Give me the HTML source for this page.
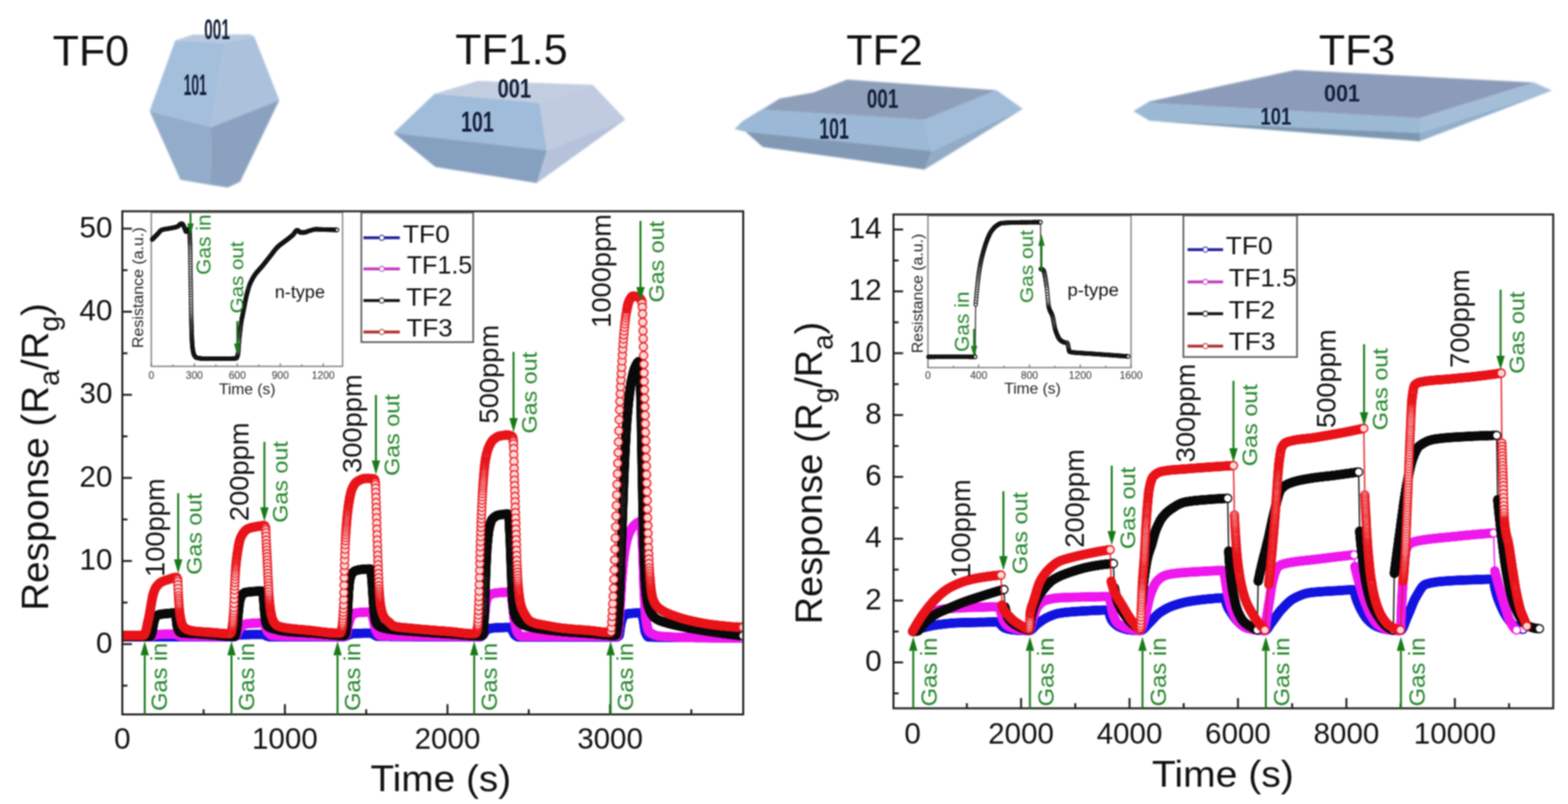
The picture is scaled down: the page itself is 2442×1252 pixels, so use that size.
<!DOCTYPE html>
<html><head><meta charset="utf-8"><title>TiO2 facets gas sensing response</title>
<style>
html,body{margin:0;padding:0;background:#fff;}
body{width:2442px;height:1252px;overflow:hidden;}
svg{display:block;filter:blur(0.9px);}
text{font-family:"Liberation Sans", Arial, Helvetica, sans-serif;}
</style></head><body>
<svg width="2442" height="1252" viewBox="0 0 2442 1252">
<rect width="2442" height="1252" fill="#fff"/>
<defs><filter id="soft" x="-5%" y="-5%" width="110%" height="110%"><feGaussianBlur stdDeviation="0.9"/></filter></defs>
<g filter="url(#soft)">
<polygon points="273.0,63.0 300.0,54.0 390.0,53.5 396.0,57.0 350.0,67.0" fill="#b7c9de"/>
<polygon points="273.0,63.0 350.0,67.0 329.0,198.0 233.0,173.0" fill="#a4bfdc"/>
<polygon points="350.0,67.0 396.0,57.0 435.0,156.0 329.0,198.0" fill="#abc1dc"/>
<polygon points="233.0,173.0 329.0,198.0 328.0,288.0 281.0,280.0" fill="#93acc9"/>
<polygon points="329.0,198.0 435.0,156.0 374.0,283.0 355.0,292.0 328.0,288.0" fill="#8aa2bf"/>
<polygon points="677.0,146.0 744.0,126.0 923.0,132.0 840.0,160.0" fill="#c3cde0"/>
<polygon points="613.0,207.0 677.0,146.0 840.0,160.0 852.0,234.0" fill="#9fbcda"/>
<polygon points="840.0,160.0 923.0,132.0 974.0,186.0 852.0,234.0" fill="#c0cbe0"/>
<polygon points="613.0,207.0 852.0,234.0 836.0,285.0 678.0,260.0" fill="#86a0bf"/>
<polygon points="852.0,234.0 974.0,186.0 836.0,285.0" fill="#b5c2da"/>
<polygon points="1144.0,201.0 1156.0,189.0 1214.0,153.5 1190.0,171.0 1440.0,186.5 1452.0,235.0 1161.0,205.0" fill="#9bb8d6"/>
<polygon points="1190.0,171.0 1214.0,153.5 1267.0,144.0 1319.0,124.0 1552.0,140.5 1440.0,186.5" fill="#8e9fb9"/>
<polygon points="1440.0,186.5 1552.0,140.5 1593.0,169.5 1452.0,235.0" fill="#a0bcd9"/>
<polygon points="1161.0,205.0 1452.0,235.0 1440.0,264.0 1188.0,229.0" fill="#8199b5"/>
<polygon points="1452.0,235.0 1593.0,169.5 1440.0,264.0" fill="#93abc6"/>
<polygon points="1765.0,173.0 1790.0,158.0 1790.0,160.0 2211.0,184.0 2211.0,207.0 1790.0,188.0" fill="#9bb9d4"/>
<polygon points="1790.0,160.0 1790.0,158.0 2017.0,109.0 2389.0,128.5 2211.0,184.0" fill="#8c9bb9"/>
<polygon points="2211.0,184.0 2389.0,128.5 2417.0,141.0 2211.0,207.0" fill="#a5bed8"/>
<polygon points="1790.0,188.0 2211.0,207.0 2211.0,220.0" fill="#7b98b0"/>
<polygon points="2211.0,207.0 2417.0,141.0 2211.0,220.0" fill="#93afcc"/>
</g>
<text x="318.0" y="61.0" font-size="44" fill="#15203a" textLength="40" lengthAdjust="spacingAndGlyphs" font-weight="bold">001</text>
<text x="286.0" y="148.0" font-size="46" fill="#15203a" textLength="36" lengthAdjust="spacingAndGlyphs" font-weight="bold">101</text>
<text x="775.0" y="152.0" font-size="42" fill="#15203a" textLength="52" lengthAdjust="spacingAndGlyphs" font-weight="bold">001</text>
<text x="718.0" y="205.0" font-size="44" fill="#15203a" textLength="51" lengthAdjust="spacingAndGlyphs" font-weight="bold">101</text>
<text x="1350.0" y="168.0" font-size="42" fill="#15203a" textLength="49" lengthAdjust="spacingAndGlyphs" font-weight="bold">001</text>
<text x="1276.0" y="216.0" font-size="46" fill="#15203a" textLength="46" lengthAdjust="spacingAndGlyphs" font-weight="bold">101</text>
<text x="2062.0" y="158.0" font-size="37" fill="#15203a" textLength="56" lengthAdjust="spacingAndGlyphs" font-weight="bold">001</text>
<text x="1963.0" y="194.0" font-size="37" fill="#15203a" textLength="48" lengthAdjust="spacingAndGlyphs" font-weight="bold">101</text>
<text x="82.0" y="102.0" font-size="67" fill="#111">TF0</text>
<text x="709.0" y="100.0" font-size="67" fill="#111">TF1.5</text>
<text x="1318.0" y="101.0" font-size="67" fill="#111">TF2</text>
<text x="2054.0" y="101.0" font-size="67" fill="#111">TF3</text>
<line x1="190.5" y1="1067.7" x2="198.5" y2="1067.7" stroke="#1c1c1c" stroke-width="3"/>
<line x1="190.5" y1="1003.0" x2="205.5" y2="1003.0" stroke="#1c1c1c" stroke-width="3"/>
<line x1="190.5" y1="938.3" x2="198.5" y2="938.3" stroke="#1c1c1c" stroke-width="3"/>
<line x1="190.5" y1="873.6" x2="205.5" y2="873.6" stroke="#1c1c1c" stroke-width="3"/>
<line x1="190.5" y1="808.9" x2="198.5" y2="808.9" stroke="#1c1c1c" stroke-width="3"/>
<line x1="190.5" y1="744.2" x2="205.5" y2="744.2" stroke="#1c1c1c" stroke-width="3"/>
<line x1="190.5" y1="679.5" x2="198.5" y2="679.5" stroke="#1c1c1c" stroke-width="3"/>
<line x1="190.5" y1="614.8" x2="205.5" y2="614.8" stroke="#1c1c1c" stroke-width="3"/>
<line x1="190.5" y1="550.1" x2="198.5" y2="550.1" stroke="#1c1c1c" stroke-width="3"/>
<line x1="190.5" y1="485.4" x2="205.5" y2="485.4" stroke="#1c1c1c" stroke-width="3"/>
<line x1="190.5" y1="420.7" x2="198.5" y2="420.7" stroke="#1c1c1c" stroke-width="3"/>
<line x1="190.5" y1="356.0" x2="205.5" y2="356.0" stroke="#1c1c1c" stroke-width="3"/>
<line x1="317.1" y1="1112.5" x2="317.1" y2="1104.5" stroke="#1c1c1c" stroke-width="3"/>
<line x1="443.7" y1="1112.5" x2="443.7" y2="1096.5" stroke="#1c1c1c" stroke-width="3"/>
<line x1="570.3" y1="1112.5" x2="570.3" y2="1104.5" stroke="#1c1c1c" stroke-width="3"/>
<line x1="696.9" y1="1112.5" x2="696.9" y2="1096.5" stroke="#1c1c1c" stroke-width="3"/>
<line x1="823.5" y1="1112.5" x2="823.5" y2="1104.5" stroke="#1c1c1c" stroke-width="3"/>
<line x1="950.1" y1="1112.5" x2="950.1" y2="1096.5" stroke="#1c1c1c" stroke-width="3"/>
<line x1="1076.7" y1="1112.5" x2="1076.7" y2="1104.5" stroke="#1c1c1c" stroke-width="3"/>
<text x="175.0" y="1016.5" font-size="46" fill="#111" text-anchor="end">0</text>
<text x="175.0" y="887.1" font-size="46" fill="#111" text-anchor="end">10</text>
<text x="175.0" y="757.7" font-size="46" fill="#111" text-anchor="end">20</text>
<text x="175.0" y="628.3" font-size="46" fill="#111" text-anchor="end">30</text>
<text x="175.0" y="498.9" font-size="46" fill="#111" text-anchor="end">40</text>
<text x="175.0" y="369.5" font-size="46" fill="#111" text-anchor="end">50</text>
<text x="190.5" y="1166.0" font-size="46" fill="#111" text-anchor="middle">0</text>
<text x="443.7" y="1166.0" font-size="46" fill="#111" text-anchor="middle">1000</text>
<text x="696.9" y="1166.0" font-size="46" fill="#111" text-anchor="middle">2000</text>
<text x="950.1" y="1166.0" font-size="46" fill="#111" text-anchor="middle">3000</text>
<text x="577.0" y="1232.0" font-size="58" fill="#111" textLength="219" lengthAdjust="spacingAndGlyphs">Time (s)</text>
<text transform="translate(75,951) rotate(-90)" font-size="60" fill="#111">Response (R<tspan font-size="44" dy="17">a</tspan><tspan dy="-17">/R</tspan><tspan font-size="44" dy="17">g</tspan><tspan dy="-17">)</tspan></text>
<defs><marker id="mB" markerUnits="userSpaceOnUse" markerWidth="20" markerHeight="20" refX="10.0" refY="10.0" viewBox="0 0 20 20" overflow="visible"><circle cx="10.0" cy="10.0" r="6.3" fill="#fff" stroke="#1414e0" stroke-width="1.9"/></marker><marker id="mM" markerUnits="userSpaceOnUse" markerWidth="20" markerHeight="20" refX="10.0" refY="10.0" viewBox="0 0 20 20" overflow="visible"><circle cx="10.0" cy="10.0" r="6.3" fill="#fff" stroke="#ee18ee" stroke-width="1.9"/></marker><marker id="mK" markerUnits="userSpaceOnUse" markerWidth="20" markerHeight="20" refX="10.0" refY="10.0" viewBox="0 0 20 20" overflow="visible"><circle cx="10.0" cy="10.0" r="6.3" fill="#fff" stroke="#0a0a0a" stroke-width="1.9"/></marker><marker id="mR" markerUnits="userSpaceOnUse" markerWidth="20" markerHeight="20" refX="10.0" refY="10.0" viewBox="0 0 20 20" overflow="visible"><circle cx="10.0" cy="10.0" r="6.3" fill="#fcd9d9" stroke="#e8141a" stroke-width="1.9"/></marker><clipPath id="clipL"><rect x="192" y="331" width="964" height="780"/></clipPath><clipPath id="clipR"><rect x="1393" y="336" width="1025" height="766"/></clipPath><marker id="mi" markerUnits="userSpaceOnUse" markerWidth="12" markerHeight="12" refX="6.0" refY="6.0" viewBox="0 0 12 12" overflow="visible"><circle cx="6.0" cy="6.0" r="2.7" fill="#fff" stroke="#111" stroke-width="1.5"/></marker></defs>
<g clip-path="url(#clipL)">
<polyline points="190.5,991.5 191.5,991.5 192.5,991.5 193.6,991.5 194.6,991.5 195.6,991.5 196.6,991.5 197.6,991.5 198.7,991.5 199.7,991.5 200.7,991.5 201.7,991.5 202.7,991.5 203.8,991.5 204.8,991.5 205.8,991.5 206.8,991.5 207.8,991.5 208.9,991.5 209.9,991.5 210.9,991.5 211.9,991.5 212.9,991.5 214.0,991.5 215.0,991.5 216.0,991.5 217.0,991.5 218.0,991.5 219.1,991.5 220.1,991.5 221.1,991.5 222.1,991.5 223.1,991.5 224.2,991.5 225.2,991.5 226.2,991.5 227.2,991.5 228.2,991.5 229.3,991.5 230.3,991.5 231.3,991.5 232.3,991.5 233.3,991.5 234.4,991.5 235.4,991.5 236.4,991.5 237.4,991.5 238.4,991.5 239.5,991.5 240.5,991.5 241.5,991.5 242.5,991.5 243.5,991.5 244.6,991.5 245.6,991.5 246.6,991.5 247.6,991.5 248.6,991.5 249.7,991.5 250.7,991.5 251.7,991.5 252.7,991.5 253.7,991.5 254.8,991.5 255.8,991.5 256.8,991.5 257.8,991.5 258.8,991.5 259.9,991.5 260.9,991.5 261.9,991.5 262.9,991.5 263.9,991.5 265.0,991.5 266.0,991.5 267.0,991.5 268.0,991.5 269.0,991.5 270.1,991.5 271.1,991.5 272.1,991.5 273.1,991.5 274.1,991.5 275.2,991.5 276.2,991.5 277.2,991.5 278.2,991.5 279.2,991.5 280.3,991.5 281.3,991.5 282.3,991.5 283.3,991.5 284.3,991.5 285.4,991.5 286.4,991.5 287.4,991.5 288.4,991.5 289.4,991.5 290.5,991.5 291.5,991.5 292.5,991.5 293.5,991.5 294.5,991.5 295.6,991.5 296.6,991.5 297.6,991.5 298.6,991.5 299.6,991.5 300.7,991.5 301.7,991.5 302.7,991.5 303.7,991.5 304.7,991.5 305.8,991.5 306.8,991.5 307.8,991.5 308.8,991.5 309.8,991.5 310.9,991.5 311.9,991.5 312.9,991.5 313.9,991.5 314.9,991.5 316.0,991.5 317.0,991.5 318.0,991.5 319.0,991.5 320.0,991.5 321.1,991.5 322.1,991.5 323.1,991.5 324.1,991.5 325.1,991.5 326.2,991.5 327.2,991.5 328.2,991.5 329.2,991.5 330.2,991.5 331.3,991.5 332.3,991.5 333.3,991.5 334.3,991.5 335.3,991.5 336.4,991.5 337.4,991.5 338.4,991.5 339.4,991.5 340.4,991.5 341.5,991.5 342.5,991.5 343.5,991.5 344.5,991.5 345.5,991.5 346.6,991.5 347.6,991.5 348.6,991.5 349.6,991.5 350.6,991.5 351.7,991.5 352.7,991.5 353.7,991.5 354.7,991.5 355.7,991.5 356.8,991.5 357.8,991.5 358.8,991.5 359.8,991.5 360.8,991.5 361.9,991.5 362.9,991.5 363.9,991.5 364.9,991.5 365.9,991.2 366.8,990.7 367.6,990.1 368.6,989.8 369.6,989.5 370.6,989.2 371.5,989.0 372.5,988.8 373.5,988.6 374.5,988.5 375.6,988.5 376.6,988.4 377.6,988.4 378.6,988.4 379.6,988.4 380.7,988.3 381.7,988.3 382.7,988.3 383.7,988.3 384.7,988.2 385.8,988.2 386.8,988.2 387.8,988.2 388.8,988.2 389.8,988.1 390.9,988.1 391.9,988.1 392.9,988.1 393.9,988.1 394.9,988.1 396.0,988.1 397.0,988.1 398.0,988.0 399.0,988.0 400.0,988.0 401.1,988.0 402.1,988.0 403.1,988.0 404.1,988.0 405.1,988.0 406.2,988.0 407.2,988.0 408.2,988.0 409.2,988.0 410.2,988.0 411.2,988.4 412.1,988.9 412.9,989.4 413.8,989.9 414.8,990.3 415.7,990.6 416.7,990.9 417.7,991.2 418.7,991.4 419.7,991.5 420.7,991.5 421.7,991.5 422.8,991.5 423.8,991.5 424.8,991.5 425.8,991.5 426.8,991.5 427.9,991.5 428.9,991.5 429.9,991.5 430.9,991.5 431.9,991.5 433.0,991.5 434.0,991.5 435.0,991.5 436.0,991.5 437.0,991.5 438.1,991.5 439.1,991.5 440.1,991.5 441.1,991.5 442.1,991.5 443.2,991.5 444.2,991.5 445.2,991.5 446.2,991.5 447.2,991.5 448.3,991.5 449.3,991.5 450.3,991.5 451.3,991.5 452.3,991.5 453.4,991.5 454.4,991.5 455.4,991.5 456.4,991.5 457.4,991.5 458.5,991.5 459.5,991.5 460.5,991.5 461.5,991.5 462.5,991.5 463.6,991.5 464.6,991.5 465.6,991.5 466.6,991.5 467.6,991.5 468.7,991.5 469.7,991.5 470.7,991.5 471.7,991.5 472.7,991.5 473.8,991.5 474.8,991.5 475.8,991.5 476.8,991.5 477.8,991.5 478.9,991.5 479.9,991.5 480.9,991.5 481.9,991.5 482.9,991.5 484.0,991.5 485.0,991.5 486.0,991.5 487.0,991.5 488.0,991.5 489.1,991.5 490.1,991.5 491.1,991.5 492.1,991.5 493.1,991.5 494.2,991.5 495.2,991.5 496.2,991.5 497.2,991.5 498.2,991.5 499.3,991.5 500.3,991.5 501.3,991.5 502.3,991.5 503.3,991.5 504.4,991.5 505.4,991.5 506.4,991.5 507.4,991.5 508.4,991.5 509.5,991.5 510.5,991.5 511.5,991.5 512.5,991.5 513.5,991.5 514.6,991.5 515.6,991.5 516.6,991.5 517.6,991.5 518.6,991.5 519.7,991.5 520.7,991.5 521.7,991.5 522.7,991.5 523.7,991.5 524.8,991.5 525.8,991.5 526.8,991.5 527.8,991.5 528.8,991.5 529.9,991.5 530.9,991.5 531.9,991.5 532.9,991.5 533.9,991.5 535.0,991.5 536.0,991.4 537.0,991.2 537.9,990.9 538.9,990.5 539.8,990.2 540.8,989.8 541.7,989.4 542.6,988.9 543.6,988.5 544.5,988.1 545.5,987.9 546.5,987.6 547.5,987.4 548.5,987.1 549.5,986.9 550.5,986.8 551.5,986.6 552.5,986.5 553.5,986.5 554.5,986.4 555.6,986.4 556.6,986.4 557.6,986.3 558.6,986.3 559.6,986.3 560.7,986.2 561.7,986.2 562.7,986.2 563.7,986.2 564.7,986.1 565.8,986.1 566.8,986.1 567.8,986.1 568.8,986.1 569.8,986.0 570.9,986.0 571.9,986.0 572.9,986.0 573.9,986.0 574.9,986.0 576.0,986.0 577.0,986.0 578.0,986.0 579.0,986.2 579.9,986.7 580.7,987.2 581.6,987.8 582.5,988.3 583.4,988.8 584.2,989.4 585.1,989.9 586.0,990.4 586.9,990.8 587.9,991.0 588.9,991.0 589.9,991.0 591.0,991.0 592.0,991.0 593.0,991.0 594.0,991.1 595.0,991.1 596.1,991.1 597.1,991.1 598.1,991.1 599.1,991.1 600.1,991.1 601.2,991.1 602.2,991.1 603.2,991.1 604.2,991.1 605.2,991.1 606.3,991.1 607.3,991.2 608.3,991.2 609.3,991.2 610.3,991.2 611.4,991.2 612.4,991.2 613.4,991.2 614.4,991.2 615.4,991.2 616.5,991.2 617.5,991.2 618.5,991.2 619.5,991.2 620.5,991.2 621.6,991.2 622.6,991.3 623.6,991.3 624.6,991.3 625.6,991.3 626.7,991.3 627.7,991.3 628.7,991.3 629.7,991.3 630.7,991.3 631.8,991.3 632.8,991.3 633.8,991.3 634.8,991.3 635.8,991.3 636.9,991.3 637.9,991.3 638.9,991.3 639.9,991.3 640.9,991.3 642.0,991.3 643.0,991.3 644.0,991.4 645.0,991.4 646.0,991.4 647.1,991.4 648.1,991.4 649.1,991.4 650.1,991.4 651.1,991.4 652.2,991.4 653.2,991.4 654.2,991.4 655.2,991.4 656.2,991.4 657.3,991.4 658.3,991.4 659.3,991.4 660.3,991.4 661.3,991.4 662.4,991.4 663.4,991.4 664.4,991.4 665.4,991.4 666.4,991.4 667.5,991.4 668.5,991.4 669.5,991.4 670.5,991.4 671.5,991.4 672.6,991.4 673.6,991.4 674.6,991.4 675.6,991.4 676.6,991.4 677.7,991.5 678.7,991.5 679.7,991.5 680.7,991.5 681.7,991.5 682.8,991.5 683.8,991.5 684.8,991.5 685.8,991.5 686.8,991.5 687.9,991.5 688.9,991.5 689.9,991.5 690.9,991.5 691.9,991.5 693.0,991.5 694.0,991.5 695.0,991.5 696.0,991.5 697.0,991.5 698.1,991.5 699.1,991.5 700.1,991.5 701.1,991.5 702.1,991.5 703.2,991.5 704.2,991.5 705.2,991.5 706.2,991.5 707.2,991.5 708.3,991.5 709.3,991.5 710.3,991.5 711.3,991.5 712.3,991.5 713.4,991.5 714.4,991.5 715.4,991.5 716.4,991.5 717.4,991.5 718.5,991.5 719.5,991.5 720.5,991.5 721.5,991.5 722.5,991.5 723.6,991.5 724.6,991.5 725.6,991.5 726.6,991.5 727.6,991.5 728.7,991.5 729.7,991.5 730.7,991.5 731.7,991.5 732.7,991.5 733.8,991.5 734.8,991.5 735.8,991.5 736.8,991.5 737.8,991.5 738.9,991.5 739.9,991.5 740.9,991.5 741.9,991.5 742.9,991.5 744.0,991.5 745.0,991.5 746.0,991.5 747.0,991.5 748.0,991.5 749.0,991.3 749.9,990.8 750.7,990.1 751.5,989.4 752.2,988.8 752.9,987.9 753.4,987.1 753.9,986.2 754.4,985.2 754.9,984.4 755.5,983.5 756.2,982.8 757.0,982.1 757.7,981.4 758.5,980.8 759.4,980.2 760.2,979.7 761.2,979.3 762.1,979.0 763.1,978.8 764.1,978.6 765.1,978.4 766.1,978.3 767.1,978.1 768.1,978.0 769.2,977.9 770.2,977.8 771.2,977.7 772.2,977.6 773.2,977.6 774.3,977.5 775.3,977.5 776.3,977.4 777.3,977.4 778.3,977.4 779.4,977.3 780.4,977.3 781.4,977.3 782.4,977.2 783.4,977.2 784.5,977.2 785.5,977.1 786.5,977.1 787.5,977.1 788.5,977.1 789.6,977.0 790.6,977.0 791.6,977.0 792.6,977.0 793.6,977.0 794.7,977.0 795.6,977.4 796.2,978.3 796.6,979.2 797.1,980.1 797.5,981.0 798.0,981.9 798.5,982.9 799.0,983.8 799.4,984.7 799.9,985.7 800.3,986.6 800.8,987.5 801.4,988.4 802.1,989.1 802.9,989.7 803.8,990.3 804.6,990.9 805.5,991.4 806.4,991.7 807.4,992.0 808.4,992.0 809.5,992.0 810.5,992.0 811.5,992.0 812.5,992.0 813.5,992.0 814.6,992.0 815.6,992.0 816.6,992.0 817.6,992.0 818.6,992.0 819.7,992.0 820.7,992.0 821.7,992.0 822.7,992.0 823.7,992.0 824.8,992.0 825.8,992.0 826.8,992.0 827.8,992.0 828.8,992.0 829.9,992.0 830.9,992.0 831.9,992.0 832.9,992.0 833.9,992.0 835.0,992.0 836.0,992.0 837.0,992.0 838.0,992.0 839.0,992.0 840.1,992.0 841.1,992.0 842.1,992.0 843.1,992.0 844.1,992.0 845.2,992.0 846.2,992.0 847.2,992.0 848.2,992.0 849.2,992.0 850.3,992.0 851.3,992.0 852.3,992.0 853.3,992.0 854.3,992.0 855.4,992.0 856.4,992.0 857.4,992.0 858.4,992.0 859.4,992.0 860.5,992.0 861.5,992.0 862.5,992.0 863.5,992.0 864.5,992.0 865.6,992.0 866.6,992.0 867.6,992.0 868.6,992.0 869.6,992.0 870.7,992.0 871.7,992.0 872.7,992.0 873.7,992.0 874.7,992.0 875.8,992.0 876.8,992.0 877.8,992.0 878.8,992.0 879.8,992.0 880.9,992.0 881.9,992.0 882.9,992.0 883.9,992.0 884.9,992.0 886.0,992.0 887.0,992.0 888.0,992.0 889.0,992.0 890.0,992.0 891.1,992.0 892.1,992.0 893.1,992.0 894.1,992.0 895.1,992.0 896.2,992.0 897.2,992.0 898.2,992.0 899.2,992.0 900.2,992.0 901.3,992.0 902.3,992.0 903.3,992.0 904.3,992.0 905.3,992.0 906.4,992.0 907.4,992.0 908.4,992.0 909.4,992.0 910.4,992.0 911.5,992.0 912.5,992.0 913.5,992.0 914.5,992.0 915.5,992.0 916.6,992.0 917.6,992.0 918.6,992.0 919.6,992.0 920.6,992.0 921.7,992.0 922.7,992.0 923.7,992.0 924.7,992.0 925.7,992.0 926.8,992.0 927.8,992.0 928.8,992.0 929.8,992.0 930.8,992.0 931.9,992.0 932.9,992.0 933.9,992.0 934.9,992.0 935.9,992.0 937.0,992.0 938.0,992.0 939.0,992.0 940.0,992.0 941.0,992.0 942.1,992.0 943.1,992.0 944.1,992.0 945.1,992.0 946.1,992.0 947.2,992.0 948.2,992.0 949.2,992.0 950.2,992.0 951.2,992.0 952.3,992.0 953.3,992.0 954.3,992.0 955.3,992.0 956.3,992.0 957.4,992.0 958.4,992.0 959.4,992.0 960.4,992.0 961.4,991.7 962.3,991.3 963.2,990.7 964.0,990.0 964.4,989.1 964.6,988.0 964.8,987.1 965.0,985.9 965.1,984.9 965.3,983.8 965.4,982.7 965.6,981.5 965.7,980.4 965.9,979.2 966.0,978.0 966.2,976.9 966.3,975.8 966.5,974.8 966.7,973.7 966.9,972.6 967.1,971.6 967.4,970.5 967.6,969.4 967.9,968.3 968.2,967.3 968.5,966.3 968.8,965.3 969.1,964.3 969.4,963.3 969.7,962.3 970.2,961.3 970.7,960.4 971.4,959.6 972.1,958.9 972.9,958.3 973.7,957.6 974.5,957.1 975.4,956.6 976.4,956.2 977.3,955.8 978.3,955.6 979.3,955.5 980.4,955.4 981.4,955.3 982.4,955.2 983.4,955.1 984.4,955.0 985.5,954.9 986.5,954.9 987.5,954.8 988.5,954.8 989.5,954.7 990.6,954.7 991.6,954.6 992.6,954.6 993.6,954.6 994.6,954.5 995.7,954.5 996.7,954.5 997.7,954.5 998.7,954.5 999.5,955.1 999.9,956.1 1000.2,957.1 1000.4,958.1 1000.6,959.2 1000.9,960.2 1001.1,961.3 1001.3,962.4 1001.5,963.5 1001.7,964.5 1001.9,965.6 1002.1,966.6 1002.3,967.7 1002.5,968.8 1002.7,970.0 1002.8,971.0 1003.0,972.1 1003.1,973.2 1003.3,974.2 1003.4,975.3 1003.6,976.4 1003.7,977.5 1003.9,978.5 1004.1,979.6 1004.2,980.7 1004.4,981.7 1004.6,982.7 1004.9,983.7 1005.3,984.7 1005.7,985.7 1006.0,986.6 1006.5,987.6 1006.9,988.6 1007.4,989.5 1007.9,990.4 1008.6,991.2 1009.3,991.8 1010.3,992.0 1011.4,992.0 1012.4,992.0 1013.4,992.1 1014.4,992.1 1015.4,992.1 1016.5,992.1 1017.5,992.1 1018.5,992.2 1019.5,992.2 1020.5,992.2 1021.6,992.2 1022.6,992.2 1023.6,992.2 1024.6,992.3 1025.6,992.3 1026.7,992.3 1027.7,992.3 1028.7,992.3 1029.7,992.3 1030.7,992.4 1031.8,992.4 1032.8,992.4 1033.8,992.4 1034.8,992.4 1035.8,992.4 1036.9,992.4 1037.9,992.5 1038.9,992.5 1039.9,992.5 1040.9,992.5 1042.0,992.5 1043.0,992.5 1044.0,992.5 1045.0,992.5 1046.0,992.6 1047.1,992.6 1048.1,992.6 1049.1,992.6 1050.1,992.6 1051.1,992.6 1052.2,992.6 1053.2,992.6 1054.2,992.6 1055.2,992.7 1056.2,992.7 1057.3,992.7 1058.3,992.7 1059.3,992.7 1060.3,992.7 1061.3,992.7 1062.4,992.7 1063.4,992.7 1064.4,992.7 1065.4,992.7 1066.4,992.7 1067.5,992.8 1068.5,992.8 1069.5,992.8 1070.5,992.8 1071.5,992.8 1072.6,992.8 1073.6,992.8 1074.6,992.8 1075.6,992.8 1076.6,992.8 1077.7,992.8 1078.7,992.8 1079.7,992.8 1080.7,992.8 1081.7,992.9 1082.8,992.9 1083.8,992.9 1084.8,992.9 1085.8,992.9 1086.8,992.9 1087.9,992.9 1088.9,992.9 1089.9,992.9 1090.9,992.9 1091.9,992.9 1093.0,992.9 1094.0,992.9 1095.0,992.9 1096.0,992.9 1097.0,992.9 1098.1,992.9 1099.1,992.9 1100.1,992.9 1101.1,992.9 1102.1,992.9 1103.2,992.9 1104.2,992.9 1105.2,992.9 1106.2,992.9 1107.2,993.0 1108.3,993.0 1109.3,993.0 1110.3,993.0 1111.3,993.0 1112.3,993.0 1113.4,993.0 1114.4,993.0 1115.4,993.0 1116.4,993.0 1117.4,993.0 1118.5,993.0 1119.5,993.0 1120.5,993.0 1121.5,993.0 1122.5,993.0 1123.6,993.0 1124.6,993.0 1125.6,993.0 1126.6,993.0 1127.6,993.0 1128.7,993.0 1129.7,993.0 1130.7,993.0 1131.7,993.0 1132.7,993.0 1133.8,993.0 1134.8,993.0 1135.8,993.0 1136.8,993.0 1137.8,993.0 1138.9,993.0 1139.9,993.0 1140.9,993.0 1141.9,993.0 1142.9,993.0 1144.0,993.0 1145.0,993.0 1146.0,993.0 1147.0,993.0 1148.0,993.0 1149.1,993.0 1150.1,993.0 1151.1,993.0 1152.1,993.0 1153.1,993.0 1154.2,993.0 1155.2,993.0 1156.2,993.0 1157.0,993.0" fill="none" stroke="#1414e0" stroke-width="2" stroke-linejoin="round" marker-start="url(#mB)" marker-mid="url(#mB)" marker-end="url(#mB)"/>
<polyline points="190.5,991.0 191.5,991.0 192.5,991.0 193.6,991.0 194.6,991.0 195.6,991.0 196.6,991.0 197.6,991.0 198.7,991.0 199.7,991.0 200.7,991.0 201.7,991.0 202.7,991.0 203.8,991.0 204.8,991.0 205.8,991.0 206.8,991.0 207.8,991.0 208.9,991.0 209.9,991.0 210.9,991.0 211.9,991.0 212.9,991.0 214.0,991.0 215.0,991.0 216.0,991.0 217.0,991.0 218.0,991.0 219.1,991.0 220.1,991.0 221.1,991.0 222.1,991.0 223.1,991.0 224.2,991.0 225.2,991.0 226.2,991.0 227.2,991.0 228.2,991.0 229.3,991.0 230.3,991.0 231.3,991.0 232.3,991.0 233.3,991.0 234.4,991.0 235.4,991.0 236.4,991.0 237.3,990.5 238.2,990.0 239.0,989.4 239.9,989.0 240.9,988.8 241.9,988.6 242.9,988.5 243.9,988.3 245.0,988.2 246.0,988.1 247.0,988.1 248.0,988.0 249.0,988.0 250.1,987.9 251.1,987.9 252.1,987.8 253.1,987.8 254.1,987.8 255.2,987.8 256.2,987.7 257.2,987.7 258.2,987.7 259.2,987.6 260.2,987.6 261.3,987.6 262.3,987.6 263.3,987.6 264.3,987.6 265.3,987.5 266.4,987.5 267.4,987.5 268.4,987.5 269.4,987.5 270.4,987.5 271.5,987.5 272.5,987.5 273.4,987.9 274.4,988.3 275.3,988.7 276.2,989.1 277.2,989.4 278.2,989.7 279.1,989.9 280.1,990.2 281.1,990.5 282.1,990.7 283.1,990.9 284.1,991.0 285.1,991.0 286.1,991.0 287.2,991.0 288.2,991.0 289.2,991.0 290.2,991.0 291.2,991.0 292.3,991.0 293.3,991.0 294.3,991.0 295.3,991.0 296.3,991.0 297.4,991.0 298.4,991.0 299.4,991.0 300.4,991.0 301.4,991.0 302.5,991.0 303.5,991.0 304.5,991.0 305.5,991.0 306.5,991.0 307.6,991.0 308.6,991.0 309.6,991.0 310.6,991.0 311.6,991.0 312.7,991.0 313.7,991.0 314.7,991.0 315.7,991.0 316.7,991.0 317.8,991.0 318.8,991.0 319.8,991.0 320.8,991.0 321.8,991.0 322.9,991.0 323.9,991.0 324.9,991.0 325.9,991.0 326.9,991.0 328.0,991.0 329.0,991.0 330.0,991.0 331.0,991.0 332.0,991.0 333.1,991.0 334.1,991.0 335.1,991.0 336.1,991.0 337.1,991.0 338.2,991.0 339.2,991.0 340.2,991.0 341.2,991.0 342.2,991.0 343.3,991.0 344.3,991.0 345.3,991.0 346.3,991.0 347.3,991.0 348.4,991.0 349.4,991.0 350.4,991.0 351.4,991.0 352.4,991.0 353.5,991.0 354.5,991.0 355.5,991.0 356.5,991.0 357.5,991.0 358.6,991.0 359.6,991.0 360.6,991.0 361.6,991.0 362.6,991.0 363.7,991.0 364.7,991.0 365.7,990.9 366.5,990.3 367.3,989.7 368.0,989.0 368.6,988.1 369.1,987.3 369.6,986.3 370.0,985.3 370.4,984.4 370.8,983.4 371.2,982.5 371.7,981.6 372.2,980.7 372.7,979.8 373.3,979.0 373.9,978.1 374.4,977.2 375.0,976.4 375.7,975.5 376.3,974.8 377.1,974.1 377.9,973.5 378.8,973.1 379.8,972.8 380.8,972.4 381.7,972.1 382.7,971.9 383.7,971.6 384.7,971.4 385.7,971.3 386.7,971.1 387.7,971.0 388.7,970.9 389.8,970.9 390.8,970.8 391.8,970.7 392.8,970.6 393.8,970.6 394.9,970.5 395.9,970.4 396.9,970.4 397.9,970.3 398.9,970.3 400.0,970.2 401.0,970.2 402.0,970.1 403.0,970.1 404.0,970.1 405.1,970.1 406.1,970.0 407.1,970.0 408.1,970.0 409.1,970.0 410.2,970.0 410.9,970.7 411.4,971.6 411.9,972.6 412.3,973.5 412.7,974.4 413.2,975.3 413.6,976.2 414.0,977.2 414.4,978.2 414.7,979.1 415.1,980.1 415.5,981.0 415.9,982.0 416.3,982.9 416.8,983.8 417.5,984.6 418.2,985.4 418.9,986.1 419.6,986.9 420.3,987.6 421.1,988.3 421.9,988.9 422.8,989.4 423.7,989.8 424.7,990.0 425.7,990.0 426.7,990.0 427.8,990.1 428.8,990.1 429.8,990.1 430.8,990.1 431.8,990.2 432.9,990.2 433.9,990.2 434.9,990.2 435.9,990.2 436.9,990.3 438.0,990.3 439.0,990.3 440.0,990.3 441.0,990.3 442.0,990.4 443.1,990.4 444.1,990.4 445.1,990.4 446.1,990.4 447.1,990.5 448.2,990.5 449.2,990.5 450.2,990.5 451.2,990.5 452.2,990.5 453.3,990.6 454.3,990.6 455.3,990.6 456.3,990.6 457.3,990.6 458.4,990.6 459.4,990.6 460.4,990.7 461.4,990.7 462.4,990.7 463.5,990.7 464.5,990.7 465.5,990.7 466.5,990.7 467.5,990.7 468.6,990.7 469.6,990.8 470.6,990.8 471.6,990.8 472.6,990.8 473.7,990.8 474.7,990.8 475.7,990.8 476.7,990.8 477.7,990.8 478.8,990.8 479.8,990.8 480.8,990.8 481.8,990.9 482.8,990.9 483.9,990.9 484.9,990.9 485.9,990.9 486.9,990.9 487.9,990.9 489.0,990.9 490.0,990.9 491.0,990.9 492.0,990.9 493.0,990.9 494.1,990.9 495.1,990.9 496.1,990.9 497.1,990.9 498.1,990.9 499.2,990.9 500.2,991.0 501.2,991.0 502.2,991.0 503.2,991.0 504.3,991.0 505.3,991.0 506.3,991.0 507.3,991.0 508.3,991.0 509.4,991.0 510.4,991.0 511.4,991.0 512.4,991.0 513.4,991.0 514.5,991.0 515.5,991.0 516.5,991.0 517.5,991.0 518.5,991.0 519.6,991.0 520.6,991.0 521.6,991.0 522.6,991.0 523.6,991.0 524.7,991.0 525.7,991.0 526.7,991.0 527.7,991.0 528.7,991.0 529.8,991.0 530.8,991.0 531.8,991.0 532.8,991.0 533.8,991.0 534.9,991.0 535.9,990.9 536.8,990.5 537.7,990.0 538.5,989.4 539.2,988.7 539.6,987.6 539.8,986.7 540.0,985.7 540.2,984.6 540.4,983.6 540.6,982.5 540.8,981.4 541.0,980.4 541.1,979.3 541.3,978.3 541.5,977.2 541.7,976.1 542.0,975.1 542.2,974.0 542.5,973.0 542.8,971.9 543.1,970.9 543.3,969.9 543.6,968.9 543.9,967.9 544.2,966.9 544.5,965.9 544.8,964.9 545.2,963.9 545.5,962.9 546.0,962.0 546.5,961.1 547.0,960.2 547.6,959.3 548.2,958.5 548.8,957.7 549.4,956.8 550.1,956.1 550.9,955.5 551.9,955.0 552.9,954.8 553.9,954.6 554.8,954.4 555.8,954.3 556.9,954.1 557.9,954.0 558.9,953.9 559.9,953.8 560.9,953.8 562.0,953.7 563.0,953.6 564.0,953.6 565.0,953.5 566.0,953.4 567.1,953.4 568.1,953.3 569.1,953.3 570.1,953.2 571.1,953.2 572.2,953.1 573.2,953.1 574.2,953.1 575.2,953.0 576.2,953.0 577.3,953.0 578.3,953.2 578.8,954.1 579.1,955.1 579.4,956.0 579.6,957.1 579.9,958.2 580.1,959.2 580.3,960.3 580.6,961.4 580.8,962.3 581.1,963.4 581.4,964.5 581.6,965.5 581.8,966.6 582.1,967.6 582.3,968.6 582.5,969.7 582.7,970.7 582.9,971.7 583.1,972.8 583.3,973.8 583.6,974.9 583.8,975.9 584.0,976.9 584.3,978.0 584.6,979.0 585.0,979.9 585.4,980.9 585.8,981.8 586.3,982.7 586.7,983.7 587.2,984.6 587.6,985.5 588.1,986.4 588.7,987.2 589.3,988.1 589.9,988.9 590.7,989.5 591.7,990.0 592.7,990.0 593.7,990.0 594.7,990.0 595.7,990.1 596.8,990.1 597.8,990.1 598.8,990.1 599.8,990.1 600.8,990.2 601.9,990.2 602.9,990.2 603.9,990.2 604.9,990.2 605.9,990.2 607.0,990.2 608.0,990.3 609.0,990.3 610.0,990.3 611.0,990.3 612.1,990.3 613.1,990.3 614.1,990.4 615.1,990.4 616.1,990.4 617.2,990.4 618.2,990.4 619.2,990.4 620.2,990.4 621.2,990.4 622.3,990.5 623.3,990.5 624.3,990.5 625.3,990.5 626.3,990.5 627.4,990.5 628.4,990.5 629.4,990.5 630.4,990.6 631.4,990.6 632.5,990.6 633.5,990.6 634.5,990.6 635.5,990.6 636.5,990.6 637.6,990.6 638.6,990.6 639.6,990.6 640.6,990.7 641.6,990.7 642.7,990.7 643.7,990.7 644.7,990.7 645.7,990.7 646.7,990.7 647.8,990.7 648.8,990.7 649.8,990.7 650.8,990.7 651.8,990.7 652.9,990.8 653.9,990.8 654.9,990.8 655.9,990.8 656.9,990.8 658.0,990.8 659.0,990.8 660.0,990.8 661.0,990.8 662.0,990.8 663.1,990.8 664.1,990.8 665.1,990.8 666.1,990.8 667.1,990.8 668.2,990.8 669.2,990.9 670.2,990.9 671.2,990.9 672.2,990.9 673.3,990.9 674.3,990.9 675.3,990.9 676.3,990.9 677.3,990.9 678.4,990.9 679.4,990.9 680.4,990.9 681.4,990.9 682.4,990.9 683.5,990.9 684.5,990.9 685.5,990.9 686.5,990.9 687.5,990.9 688.6,990.9 689.6,990.9 690.6,990.9 691.6,990.9 692.6,990.9 693.7,990.9 694.7,990.9 695.7,991.0 696.7,991.0 697.7,991.0 698.8,991.0 699.8,991.0 700.8,991.0 701.8,991.0 702.8,991.0 703.9,991.0 704.9,991.0 705.9,991.0 706.9,991.0 707.9,991.0 709.0,991.0 710.0,991.0 711.0,991.0 712.0,991.0 713.0,991.0 714.1,991.0 715.1,991.0 716.1,991.0 717.1,991.0 718.1,991.0 719.2,991.0 720.2,991.0 721.2,991.0 722.2,991.0 723.2,991.0 724.3,991.0 725.3,991.0 726.3,991.0 727.3,991.0 728.3,991.0 729.4,991.0 730.4,991.0 731.4,991.0 732.4,991.0 733.4,991.0 734.5,991.0 735.5,991.0 736.5,991.0 737.5,991.0 738.5,991.0 739.6,991.0 740.6,991.0 741.6,991.0 742.6,991.0 743.6,991.0 744.7,991.0 745.7,991.0 746.7,991.0 747.7,991.0 748.7,990.9 749.6,990.4 750.3,989.6 751.0,988.8 751.5,987.9 752.0,987.0 752.2,986.0 752.4,984.9 752.5,983.9 752.6,982.7 752.8,981.4 752.8,980.3 752.9,979.2 753.0,978.1 753.1,976.9 753.2,975.7 753.3,974.5 753.4,973.3 753.5,972.1 753.6,971.0 753.7,969.8 753.7,968.7 753.8,967.7 754.0,966.4 754.1,965.2 754.2,964.0 754.3,962.7 754.4,961.4 754.6,960.1 754.6,959.1 754.7,958.1 754.8,957.1 754.9,956.1 755.0,955.1 755.1,954.0 755.2,953.0 755.3,951.7 755.4,950.4 755.5,949.2 755.7,947.9 755.8,946.7 755.9,945.6 756.0,944.5 756.1,943.4 756.3,942.4 756.4,941.3 756.6,940.2 756.7,939.2 757.0,938.2 757.2,937.2 757.5,936.1 757.8,935.1 758.2,934.1 758.5,933.1 758.8,932.1 759.2,931.2 759.7,930.2 760.1,929.3 760.7,928.4 761.3,927.6 762.1,926.9 763.0,926.4 763.9,925.9 764.8,925.5 765.7,925.1 766.6,924.7 767.6,924.4 768.6,924.1 769.6,923.9 770.6,923.7 771.6,923.6 772.6,923.4 773.6,923.3 774.6,923.2 775.6,923.1 776.7,923.0 777.7,922.9 778.7,922.8 779.7,922.7 780.7,922.6 781.8,922.5 782.8,922.5 783.8,922.4 784.8,922.3 785.8,922.3 786.9,922.2 787.9,922.2 788.9,922.1 789.9,922.1 790.9,922.1 792.0,922.0 793.0,922.0 794.0,922.0 795.0,922.0 795.6,922.9 795.8,923.9 796.0,924.9 796.3,926.0 796.4,927.1 796.6,928.3 796.8,929.3 796.9,930.3 797.1,931.4 797.2,932.5 797.4,933.5 797.5,934.6 797.7,935.7 797.8,936.8 798.0,937.8 798.1,938.8 798.3,940.0 798.4,941.2 798.5,942.3 798.7,943.4 798.8,944.5 798.9,945.7 799.0,946.9 799.1,948.1 799.3,949.4 799.4,950.6 799.5,951.9 799.6,953.1 799.7,954.3 799.9,955.6 800.0,956.7 800.1,957.9 800.2,959.0 800.3,960.1 800.5,961.1 800.6,962.4 800.8,963.5 800.9,964.5 801.1,965.5 801.3,966.5 801.4,967.5 801.6,968.5 801.8,969.6 802.0,970.7 802.3,971.8 802.5,972.9 802.7,973.9 802.9,974.9 803.1,976.0 803.4,977.0 803.6,978.0 803.9,979.1 804.1,980.1 804.4,981.1 804.8,982.2 805.1,983.2 805.5,984.1 806.0,985.0 806.5,985.9 807.1,986.8 807.7,987.6 808.3,988.4 808.9,989.2 809.7,989.9 810.5,990.5 811.4,990.9 812.4,991.0 813.4,991.0 814.5,991.0 815.5,991.0 816.5,991.0 817.5,991.0 818.5,991.0 819.6,991.0 820.6,991.0 821.6,991.0 822.6,991.0 823.6,991.0 824.7,991.0 825.7,991.0 826.7,991.0 827.7,991.0 828.7,991.0 829.8,991.0 830.8,991.0 831.8,991.0 832.8,991.0 833.8,991.0 834.9,991.0 835.9,991.0 836.9,991.0 837.9,991.0 838.9,991.0 840.0,991.0 841.0,991.0 842.0,991.0 843.0,991.0 844.0,991.0 845.1,991.0 846.1,991.0 847.1,991.0 848.1,991.0 849.1,991.0 850.2,991.0 851.2,991.0 852.2,991.0 853.2,991.0 854.2,991.0 855.3,991.0 856.3,991.0 857.3,991.0 858.3,991.0 859.3,991.0 860.4,991.0 861.4,991.0 862.4,991.0 863.4,991.0 864.4,991.0 865.5,991.0 866.5,991.0 867.5,991.0 868.5,991.0 869.5,991.0 870.6,991.0 871.6,991.0 872.6,991.0 873.6,991.0 874.6,991.0 875.7,991.0 876.7,991.0 877.7,991.0 878.7,991.0 879.7,991.0 880.8,991.0 881.8,991.0 882.8,991.0 883.8,991.0 884.8,991.0 885.9,991.0 886.9,991.0 887.9,991.0 888.9,991.0 889.9,991.0 891.0,991.0 892.0,991.0 893.0,991.0 894.0,991.0 895.0,991.0 896.1,991.0 897.1,991.0 898.1,991.0 899.1,991.0 900.1,991.0 901.2,991.0 902.2,991.0 903.2,991.0 904.2,991.0 905.2,991.0 906.3,991.0 907.3,991.0 908.3,991.0 909.3,991.0 910.3,991.0 911.4,991.0 912.4,991.0 913.4,991.0 914.4,991.0 915.4,991.0 916.5,991.0 917.5,991.0 918.5,991.0 919.5,991.0 920.5,991.0 921.6,991.0 922.6,991.0 923.6,991.0 924.6,991.0 925.6,991.0 926.7,991.0 927.7,991.0 928.7,991.0 929.7,991.0 930.7,991.0 931.8,991.0 932.8,991.0 933.8,991.0 934.8,991.0 935.8,991.0 936.9,991.0 937.9,991.0 938.9,991.0 939.9,991.0 940.9,991.0 942.0,991.0 943.0,991.0 944.0,991.0 945.0,991.0 946.0,991.0 947.1,991.0 948.1,991.0 949.1,991.0 950.1,991.0 951.1,991.0 952.2,991.0 953.2,991.0 954.2,991.0 955.2,991.0 956.2,991.0 957.3,991.0 958.3,991.0 959.3,991.0 960.3,990.9 961.0,990.1 961.5,989.2 961.9,988.3 962.2,987.2 962.4,986.0 962.6,985.0 962.7,983.7 962.8,982.6 963.0,981.4 963.1,980.2 963.2,979.2 963.3,978.1 963.4,977.0 963.4,975.9 963.5,974.8 963.6,973.6 963.7,972.4 963.8,971.2 963.9,970.0 964.0,968.7 964.1,967.5 964.2,966.2 964.3,965.0 964.3,963.7 964.4,962.5 964.5,961.2 964.6,960.0 964.7,958.8 964.8,957.6 964.9,956.4 965.0,955.3 965.1,954.1 965.2,952.9 965.2,951.7 965.3,950.5 965.4,949.2 965.5,947.9 965.6,946.6 965.7,945.2 965.8,943.9 965.9,942.5 966.0,941.1 966.1,939.7 966.1,938.2 966.2,936.8 966.3,935.3 966.4,933.8 966.5,932.4 966.6,930.9 966.7,929.4 966.8,927.9 966.9,926.4 967.0,924.9 967.0,923.4 967.1,921.9 967.2,920.4 967.3,918.9 967.4,917.5 967.5,916.0 967.6,914.6 967.7,913.2 967.8,911.7 967.9,910.4 967.9,909.0 968.0,907.6 968.1,906.3 968.2,905.0 968.3,903.7 968.4,902.5 968.5,901.2 968.6,900.1 968.7,898.9 968.8,897.8 968.8,896.7 968.9,895.7 969.0,894.7 969.1,893.3 969.3,892.0 969.4,890.7 969.5,889.4 969.6,888.2 969.7,886.9 969.9,885.6 970.0,884.4 970.1,883.1 970.2,881.9 970.3,880.7 970.5,879.5 970.6,878.3 970.7,877.1 970.8,875.9 970.9,874.8 971.1,873.7 971.2,872.5 971.3,871.4 971.4,870.4 971.5,869.3 971.7,868.2 971.8,867.2 971.9,866.2 972.0,865.2 972.2,864.0 972.3,862.8 972.5,861.7 972.6,860.5 972.8,859.4 972.9,858.4 973.1,857.4 973.3,856.2 973.4,855.1 973.6,854.0 973.8,853.0 974.0,851.9 974.2,850.9 974.4,849.9 974.6,848.9 974.8,847.9 975.1,846.8 975.3,845.7 975.6,844.7 975.8,843.7 976.0,842.7 976.3,841.6 976.6,840.6 976.9,839.6 977.1,838.6 977.4,837.6 977.7,836.5 978.0,835.6 978.4,834.6 978.7,833.6 979.0,832.6 979.4,831.6 979.8,830.6 980.2,829.6 980.6,828.7 981.1,827.8 981.6,826.9 982.0,826.0 982.6,825.1 983.1,824.3 983.6,823.4 984.2,822.5 984.7,821.6 985.3,820.8 986.0,820.0 986.6,819.2 987.3,818.4 988.0,817.7 988.8,817.0 989.6,816.3 990.4,815.7 991.2,815.1 992.1,814.5 992.9,813.9 993.8,813.4 994.7,812.9 995.6,812.5 996.6,812.2 997.6,812.0 998.3,812.8 998.5,813.9 998.6,814.9 998.7,816.1 998.8,817.4 998.9,818.5 999.0,819.7 999.1,821.0 999.2,822.3 999.3,823.7 999.4,825.1 999.5,826.6 999.5,827.6 999.6,828.6 999.7,829.7 999.7,830.7 999.8,831.8 999.8,832.9 999.9,834.0 1000.0,835.1 1000.0,836.2 1000.1,837.3 1000.1,838.4 1000.2,839.5 1000.3,840.6 1000.3,841.7 1000.4,842.8 1000.4,843.9 1000.5,845.0 1000.6,846.1 1000.6,847.3 1000.7,848.6 1000.7,849.9 1000.8,851.3 1000.9,852.7 1000.9,854.2 1001.0,855.8 1001.0,857.4 1001.1,859.1 1001.2,860.8 1001.2,862.5 1001.3,864.3 1001.3,866.1 1001.4,867.9 1001.5,869.8 1001.5,871.7 1001.6,873.6 1001.6,875.5 1001.7,877.4 1001.8,879.3 1001.8,881.3 1001.9,883.2 1001.9,885.2 1002.0,887.1 1002.1,889.0 1002.1,890.9 1002.2,892.8 1002.2,894.7 1002.3,896.5 1002.4,898.3 1002.4,900.1 1002.5,901.8 1002.5,903.6 1002.6,905.2 1002.7,906.8 1002.7,908.4 1002.8,909.9 1002.8,911.4 1002.9,912.8 1003.0,914.1 1003.0,915.4 1003.1,916.7 1003.1,918.0 1003.2,919.2 1003.3,920.5 1003.3,921.8 1003.4,923.0 1003.4,924.3 1003.5,925.6 1003.6,926.8 1003.6,928.1 1003.7,929.3 1003.7,930.6 1003.8,931.8 1003.9,933.0 1003.9,934.3 1004.0,935.5 1004.0,936.7 1004.1,937.9 1004.2,939.0 1004.2,940.2 1004.3,941.4 1004.3,942.5 1004.4,943.6 1004.5,944.7 1004.5,945.8 1004.6,946.9 1004.6,947.9 1004.7,949.0 1004.8,950.0 1004.8,951.5 1004.9,952.9 1005.0,954.3 1005.1,955.6 1005.2,956.9 1005.3,958.1 1005.4,959.2 1005.5,960.3 1005.6,961.3 1005.7,962.5 1005.8,963.6 1006.0,964.7 1006.1,965.9 1006.3,967.0 1006.5,968.1 1006.7,969.2 1006.9,970.2 1007.0,971.2 1007.2,972.4 1007.5,973.5 1007.7,974.5 1007.9,975.5 1008.1,976.5 1008.4,977.5 1008.6,978.6 1008.9,979.6 1009.2,980.6 1009.6,981.6 1010.0,982.6 1010.5,983.5 1011.2,984.2 1012.0,984.8 1012.9,985.4 1013.7,986.0 1014.6,986.5 1015.5,987.0 1016.4,987.5 1017.3,987.9 1018.2,988.4 1019.1,988.7 1020.1,989.1 1021.0,989.4 1022.0,989.7 1023.0,990.0 1024.0,990.2 1025.0,990.4 1026.0,990.5 1027.0,990.7 1028.0,990.8 1029.0,990.9 1030.0,991.0 1031.0,991.1 1032.1,991.1 1033.1,991.2 1034.1,991.3 1035.1,991.3 1036.1,991.4 1037.2,991.5 1038.2,991.5 1039.2,991.6 1040.2,991.6 1041.2,991.7 1042.3,991.7 1043.3,991.8 1044.3,991.8 1045.3,991.9 1046.3,991.9 1047.4,992.0 1048.4,992.0 1049.4,992.1 1050.4,992.1 1051.4,992.2 1052.5,992.2 1053.5,992.2 1054.5,992.3 1055.5,992.3 1056.5,992.3 1057.6,992.4 1058.6,992.4 1059.6,992.4 1060.6,992.5 1061.6,992.5 1062.7,992.5 1063.7,992.5 1064.7,992.6 1065.7,992.6 1066.7,992.6 1067.8,992.6 1068.8,992.7 1069.8,992.7 1070.8,992.7 1071.8,992.7 1072.9,992.7 1073.9,992.8 1074.9,992.8 1075.9,992.8 1076.9,992.8 1078.0,992.8 1079.0,992.8 1080.0,992.9 1081.0,992.9 1082.0,992.9 1083.1,992.9 1084.1,992.9 1085.1,992.9 1086.1,993.0 1087.1,993.0 1088.2,993.0 1089.2,993.0 1090.2,993.0 1091.2,993.0 1092.2,993.0 1093.3,993.0 1094.3,993.1 1095.3,993.1 1096.3,993.1 1097.3,993.1 1098.4,993.1 1099.4,993.1 1100.4,993.1 1101.4,993.1 1102.4,993.1 1103.5,993.2 1104.5,993.2 1105.5,993.2 1106.5,993.2 1107.5,993.2 1108.6,993.2 1109.6,993.2 1110.6,993.2 1111.6,993.2 1112.6,993.3 1113.7,993.3 1114.7,993.3 1115.7,993.3 1116.7,993.3 1117.7,993.3 1118.8,993.3 1119.8,993.3 1120.8,993.3 1121.8,993.3 1122.8,993.3 1123.9,993.4 1124.9,993.4 1125.9,993.4 1126.9,993.4 1127.9,993.4 1129.0,993.4 1130.0,993.4 1131.0,993.4 1132.0,993.4 1133.0,993.4 1134.1,993.4 1135.1,993.4 1136.1,993.4 1137.1,993.4 1138.1,993.5 1139.2,993.5 1140.2,993.5 1141.2,993.5 1142.2,993.5 1143.2,993.5 1144.3,993.5 1145.3,993.5 1146.3,993.5 1147.3,993.5 1148.3,993.5 1149.4,993.5 1150.4,993.5 1151.4,993.5 1152.4,993.5 1153.4,993.5 1154.5,993.5 1155.5,993.5 1156.5,993.5 1157.0,993.5" fill="none" stroke="#ee18ee" stroke-width="2" stroke-linejoin="round" marker-start="url(#mM)" marker-mid="url(#mM)" marker-end="url(#mM)"/>
<polyline points="190.5,991.0 191.5,991.0 192.5,991.0 193.6,991.0 194.6,991.0 195.6,991.0 196.6,991.0 197.6,991.0 198.7,991.0 199.7,991.0 200.7,991.0 201.7,991.0 202.7,991.0 203.8,991.0 204.8,991.0 205.8,991.0 206.8,991.0 207.8,991.0 208.9,991.0 209.9,991.0 210.9,991.0 211.9,991.0 212.9,991.0 214.0,991.0 215.0,991.0 216.0,991.0 217.0,991.0 218.0,991.0 219.1,991.0 220.1,991.0 221.1,991.0 222.1,991.0 223.1,991.0 224.2,991.0 225.2,991.0 226.2,991.0 227.2,991.0 228.2,991.0 229.3,991.0 230.3,991.0 231.3,991.0 232.3,991.0 233.3,991.0 234.3,990.8 234.9,989.9 235.3,989.0 235.7,988.0 236.0,987.1 236.3,986.0 236.5,985.0 236.7,984.0 236.9,982.9 237.1,981.9 237.3,980.8 237.5,979.8 237.7,978.8 237.9,977.7 238.1,976.6 238.3,975.5 238.5,974.5 238.7,973.5 238.8,972.5 239.0,971.5 239.2,970.4 239.4,969.3 239.7,968.2 239.9,967.2 240.2,966.2 240.6,965.2 240.9,964.2 241.3,963.3 241.7,962.3 242.1,961.3 242.6,960.5 243.3,959.7 244.1,959.0 244.9,958.4 245.7,957.9 246.6,957.4 247.6,957.1 248.6,956.9 249.6,956.7 250.6,956.5 251.6,956.4 252.6,956.2 253.6,956.1 254.6,956.0 255.6,955.9 256.7,955.8 257.7,955.7 258.7,955.6 259.7,955.5 260.7,955.4 261.7,955.3 262.8,955.2 263.8,955.1 264.8,955.0 265.8,954.9 266.8,954.8 267.9,954.7 268.9,954.6 269.9,954.6 270.9,954.5 271.9,954.5 272.6,955.3 273.0,956.2 273.3,957.3 273.6,958.3 273.8,959.4 274.1,960.4 274.3,961.4 274.4,962.4 274.6,963.6 274.7,964.6 274.8,965.7 274.9,966.8 275.0,967.9 275.2,969.0 275.3,970.0 275.4,971.1 275.5,972.3 275.7,973.4 275.9,974.4 276.1,975.5 276.4,976.5 276.7,977.5 277.0,978.5 277.3,979.5 277.6,980.5 278.0,981.5 278.5,982.4 279.1,983.2 279.9,983.9 280.7,984.5 281.6,985.0 282.5,985.4 283.5,985.6 284.5,985.7 285.6,985.8 286.6,985.9 287.6,985.9 288.6,986.0 289.6,986.1 290.7,986.1 291.7,986.2 292.7,986.2 293.7,986.2 294.7,986.3 295.8,986.3 296.8,986.3 297.8,986.4 298.8,986.4 299.8,986.5 300.9,986.6 301.9,986.6 302.9,986.7 303.9,986.7 304.9,986.8 306.0,986.9 307.0,986.9 308.0,987.0 309.0,987.1 310.0,987.1 311.1,987.2 312.1,987.3 313.1,987.3 314.1,987.4 315.1,987.5 316.2,987.6 317.2,987.6 318.2,987.7 319.2,987.8 320.2,987.8 321.3,987.9 322.3,988.0 323.3,988.0 324.3,988.1 325.3,988.2 326.4,988.2 327.4,988.3 328.4,988.4 329.4,988.5 330.4,988.5 331.5,988.6 332.5,988.7 333.5,988.8 334.5,988.9 335.5,988.9 336.6,989.0 337.6,989.1 338.6,989.2 339.6,989.3 340.6,989.4 341.7,989.5 342.7,989.6 343.7,989.7 344.7,989.8 345.7,989.9 346.8,990.0 347.8,990.1 348.8,990.2 349.8,990.3 350.8,990.3 351.9,990.4 352.9,990.5 353.9,990.6 354.9,990.6 355.9,990.7 357.0,990.8 358.0,990.8 359.0,990.9 360.0,990.9 361.0,990.9 362.1,991.0 363.1,991.0 364.1,991.0 365.1,991.0 365.9,990.3 366.4,989.4 366.8,988.4 367.2,987.5 367.4,986.4 367.6,985.4 367.8,984.3 368.0,983.2 368.2,982.2 368.3,981.1 368.5,980.1 368.6,978.9 368.8,977.8 368.9,976.7 369.1,975.5 369.2,974.3 369.3,973.3 369.4,972.1 369.6,971.0 369.7,969.8 369.8,968.5 369.9,967.2 370.0,966.0 370.2,964.7 370.3,963.4 370.4,962.1 370.5,960.8 370.6,959.5 370.8,958.3 370.9,957.1 371.0,955.9 371.1,954.7 371.2,953.6 371.4,952.3 371.5,951.1 371.6,949.9 371.7,948.6 371.8,947.4 372.0,946.2 372.1,945.0 372.2,943.9 372.3,942.8 372.4,941.7 372.6,940.6 372.7,939.5 372.9,938.4 373.1,937.3 373.3,936.3 373.6,935.2 373.8,934.2 374.1,933.1 374.4,932.2 374.7,931.2 375.0,930.2 375.4,929.2 375.8,928.3 376.4,927.4 376.9,926.6 377.6,925.7 378.2,925.0 379.0,924.2 379.8,923.6 380.7,923.1 381.6,922.8 382.6,922.6 383.6,922.3 384.6,922.2 385.6,922.0 386.6,921.9 387.6,921.7 388.6,921.6 389.7,921.5 390.7,921.4 391.7,921.4 392.7,921.3 393.7,921.2 394.8,921.1 395.8,921.0 396.8,920.9 397.8,920.9 398.8,920.8 399.9,920.8 400.9,920.7 401.9,920.6 402.9,920.6 403.9,920.6 405.0,920.5 406.0,920.5 407.0,920.5 408.0,920.5 408.6,921.4 408.9,922.4 409.1,923.4 409.3,924.4 409.6,925.5 409.7,926.5 409.9,927.5 410.1,928.6 410.2,929.9 410.4,931.0 410.5,932.3 410.6,933.4 410.7,934.5 410.8,935.7 410.8,936.9 410.9,938.2 411.0,939.5 411.1,940.7 411.2,942.0 411.3,943.3 411.4,944.6 411.5,945.8 411.6,947.0 411.7,948.2 411.7,949.3 411.8,950.3 412.0,951.6 412.1,952.8 412.2,953.9 412.3,955.1 412.4,956.3 412.6,957.5 412.7,958.6 412.8,959.7 412.9,960.8 413.0,961.9 413.2,962.9 413.3,964.1 413.5,965.2 413.6,966.3 413.8,967.4 414.1,968.4 414.4,969.4 414.7,970.4 415.1,971.3 415.5,972.3 415.9,973.2 416.4,974.1 417.0,975.0 417.7,975.7 418.5,976.3 419.4,976.8 420.3,977.3 421.2,977.6 422.2,978.0 423.1,978.2 424.1,978.5 425.1,978.8 426.1,979.0 427.1,979.3 428.1,979.6 429.1,979.8 430.1,980.1 431.1,980.4 432.1,980.6 433.0,980.8 434.0,981.1 435.0,981.3 436.0,981.5 437.0,981.7 438.0,981.9 439.0,982.1 440.0,982.3 441.0,982.5 442.0,982.6 442.9,982.7 444.0,982.9 445.0,983.0 446.0,983.1 447.0,983.2 448.0,983.3 449.1,983.4 450.1,983.5 451.1,983.6 452.1,983.7 453.1,983.8 454.2,983.9 455.2,983.9 456.2,984.0 457.2,984.1 458.2,984.1 459.3,984.2 460.3,984.3 461.3,984.4 462.3,984.4 463.3,984.5 464.4,984.5 465.4,984.6 466.4,984.7 467.4,984.7 468.4,984.8 469.5,984.8 470.5,984.9 471.5,984.9 472.5,985.0 473.5,985.0 474.6,985.1 475.6,985.1 476.6,985.2 477.6,985.3 478.6,985.3 479.7,985.4 480.7,985.4 481.7,985.5 482.7,985.5 483.7,985.6 484.8,985.7 485.8,985.7 486.8,985.8 487.8,985.9 488.8,985.9 489.9,986.0 490.9,986.1 491.9,986.1 492.9,986.2 493.9,986.3 495.0,986.4 496.0,986.5 497.0,986.6 498.0,986.7 499.0,986.8 500.1,986.9 501.1,987.0 502.1,987.1 503.1,987.2 504.1,987.3 505.2,987.4 506.2,987.5 507.2,987.6 508.2,987.7 509.2,987.8 510.3,987.9 511.3,988.0 512.3,988.1 513.3,988.2 514.3,988.3 515.4,988.4 516.4,988.5 517.4,988.6 518.4,988.7 519.4,988.7 520.5,988.8 521.5,988.9 522.5,989.0 523.5,989.0 524.5,989.1 525.6,989.2 526.6,989.2 527.6,989.3 528.6,989.3 529.6,989.4 530.7,989.4 531.7,989.4 532.7,989.5 533.7,989.5 534.7,989.5 535.8,989.5 536.8,989.3 537.5,988.6 538.1,987.7 538.4,986.7 538.6,985.6 538.8,984.6 538.9,983.4 539.1,982.2 539.2,981.1 539.3,980.0 539.4,978.9 539.5,977.7 539.7,976.5 539.8,975.2 539.9,973.9 540.0,972.7 540.1,971.6 540.2,970.5 540.3,969.2 540.4,967.9 540.5,966.5 540.6,965.0 540.6,963.9 540.7,962.9 540.7,961.8 540.8,960.7 540.9,959.6 540.9,958.5 541.0,957.4 541.0,956.3 541.1,955.2 541.2,954.0 541.2,952.9 541.3,951.8 541.3,950.7 541.4,949.6 541.5,948.5 541.5,947.5 541.6,946.4 541.6,945.2 541.7,944.1 541.8,942.9 541.8,941.7 541.9,940.5 541.9,939.2 542.0,938.0 542.1,936.7 542.1,935.5 542.2,934.2 542.2,933.0 542.3,931.8 542.4,930.6 542.4,929.4 542.5,928.2 542.5,927.1 542.6,926.0 542.7,925.0 542.7,923.9 542.8,922.5 542.9,921.2 543.0,920.0 543.1,918.9 543.2,917.8 543.3,916.7 543.4,915.7 543.4,914.7 543.5,913.7 543.7,912.4 543.8,911.1 543.9,909.9 544.0,908.8 544.1,907.7 544.3,906.7 544.4,905.5 544.6,904.4 544.7,903.3 544.9,902.2 545.2,901.2 545.5,900.2 545.7,899.2 546.0,898.2 546.4,897.1 546.7,896.1 547.1,895.1 547.5,894.2 548.0,893.3 548.6,892.5 549.3,891.7 550.0,891.1 550.8,890.4 551.7,889.8 552.5,889.3 553.4,888.9 554.4,888.5 555.3,888.2 556.3,887.9 557.3,887.7 558.3,887.5 559.3,887.3 560.3,887.1 561.3,887.0 562.3,886.9 563.3,886.7 564.3,886.6 565.3,886.5 566.4,886.5 567.4,886.4 568.4,886.3 569.4,886.3 570.4,886.2 571.5,886.2 572.5,886.1 573.5,886.1 574.5,886.0 575.5,886.0 576.6,886.0 577.3,886.7 577.6,887.8 577.8,888.9 577.9,890.0 578.1,891.2 578.2,892.2 578.3,893.3 578.4,894.5 578.5,895.6 578.7,896.8 578.8,898.0 578.9,899.1 579.0,900.3 579.1,901.6 579.2,902.6 579.3,903.8 579.4,905.0 579.5,906.2 579.6,907.6 579.7,908.9 579.8,910.4 579.9,911.8 580.0,913.3 580.0,914.3 580.1,915.3 580.1,916.3 580.2,917.3 580.3,918.4 580.3,919.4 580.4,920.4 580.4,921.4 580.5,922.9 580.6,924.3 580.7,925.7 580.8,927.1 580.9,928.5 581.0,929.7 581.1,931.0 581.2,932.2 581.2,933.5 581.3,934.8 581.4,936.0 581.5,937.3 581.6,938.6 581.7,939.9 581.8,941.2 581.9,942.4 582.0,943.7 582.1,944.9 582.1,946.1 582.2,947.2 582.3,948.3 582.4,949.4 582.5,950.4 582.6,951.7 582.7,952.9 582.9,954.0 583.0,955.1 583.2,956.2 583.3,957.3 583.5,958.3 583.6,959.3 583.8,960.5 584.0,961.6 584.2,962.7 584.3,963.7 584.5,964.8 584.8,965.9 585.0,966.9 585.3,968.0 585.6,969.0 586.0,969.9 586.5,970.8 587.0,971.7 587.6,972.5 588.3,973.3 589.0,974.0 589.8,974.7 590.6,975.3 591.5,975.8 592.5,976.2 593.4,976.6 594.4,977.0 595.3,977.3 596.3,977.6 597.2,977.9 598.2,978.2 599.2,978.4 600.2,978.6 601.2,978.8 602.2,979.0 603.2,979.2 604.2,979.4 605.2,979.5 606.1,979.7 607.1,979.8 608.1,980.0 609.1,980.1 610.2,980.2 611.2,980.4 612.2,980.5 613.2,980.6 614.2,980.7 615.3,980.9 616.3,981.0 617.3,981.1 618.3,981.2 619.3,981.3 620.4,981.4 621.4,981.5 622.4,981.6 623.4,981.7 624.4,981.8 625.5,981.8 626.5,981.9 627.5,982.0 628.5,982.1 629.5,982.2 630.6,982.3 631.6,982.3 632.6,982.4 633.6,982.5 634.6,982.6 635.7,982.7 636.7,982.7 637.7,982.8 638.7,982.9 639.7,983.0 640.8,983.1 641.8,983.1 642.8,983.2 643.8,983.3 644.8,983.4 645.9,983.5 646.9,983.5 647.9,983.6 648.9,983.7 649.9,983.8 651.0,983.8 652.0,983.9 653.0,984.0 654.0,984.1 655.0,984.1 656.1,984.2 657.1,984.3 658.1,984.4 659.1,984.4 660.1,984.5 661.2,984.6 662.2,984.6 663.2,984.7 664.2,984.8 665.2,984.8 666.3,984.9 667.3,985.0 668.3,985.0 669.3,985.1 670.3,985.2 671.4,985.2 672.4,985.3 673.4,985.4 674.4,985.4 675.4,985.5 676.5,985.5 677.5,985.6 678.5,985.7 679.5,985.7 680.5,985.8 681.6,985.9 682.6,985.9 683.6,986.0 684.6,986.0 685.6,986.1 686.7,986.2 687.7,986.2 688.7,986.3 689.7,986.4 690.7,986.4 691.8,986.5 692.8,986.6 693.8,986.6 694.8,986.7 695.8,986.7 696.9,986.8 697.9,986.9 698.9,986.9 699.9,987.0 700.9,987.1 702.0,987.1 703.0,987.2 704.0,987.3 705.0,987.3 706.0,987.4 707.1,987.5 708.1,987.6 709.1,987.6 710.1,987.7 711.1,987.8 712.2,987.9 713.2,988.0 714.2,988.0 715.2,988.1 716.2,988.2 717.3,988.3 718.3,988.4 719.3,988.5 720.3,988.5 721.3,988.6 722.4,988.7 723.4,988.8 724.4,988.9 725.4,988.9 726.4,989.0 727.5,989.1 728.5,989.1 729.5,989.2 730.5,989.3 731.5,989.3 732.6,989.4 733.6,989.5 734.6,989.5 735.6,989.6 736.6,989.6 737.7,989.7 738.7,989.7 739.7,989.8 740.7,989.8 741.7,989.9 742.8,989.9 743.8,989.9 744.8,989.9 745.8,990.0 746.8,990.0 747.9,990.0 748.9,990.0 749.9,990.0 750.8,989.6 751.5,988.8 752.0,987.9 752.3,986.8 752.4,985.7 752.5,984.6 752.7,983.3 752.8,982.3 752.8,981.1 752.9,979.9 753.0,978.6 753.1,977.3 753.2,975.8 753.3,974.4 753.4,973.4 753.4,972.4 753.5,971.3 753.5,970.3 753.6,969.2 753.7,968.1 753.7,967.1 753.8,966.0 753.8,964.9 753.9,963.8 754.0,962.7 754.0,961.6 754.1,960.5 754.1,959.2 754.2,957.9 754.3,956.5 754.3,955.0 754.4,953.4 754.4,951.8 754.5,950.1 754.6,948.4 754.6,946.7 754.7,944.9 754.7,943.0 754.8,941.2 754.9,939.3 754.9,937.5 755.0,935.6 755.0,933.7 755.1,931.8 755.2,930.0 755.2,928.1 755.3,926.3 755.3,924.5 755.4,922.8 755.5,921.1 755.5,919.5 755.6,917.8 755.6,916.1 755.7,914.4 755.8,912.7 755.8,911.0 755.9,909.3 755.9,907.6 756.0,905.9 756.1,904.2 756.1,902.5 756.2,900.8 756.2,899.1 756.3,897.4 756.4,895.8 756.4,894.1 756.5,892.5 756.5,890.9 756.6,889.4 756.7,887.9 756.7,886.4 756.8,884.9 756.8,883.5 756.9,882.2 757.0,880.9 757.0,879.6 757.1,878.3 757.1,877.1 757.2,875.8 757.3,874.6 757.3,873.4 757.4,872.2 757.4,871.0 757.5,869.8 757.6,868.7 757.6,867.5 757.7,866.4 757.7,865.2 757.8,864.1 757.9,863.0 757.9,862.0 758.0,860.9 758.0,859.8 758.1,858.8 758.2,857.8 758.2,856.3 758.3,854.9 758.4,853.5 758.5,852.2 758.6,850.9 758.7,849.7 758.8,848.5 758.9,847.4 759.0,846.3 759.1,845.3 759.2,844.0 759.3,842.7 759.4,841.5 759.5,840.2 759.7,839.0 759.8,837.9 759.9,836.7 760.0,835.6 760.1,834.5 760.3,833.5 760.4,832.4 760.5,831.2 760.7,830.0 760.8,828.9 761.0,827.8 761.1,826.8 761.3,825.6 761.5,824.6 761.7,823.6 761.9,822.5 762.1,821.5 762.4,820.5 762.6,819.5 762.9,818.4 763.1,817.4 763.4,816.5 763.7,815.4 764.0,814.4 764.3,813.4 764.7,812.4 765.1,811.5 765.5,810.5 765.9,809.6 766.5,808.7 767.1,807.9 767.8,807.2 768.6,806.5 769.3,805.8 770.2,805.1 771.0,804.5 771.9,804.0 772.8,803.5 773.7,803.0 774.6,802.6 775.6,802.3 776.6,802.1 777.6,801.9 778.6,801.7 779.5,801.6 780.5,801.4 781.5,801.3 782.5,801.1 783.6,801.0 784.6,800.9 785.6,800.8 786.6,800.7 787.6,800.6 788.7,800.6 789.7,800.5 790.7,800.5 791.7,800.5 792.3,801.4 792.4,802.6 792.5,803.8 792.6,804.9 792.7,806.1 792.8,807.5 792.9,808.9 793.0,809.9 793.0,811.0 793.1,812.0 793.1,813.1 793.2,814.3 793.3,815.4 793.3,816.6 793.4,817.8 793.4,819.0 793.5,820.2 793.6,821.4 793.6,822.6 793.7,823.8 793.7,825.0 793.8,826.2 793.9,827.3 793.9,828.5 794.0,829.6 794.0,830.8 794.1,831.9 794.2,833.1 794.2,834.4 794.3,835.7 794.3,837.0 794.4,838.4 794.5,839.8 794.5,841.2 794.6,842.7 794.6,844.2 794.7,845.7 794.8,847.2 794.8,848.8 794.9,850.3 794.9,851.9 795.0,853.5 795.1,855.1 795.1,856.7 795.2,858.4 795.2,860.0 795.3,861.6 795.4,863.3 795.4,864.9 795.5,866.5 795.5,868.1 795.6,869.7 795.7,871.3 795.7,872.9 795.8,874.5 795.8,876.0 795.9,877.5 796.0,879.0 796.0,880.5 796.1,882.0 796.1,883.5 796.2,885.1 796.3,886.6 796.3,888.2 796.4,889.9 796.4,891.5 796.5,893.1 796.6,894.8 796.6,896.4 796.7,898.1 796.7,899.7 796.8,901.4 796.9,903.0 796.9,904.6 797.0,906.2 797.0,907.8 797.1,909.4 797.2,910.9 797.2,912.4 797.3,913.9 797.3,915.3 797.4,916.7 797.5,918.1 797.5,919.4 797.6,920.7 797.6,921.9 797.7,923.1 797.8,924.2 797.8,925.3 797.9,926.7 798.0,928.0 798.1,929.2 798.2,930.4 798.3,931.6 798.4,932.7 798.4,933.8 798.5,934.9 798.6,936.0 798.7,937.0 798.8,938.1 798.9,939.1 799.0,940.4 799.1,941.6 799.3,942.9 799.4,944.0 799.5,945.2 799.6,946.2 799.7,947.3 799.9,948.5 800.0,949.6 800.2,950.7 800.4,951.9 800.5,952.9 800.8,954.0 801.0,955.0 801.3,956.0 801.6,957.0 801.9,958.0 802.2,959.0 802.6,960.0 803.0,960.9 803.4,961.9 803.8,962.8 804.4,963.7 804.9,964.5 805.5,965.4 806.1,966.2 806.8,966.9 807.5,967.7 808.2,968.4 808.9,969.1 809.7,969.8 810.5,970.4 811.3,971.0 812.2,971.6 813.1,972.1 814.0,972.5 814.9,973.0 815.8,973.3 816.8,973.7 817.8,974.0 818.7,974.4 819.7,974.7 820.6,975.0 821.6,975.3 822.6,975.5 823.6,975.8 824.6,976.1 825.6,976.3 826.6,976.5 827.5,976.8 828.5,977.0 829.5,977.2 830.5,977.4 831.5,977.6 832.5,977.7 833.5,977.9 834.5,978.1 835.5,978.3 836.5,978.4 837.4,978.6 838.4,978.7 839.4,978.9 840.4,979.1 841.4,979.2 842.4,979.4 843.4,979.5 844.4,979.7 845.4,979.8 846.4,980.0 847.3,980.1 848.4,980.3 849.4,980.4 850.4,980.5 851.4,980.7 852.4,980.8 853.5,980.9 854.5,981.1 855.5,981.2 856.5,981.3 857.5,981.4 858.6,981.5 859.6,981.7 860.6,981.8 861.6,981.9 862.6,982.0 863.7,982.1 864.7,982.2 865.7,982.3 866.7,982.4 867.7,982.5 868.8,982.6 869.8,982.7 870.8,982.8 871.8,982.9 872.8,983.0 873.9,983.1 874.9,983.2 875.9,983.3 876.9,983.4 877.9,983.5 879.0,983.6 880.0,983.7 881.0,983.8 882.0,983.8 883.0,983.9 884.1,984.0 885.1,984.1 886.1,984.2 887.1,984.2 888.1,984.3 889.2,984.4 890.2,984.5 891.2,984.5 892.2,984.6 893.2,984.7 894.3,984.8 895.3,984.8 896.3,984.9 897.3,985.0 898.3,985.0 899.4,985.1 900.4,985.2 901.4,985.2 902.4,985.3 903.4,985.4 904.5,985.4 905.5,985.5 906.5,985.6 907.5,985.6 908.5,985.7 909.6,985.8 910.6,985.8 911.6,985.9 912.6,986.0 913.6,986.0 914.7,986.1 915.7,986.2 916.7,986.3 917.7,986.3 918.7,986.4 919.8,986.5 920.8,986.6 921.8,986.6 922.8,986.7 923.8,986.8 924.9,986.9 925.9,987.0 926.9,987.1 927.9,987.2 928.9,987.3 930.0,987.4 931.0,987.5 932.0,987.6 933.0,987.7 934.0,987.8 935.1,988.0 936.1,988.1 937.1,988.2 938.1,988.3 939.1,988.4 940.2,988.5 941.2,988.6 942.2,988.7 943.2,988.8 944.2,988.8 945.3,988.9 946.3,989.0 947.3,989.1 948.3,989.2 949.3,989.2 950.4,989.3 951.4,989.3 952.4,989.4 953.4,989.4 954.4,989.4 955.5,989.5 956.5,989.5 957.5,989.5 958.5,989.4 959.3,988.8 960.0,988.0 960.4,987.0 960.6,985.9 960.8,984.9 961.0,983.7 961.1,982.6 961.3,981.5 961.4,980.2 961.5,979.2 961.6,978.1 961.8,977.1 961.9,976.0 962.0,974.9 962.1,973.7 962.2,972.5 962.3,971.4 962.4,970.3 962.5,969.2 962.6,968.0 962.7,966.7 962.8,965.4 962.9,964.1 963.0,962.7 963.1,961.3 963.1,959.8 963.2,958.3 963.3,957.3 963.4,956.3 963.4,955.3 963.5,954.2 963.5,953.2 963.6,952.1 963.7,951.1 963.7,950.0 963.8,949.0 963.8,947.9 963.9,946.8 964.0,945.7 964.0,944.6 964.1,943.5 964.1,942.4 964.2,941.3 964.3,940.1 964.3,938.9 964.4,937.7 964.4,936.5 964.5,935.2 964.6,934.0 964.6,932.7 964.7,931.4 964.7,930.1 964.8,928.7 964.9,927.4 964.9,926.0 965.0,924.6 965.0,923.3 965.1,921.9 965.2,920.5 965.2,919.0 965.3,917.6 965.3,916.2 965.4,914.7 965.5,913.3 965.5,911.8 965.6,910.4 965.6,908.9 965.7,907.4 965.8,905.9 965.8,904.5 965.9,903.0 965.9,901.5 966.0,900.0 966.1,898.5 966.1,897.0 966.2,895.5 966.2,893.9 966.3,892.3 966.4,890.8 966.4,889.2 966.5,887.6 966.5,885.9 966.6,884.3 966.7,882.7 966.7,881.0 966.8,879.3 966.8,877.7 966.9,876.0 967.0,874.3 967.0,872.6 967.1,870.9 967.1,869.2 967.2,867.5 967.3,865.8 967.3,864.1 967.4,862.4 967.4,860.7 967.5,859.0 967.6,857.3 967.6,855.6 967.7,853.9 967.7,852.2 967.8,850.5 967.9,848.9 967.9,847.2 968.0,845.6 968.0,843.9 968.1,842.3 968.2,840.6 968.2,839.0 968.3,837.3 968.3,835.7 968.4,834.0 968.5,832.4 968.5,830.7 968.6,829.1 968.6,827.4 968.7,825.8 968.8,824.1 968.8,822.5 968.9,820.8 968.9,819.2 969.0,817.5 969.1,815.9 969.1,814.2 969.2,812.6 969.2,810.9 969.3,809.3 969.4,807.6 969.4,806.0 969.5,804.3 969.5,802.7 969.6,801.0 969.7,799.4 969.7,797.7 969.8,796.1 969.8,794.4 969.9,792.8 970.0,791.1 970.0,789.4 970.1,787.8 970.1,786.1 970.2,784.4 970.3,782.7 970.3,781.0 970.4,779.3 970.4,777.6 970.5,775.9 970.6,774.1 970.6,772.4 970.7,770.7 970.7,768.9 970.8,767.2 970.9,765.5 970.9,763.8 971.0,762.0 971.0,760.3 971.1,758.6 971.2,756.9 971.2,755.3 971.3,753.6 971.3,751.9 971.4,750.3 971.5,748.7 971.5,747.1 971.6,745.5 971.6,743.9 971.7,742.4 971.8,740.8 971.8,739.3 971.9,737.9 971.9,736.4 972.0,735.0 972.1,733.6 972.1,732.2 972.2,730.8 972.2,729.4 972.3,728.1 972.4,726.7 972.4,725.3 972.5,724.0 972.5,722.6 972.6,721.3 972.7,719.9 972.7,718.6 972.8,717.3 972.8,716.0 972.9,714.7 973.0,713.4 973.0,712.1 973.1,710.8 973.1,709.5 973.2,708.2 973.3,707.0 973.3,705.7 973.4,704.5 973.4,703.3 973.5,702.1 973.6,700.8 973.6,699.6 973.7,698.5 973.7,697.3 973.8,696.1 973.9,694.9 973.9,693.8 974.0,692.6 974.0,691.5 974.1,690.4 974.2,689.3 974.2,688.2 974.3,687.1 974.3,686.0 974.4,685.0 974.5,683.9 974.5,682.9 974.6,681.8 974.6,680.8 974.7,679.8 974.8,678.3 974.9,676.9 975.0,675.5 975.1,674.1 975.1,672.7 975.2,671.3 975.3,669.9 975.4,668.6 975.5,667.2 975.6,665.9 975.7,664.6 975.8,663.3 975.9,662.0 976.0,660.7 976.0,659.4 976.1,658.2 976.2,656.9 976.3,655.7 976.4,654.5 976.5,653.3 976.6,652.1 976.7,650.9 976.8,649.7 976.9,648.5 976.9,647.4 977.0,646.3 977.1,645.1 977.2,644.0 977.3,642.9 977.4,641.9 977.5,640.8 977.6,639.7 977.7,638.7 977.8,637.7 977.8,636.7 977.9,635.7 978.1,634.3 978.2,633.1 978.3,631.8 978.4,630.6 978.5,629.4 978.7,628.2 978.8,627.0 978.9,625.9 979.0,624.8 979.1,623.7 979.3,622.7 979.4,621.6 979.5,620.6 979.6,619.5 979.7,618.5 979.9,617.5 980.0,616.5 980.1,615.2 980.3,614.0 980.4,612.8 980.6,611.6 980.7,610.5 980.9,609.3 981.0,608.2 981.2,607.1 981.3,606.0 981.5,604.9 981.6,603.9 981.8,602.9 981.9,601.9 982.1,600.9 982.3,599.7 982.4,598.6 982.6,597.5 982.8,596.4 983.0,595.3 983.2,594.3 983.3,593.3 983.5,592.2 983.8,591.2 984.0,590.1 984.2,589.1 984.4,588.0 984.7,586.9 984.9,585.9 985.1,584.8 985.4,583.8 985.6,582.8 985.9,581.8 986.1,580.8 986.4,579.7 986.7,578.8 987.0,577.7 987.3,576.7 987.6,575.7 987.9,574.7 988.3,573.7 988.7,572.7 989.1,571.8 989.5,570.8 990.0,569.8 990.4,568.9 990.9,568.0 991.4,567.0 991.9,566.1 992.4,565.2 993.0,564.4 993.7,563.6 994.6,563.1 995.3,563.8 995.5,564.9 995.6,565.9 995.7,567.1 995.8,568.1 995.9,569.2 996.0,570.4 996.1,571.7 996.2,573.1 996.3,574.5 996.3,575.6 996.4,576.6 996.4,577.7 996.5,578.8 996.6,579.9 996.6,581.1 996.7,582.2 996.7,583.4 996.8,584.7 996.9,585.9 996.9,587.2 997.0,588.5 997.0,589.8 997.1,591.1 997.2,592.4 997.2,593.8 997.3,595.2 997.3,596.5 997.4,597.9 997.5,599.3 997.5,600.7 997.6,602.3 997.6,604.1 997.7,606.0 997.7,607.0 997.8,608.1 997.8,609.2 997.8,610.4 997.9,611.5 997.9,612.8 997.9,614.0 997.9,615.3 998.0,616.6 998.0,617.9 998.0,619.3 998.1,620.7 998.1,622.2 998.1,623.6 998.2,625.1 998.2,626.6 998.2,628.1 998.2,629.7 998.3,631.3 998.3,632.8 998.3,634.5 998.4,636.1 998.4,637.7 998.4,639.4 998.5,641.1 998.5,642.8 998.5,644.5 998.5,646.2 998.6,647.9 998.6,649.6 998.6,651.4 998.7,653.1 998.7,654.9 998.7,656.6 998.8,658.4 998.8,660.2 998.8,661.9 998.8,663.7 998.9,665.5 998.9,667.2 998.9,669.0 999.0,670.7 999.0,672.5 999.0,674.2 999.1,676.0 999.1,677.7 999.1,679.4 999.1,681.2 999.2,682.9 999.2,684.5 999.2,686.2 999.3,687.9 999.3,689.5 999.3,691.1 999.4,692.8 999.4,694.3 999.4,695.9 999.4,697.5 999.5,699.0 999.5,700.5 999.5,702.0 999.6,703.5 999.6,705.0 999.6,706.6 999.7,708.1 999.7,709.6 999.7,711.2 999.7,712.7 999.8,714.2 999.8,715.8 999.8,717.3 999.9,718.9 999.9,720.5 999.9,722.0 1000.0,723.6 1000.0,725.1 1000.0,726.7 1000.0,728.3 1000.1,729.9 1000.1,731.4 1000.1,733.0 1000.2,734.6 1000.2,736.1 1000.2,737.7 1000.3,739.3 1000.3,740.8 1000.3,742.4 1000.3,744.0 1000.4,745.5 1000.4,747.1 1000.4,748.7 1000.5,750.2 1000.5,751.8 1000.5,753.3 1000.6,754.9 1000.6,756.4 1000.6,758.0 1000.6,759.5 1000.7,761.0 1000.7,762.6 1000.7,764.1 1000.8,765.6 1000.8,767.1 1000.8,768.6 1000.9,770.1 1000.9,771.6 1000.9,773.1 1000.9,774.6 1001.0,776.0 1001.0,777.5 1001.0,778.9 1001.1,780.4 1001.1,781.8 1001.1,783.3 1001.2,784.7 1001.2,786.1 1001.2,787.5 1001.2,788.9 1001.3,790.2 1001.3,791.6 1001.3,793.0 1001.4,794.3 1001.4,795.6 1001.4,797.0 1001.5,798.3 1001.5,799.6 1001.5,800.9 1001.5,802.1 1001.6,803.4 1001.6,804.7 1001.6,806.0 1001.7,807.3 1001.7,808.6 1001.7,809.9 1001.8,811.2 1001.8,812.5 1001.8,813.8 1001.8,815.1 1001.9,816.4 1001.9,817.7 1001.9,819.0 1002.0,820.3 1002.0,821.6 1002.0,822.8 1002.1,824.1 1002.1,825.4 1002.1,826.7 1002.1,827.9 1002.2,829.2 1002.2,830.5 1002.2,831.7 1002.3,833.0 1002.3,834.2 1002.3,835.4 1002.4,836.7 1002.4,837.9 1002.4,839.1 1002.4,840.3 1002.5,841.5 1002.5,842.7 1002.5,843.9 1002.6,845.0 1002.6,846.2 1002.6,847.4 1002.7,848.5 1002.7,849.6 1002.7,850.8 1002.7,851.9 1002.8,853.0 1002.8,854.1 1002.8,855.1 1002.9,856.2 1002.9,857.2 1002.9,858.3 1003.0,859.3 1003.0,860.3 1003.0,862.3 1003.1,864.2 1003.2,866.0 1003.2,867.8 1003.3,869.6 1003.3,871.2 1003.4,872.8 1003.5,874.3 1003.5,875.7 1003.6,877.1 1003.6,878.5 1003.7,879.9 1003.8,881.3 1003.8,882.6 1003.9,883.9 1003.9,885.3 1004.0,886.6 1004.1,887.9 1004.1,889.2 1004.2,890.4 1004.2,891.7 1004.3,892.9 1004.4,894.1 1004.4,895.3 1004.5,896.5 1004.5,897.7 1004.6,898.8 1004.7,899.9 1004.7,901.1 1004.8,902.1 1004.8,903.2 1004.9,904.3 1005.0,905.3 1005.0,906.3 1005.1,907.4 1005.2,908.8 1005.3,910.3 1005.4,911.6 1005.4,913.0 1005.5,914.3 1005.6,915.5 1005.7,916.7 1005.8,917.9 1005.9,919.0 1006.0,920.0 1006.1,921.0 1006.2,922.3 1006.3,923.4 1006.4,924.5 1006.6,925.7 1006.7,926.9 1006.9,928.0 1007.0,929.2 1007.2,930.2 1007.3,931.3 1007.5,932.3 1007.7,933.5 1007.8,934.6 1008.0,935.7 1008.2,936.8 1008.4,937.8 1008.6,938.9 1008.8,940.0 1009.0,941.0 1009.3,942.1 1009.5,943.1 1009.8,944.1 1010.0,945.1 1010.3,946.1 1010.7,947.1 1011.0,948.1 1011.4,949.0 1011.8,950.0 1012.3,951.0 1012.7,951.9 1013.2,952.9 1013.6,953.8 1014.1,954.7 1014.6,955.6 1015.2,956.5 1015.7,957.4 1016.3,958.2 1016.9,959.0 1017.5,959.8 1018.2,960.6 1018.9,961.3 1019.7,962.0 1020.5,962.6 1021.3,963.2 1022.2,963.8 1023.1,964.3 1024.0,964.8 1024.9,965.3 1025.8,965.7 1026.7,966.1 1027.6,966.5 1028.6,966.9 1029.6,967.2 1030.5,967.5 1031.5,967.9 1032.4,968.2 1033.4,968.5 1034.4,968.8 1035.3,969.1 1036.3,969.4 1037.2,969.7 1038.2,970.0 1039.2,970.3 1040.2,970.6 1041.1,970.8 1042.1,971.1 1043.1,971.4 1044.1,971.6 1045.1,971.9 1046.1,972.1 1047.1,972.4 1048.1,972.6 1049.1,972.8 1050.1,973.1 1051.0,973.3 1052.0,973.5 1053.0,973.7 1054.0,974.0 1055.0,974.2 1056.0,974.4 1057.0,974.6 1058.0,974.8 1059.0,975.0 1060.0,975.2 1060.9,975.5 1061.9,975.7 1062.9,975.9 1063.9,976.1 1064.9,976.3 1065.9,976.5 1066.9,976.7 1067.9,976.9 1068.9,977.1 1069.9,977.3 1070.8,977.4 1071.8,977.6 1072.8,977.8 1073.8,978.0 1074.8,978.2 1075.8,978.4 1076.8,978.6 1077.8,978.7 1078.8,978.9 1079.8,979.1 1080.7,979.3 1081.7,979.4 1082.7,979.6 1083.7,979.8 1084.7,980.0 1085.7,980.1 1086.7,980.3 1087.7,980.5 1088.7,980.6 1089.7,980.8 1090.6,981.0 1091.6,981.1 1092.6,981.3 1093.6,981.4 1094.6,981.6 1095.6,981.8 1096.6,981.9 1097.6,982.1 1098.6,982.2 1099.6,982.4 1100.5,982.5 1101.5,982.7 1102.5,982.8 1103.5,983.0 1104.5,983.1 1105.5,983.3 1106.5,983.5 1107.5,983.6 1108.5,983.8 1109.5,983.9 1110.4,984.0 1111.4,984.2 1112.4,984.3 1113.4,984.5 1114.4,984.6 1115.4,984.8 1116.4,984.9 1117.4,985.1 1118.4,985.2 1119.4,985.3 1120.4,985.5 1121.4,985.6 1122.4,985.8 1123.4,985.9 1124.5,986.1 1125.5,986.2 1126.5,986.3 1127.5,986.5 1128.5,986.6 1129.6,986.8 1130.6,986.9 1131.6,987.0 1132.6,987.2 1133.6,987.3 1134.7,987.4 1135.7,987.6 1136.7,987.7 1137.7,987.8 1138.7,987.9 1139.8,988.1 1140.8,988.2 1141.8,988.3 1142.8,988.4 1143.8,988.6 1144.9,988.7 1145.9,988.8 1146.9,988.9 1147.9,989.0 1148.9,989.1 1150.0,989.3 1151.0,989.4 1152.0,989.5 1153.0,989.6 1154.0,989.7 1155.1,989.8 1156.1,989.9 1157.0,990.0" fill="none" stroke="#0a0a0a" stroke-width="2" stroke-linejoin="round" marker-start="url(#mK)" marker-mid="url(#mK)" marker-end="url(#mK)"/>
<polyline points="190.5,989.5 191.5,989.5 192.5,989.5 193.5,989.5 194.6,989.5 195.6,989.5 196.6,989.5 197.6,989.5 198.6,989.5 199.6,989.5 200.6,989.5 201.6,989.5 202.7,989.5 203.7,989.5 204.7,989.5 205.7,989.5 206.7,989.5 207.7,989.5 208.7,989.5 209.7,989.5 210.8,989.5 211.8,989.5 212.8,989.5 213.8,989.5 214.8,989.5 215.8,989.5 216.8,989.5 217.8,989.5 218.9,989.5 219.9,989.5 220.9,989.5 221.9,989.5 222.9,989.5 223.9,989.4 224.6,988.6 225.1,987.7 225.5,986.8 225.9,985.8 226.3,984.8 226.7,983.9 227.0,982.9 227.4,981.9 227.6,980.9 227.9,979.9 228.1,978.8 228.4,977.7 228.6,976.8 228.8,975.7 229.0,974.7 229.2,973.7 229.4,972.7 229.6,971.7 229.9,970.7 230.1,969.6 230.3,968.5 230.6,967.4 230.8,966.4 231.1,965.3 231.3,964.2 231.5,963.1 231.8,962.0 232.0,961.0 232.2,960.0 232.4,959.0 232.6,958.0 232.8,956.9 233.0,955.8 233.2,954.7 233.4,953.7 233.6,952.6 233.8,951.5 234.0,950.4 234.1,949.3 234.3,948.1 234.5,947.0 234.7,945.8 234.9,944.7 235.0,943.6 235.2,942.5 235.4,941.4 235.6,940.3 235.8,939.3 236.0,938.1 236.2,937.0 236.4,935.9 236.6,934.8 236.8,933.7 237.0,932.6 237.2,931.5 237.4,930.5 237.7,929.4 237.9,928.5 238.1,927.4 238.3,926.4 238.6,925.3 238.9,924.3 239.2,923.3 239.6,922.3 239.9,921.3 240.3,920.3 240.7,919.3 241.1,918.4 241.5,917.4 241.9,916.4 242.4,915.5 242.9,914.6 243.5,913.7 244.1,912.9 244.7,912.1 245.4,911.3 246.1,910.6 246.8,909.8 247.5,909.1 248.3,908.5 249.1,907.8 250.0,907.2 251.0,906.5 252.0,906.0 253.1,905.5 254.1,905.1 255.1,904.7 256.1,904.3 257.1,904.0 258.1,903.7 259.1,903.3 260.1,903.1 261.2,902.8 262.2,902.4 263.2,902.1 264.2,901.8 265.2,901.4 266.2,901.0 267.2,900.7 268.2,900.3 269.3,900.0 270.3,899.7 271.3,899.5 272.3,899.3 273.3,899.1 274.3,899.0 275.3,899.2 276.1,900.7 276.6,902.6 276.9,905.7 277.1,910.6 277.4,916.4 277.6,922.4 277.9,927.7 278.1,931.8 278.4,935.5 278.6,939.2 278.9,942.6 279.1,945.9 279.4,948.9 279.6,951.7 279.9,954.1 280.1,956.1 280.4,958.1 280.6,959.8 280.9,961.5 281.2,963.0 281.4,964.4 281.7,965.6 281.9,966.7 282.4,968.5 282.9,970.2 283.4,971.7 283.9,973.0 284.4,974.1 285.2,975.3 286.0,976.2 286.7,977.0 287.5,977.8 288.5,978.6 289.5,979.2 290.5,979.8 291.5,980.2 292.6,980.6 293.6,981.0 294.6,981.3 295.6,981.6 296.6,981.9 297.6,982.1 298.6,982.3 299.6,982.4 300.7,982.6 301.7,982.7 302.7,982.9 303.7,983.0 304.7,983.1 305.7,983.2 306.7,983.3 307.7,983.4 308.8,983.5 309.8,983.6 310.8,983.7 311.8,983.8 312.8,983.8 313.8,983.9 314.8,984.0 315.8,984.0 316.9,984.1 317.9,984.2 318.9,984.2 319.9,984.3 320.9,984.4 321.9,984.4 322.9,984.5 323.9,984.6 325.0,984.6 326.0,984.7 327.0,984.8 328.0,984.8 329.0,984.9 330.0,985.0 331.0,985.1 332.0,985.2 333.1,985.3 334.1,985.4 335.1,985.4 336.1,985.5 337.1,985.6 338.1,985.7 339.1,985.8 340.2,985.9 341.2,986.0 342.2,986.1 343.2,986.2 344.2,986.3 345.2,986.4 346.2,986.5 347.2,986.6 348.3,986.7 349.3,986.7 350.3,986.8 351.3,986.8 352.3,986.9 353.3,986.9 354.3,987.0 355.3,987.0 356.4,987.0 357.4,987.0 358.4,986.7 359.4,986.1 360.2,984.7 360.7,982.8 360.9,981.5 361.2,980.2 361.4,978.7 361.7,977.1 361.9,975.5 362.2,973.7 362.4,971.5 362.7,968.9 362.9,965.9 363.2,962.5 363.4,958.9 363.7,955.0 364.0,950.8 364.2,946.0 364.5,939.8 364.7,932.8 365.0,925.6 365.2,918.7 365.5,912.6 365.7,907.3 366.0,902.2 366.2,897.3 366.5,892.8 366.7,888.7 367.0,885.1 367.2,882.0 367.5,879.2 367.8,876.6 368.0,874.3 368.3,872.0 368.5,869.9 368.8,867.9 369.0,865.9 369.3,864.0 369.5,862.3 369.8,860.6 370.0,858.9 370.3,857.3 370.5,855.8 370.8,854.3 371.0,852.8 371.3,851.3 371.5,849.8 371.8,848.4 372.1,847.1 372.3,845.9 372.6,844.7 372.8,843.7 373.3,841.9 373.8,840.3 374.3,838.8 374.8,837.5 375.3,836.2 375.9,835.1 376.4,834.1 376.9,833.2 377.6,832.0 378.4,830.8 379.1,829.7 379.9,828.7 380.7,827.7 381.4,826.9 382.2,826.1 382.9,825.4 384.0,824.6 385.0,824.0 386.0,823.6 387.0,823.2 388.0,822.8 389.0,822.4 390.0,822.1 391.0,821.8 392.1,821.6 393.1,821.3 394.1,821.1 395.1,820.9 396.1,820.7 397.1,820.5 398.1,820.3 399.1,820.1 400.2,820.0 401.2,819.8 402.2,819.6 403.2,819.4 404.2,819.3 405.2,819.1 406.2,819.0 407.2,818.8 408.3,818.7 409.3,818.6 410.3,818.5 411.3,818.5 412.3,818.7 412.8,819.7 413.3,821.3 413.6,822.4 413.8,825.3 414.1,829.7 414.3,835.2 414.6,841.1 414.8,846.8 415.1,851.9 415.4,856.9 415.6,862.0 415.9,867.1 416.1,872.2 416.4,877.3 416.6,882.4 416.9,887.6 417.1,892.8 417.4,897.9 417.6,903.0 417.9,907.9 418.1,912.5 418.4,917.3 418.6,921.9 418.9,926.4 419.2,930.4 419.4,933.9 419.7,936.7 419.9,939.4 420.2,941.8 420.4,944.2 420.7,946.3 420.9,948.3 421.2,950.2 421.4,951.8 421.7,953.3 421.9,954.7 422.2,955.9 422.4,957.0 422.7,958.1 422.9,959.2 423.2,960.2 423.7,962.1 424.2,963.8 424.7,965.2 425.2,966.5 425.7,967.5 426.5,968.8 427.3,969.9 428.0,970.9 428.8,971.8 429.5,972.6 430.3,973.3 431.3,974.1 432.3,974.7 433.3,975.1 434.3,975.5 435.4,975.8 436.4,976.1 437.4,976.4 438.4,976.6 439.4,976.8 440.4,977.0 441.4,977.2 442.4,977.4 443.5,977.6 444.5,977.7 445.5,977.9 446.5,978.0 447.5,978.2 448.5,978.3 449.5,978.4 450.5,978.6 451.6,978.7 452.6,978.8 453.6,979.0 454.6,979.1 455.6,979.2 456.6,979.3 457.6,979.4 458.6,979.5 459.7,979.6 460.7,979.7 461.7,979.8 462.7,979.9 463.7,980.0 464.7,980.1 465.7,980.2 466.8,980.3 467.8,980.4 468.8,980.5 469.8,980.6 470.8,980.7 471.8,980.8 472.8,980.8 473.8,980.9 474.9,981.0 475.9,981.1 476.9,981.2 477.9,981.3 478.9,981.4 479.9,981.5 480.9,981.6 481.9,981.7 483.0,981.8 484.0,981.9 485.0,982.0 486.0,982.1 487.0,982.3 488.0,982.4 489.0,982.5 490.0,982.6 491.1,982.8 492.1,982.9 493.1,983.0 494.1,983.1 495.1,983.3 496.1,983.4 497.1,983.5 498.1,983.7 499.2,983.8 500.2,983.9 501.2,984.0 502.2,984.2 503.2,984.3 504.2,984.4 505.2,984.5 506.3,984.6 507.3,984.8 508.3,984.9 509.3,985.0 510.3,985.1 511.3,985.2 512.3,985.3 513.3,985.4 514.4,985.4 515.4,985.5 516.4,985.6 517.4,985.7 518.4,985.7 519.4,985.8 520.4,985.8 521.4,985.9 522.5,985.9 523.5,986.0 524.5,986.0 525.5,986.0 526.5,986.0 527.5,986.0 528.5,986.0 529.5,986.0 530.6,985.6 531.1,984.5 531.6,982.9 531.8,981.9 532.1,980.8 532.3,979.6 532.6,978.3 532.8,976.9 533.1,975.4 533.3,973.3 533.6,970.5 533.8,967.1 534.1,963.1 534.4,958.5 534.6,953.5 534.9,948.1 535.1,942.0 535.4,933.4 535.6,922.9 535.9,911.4 536.1,899.8 536.4,889.3 536.6,880.3 536.9,871.6 537.1,863.2 537.4,855.3 537.6,848.1 537.9,842.0 538.2,837.1 538.4,832.7 538.7,828.7 538.9,825.1 539.2,821.7 539.4,818.6 539.7,815.7 539.9,812.8 540.2,810.0 540.4,807.3 540.7,804.6 540.9,802.1 541.2,799.6 541.4,797.2 541.7,794.9 542.0,792.7 542.2,790.6 542.5,788.7 542.7,786.9 543.0,785.2 543.2,783.6 543.5,782.1 543.7,780.6 544.0,779.1 544.2,777.7 544.5,776.3 544.7,774.9 545.0,773.6 545.2,772.3 545.5,771.1 545.8,769.9 546.0,768.8 546.3,767.7 546.5,766.7 547.0,764.8 547.5,763.3 548.0,761.9 548.5,760.8 549.0,759.7 549.5,758.6 550.1,757.6 550.6,756.7 551.1,755.8 551.8,754.5 552.6,753.4 553.3,752.4 554.1,751.6 554.9,750.8 555.9,750.1 556.9,749.5 557.9,748.9 558.9,748.3 559.9,747.8 560.9,747.3 562.0,746.9 563.0,746.4 564.0,746.1 565.0,745.8 566.0,745.5 567.0,745.3 568.0,745.1 569.0,745.0 570.1,745.0 571.1,745.0 572.1,745.0 573.1,745.0 574.1,745.1 575.1,745.1 576.1,745.1 577.1,745.2 578.2,745.3 579.2,745.4 580.2,745.5 581.2,745.7 582.2,745.8 583.2,746.2 583.7,747.7 584.0,748.8 584.2,750.3 584.5,751.9 584.7,754.9 585.0,760.1 585.2,766.9 585.5,774.6 585.8,782.6 586.0,790.3 586.3,798.0 586.5,806.4 586.8,815.1 587.0,824.0 587.3,832.7 587.5,840.9 587.8,848.9 588.0,856.9 588.3,864.7 588.5,872.2 588.8,879.4 589.0,886.3 589.3,893.0 589.6,899.7 589.8,906.1 590.1,912.0 590.3,917.0 590.6,921.0 590.8,924.5 591.1,927.8 591.3,930.8 591.6,933.6 591.8,936.2 592.1,938.6 592.3,940.7 592.6,942.6 592.8,944.2 593.1,945.5 593.4,946.8 593.6,947.9 593.9,949.1 594.1,950.2 594.4,951.2 594.6,952.2 595.1,954.0 595.6,955.6 596.1,957.1 596.6,958.3 597.1,959.4 597.7,960.4 598.4,961.6 599.2,962.7 599.9,963.7 600.7,964.5 601.5,965.3 602.2,966.0 603.0,966.7 604.0,967.5 605.0,968.3 606.0,969.1 607.0,970.0 607.8,970.7 608.5,971.5 609.3,972.3 610.1,973.0 610.8,973.7 611.8,974.5 612.8,975.0 613.9,975.2 614.9,975.5 615.9,975.7 616.9,975.9 617.9,976.1 618.9,976.3 619.9,976.5 621.0,976.6 622.0,976.8 623.0,976.9 624.0,977.0 625.0,977.1 626.0,977.2 627.0,977.3 628.0,977.4 629.1,977.5 630.1,977.6 631.1,977.7 632.1,977.8 633.1,977.9 634.1,978.0 635.1,978.0 636.1,978.1 637.2,978.2 638.2,978.3 639.2,978.4 640.2,978.5 641.2,978.6 642.2,978.7 643.2,978.8 644.2,978.9 645.3,979.0 646.3,979.1 647.3,979.2 648.3,979.3 649.3,979.4 650.3,979.5 651.3,979.6 652.3,979.7 653.4,979.8 654.4,979.9 655.4,979.9 656.4,980.0 657.4,980.1 658.4,980.2 659.4,980.3 660.4,980.4 661.5,980.5 662.5,980.5 663.5,980.6 664.5,980.7 665.5,980.8 666.5,980.9 667.5,981.0 668.6,981.0 669.6,981.1 670.6,981.2 671.6,981.3 672.6,981.4 673.6,981.5 674.6,981.5 675.6,981.6 676.7,981.7 677.7,981.8 678.7,981.8 679.7,981.9 680.7,982.0 681.7,982.1 682.7,982.2 683.7,982.2 684.8,982.3 685.8,982.4 686.8,982.5 687.8,982.5 688.8,982.6 689.8,982.7 690.8,982.8 691.8,982.8 692.9,982.9 693.9,983.0 694.9,983.1 695.9,983.2 696.9,983.2 697.9,983.3 698.9,983.4 699.9,983.5 701.0,983.6 702.0,983.7 703.0,983.8 704.0,983.9 705.0,984.0 706.0,984.1 707.0,984.2 708.1,984.3 709.1,984.4 710.1,984.6 711.1,984.7 712.1,984.8 713.1,984.9 714.1,985.1 715.1,985.2 716.2,985.3 717.2,985.4 718.2,985.6 719.2,985.7 720.2,985.8 721.2,985.9 722.2,986.0 723.2,986.1 724.3,986.2 725.3,986.3 726.3,986.4 727.3,986.5 728.3,986.6 729.3,986.7 730.3,986.7 731.3,986.8 732.4,986.9 733.4,986.9 734.4,986.9 735.4,987.0 736.4,987.0 737.4,987.0 738.4,987.0 739.4,986.7 740.5,986.3 741.5,985.5 742.0,984.4 742.5,982.8 742.7,981.8 743.0,980.7 743.2,979.4 743.5,978.1 743.8,976.6 744.0,975.0 744.3,972.5 744.5,968.6 744.8,963.6 745.0,957.7 745.3,951.0 745.5,943.9 745.8,936.5 746.0,929.1 746.3,920.4 746.5,910.2 746.8,899.2 747.0,888.1 747.3,877.5 747.6,868.3 747.8,859.7 748.1,851.4 748.3,843.4 748.6,835.6 748.8,828.2 749.1,821.2 749.3,814.5 749.6,808.1 749.8,801.9 750.1,795.9 750.3,789.9 750.6,784.2 750.8,778.8 751.1,773.6 751.3,768.7 751.6,764.2 751.9,760.1 752.1,756.5 752.4,752.9 752.6,749.5 752.9,746.1 753.1,742.9 753.4,739.8 753.6,736.8 753.9,734.0 754.1,731.3 754.4,728.7 754.6,726.3 754.9,724.0 755.1,721.9 755.4,719.9 755.7,718.1 755.9,716.5 756.2,715.1 756.4,713.7 756.7,712.4 756.9,711.2 757.2,710.0 757.4,708.8 757.7,707.7 757.9,706.7 758.2,705.6 758.7,703.8 759.2,702.0 759.7,700.5 760.2,699.0 760.7,697.7 761.2,696.5 761.7,695.3 762.2,694.2 762.7,693.1 763.2,692.0 763.8,691.0 764.3,690.1 764.8,689.2 765.5,688.0 766.3,686.9 767.0,686.0 767.8,685.2 768.6,684.5 769.3,683.8 770.3,683.0 771.4,682.2 772.4,681.5 773.4,680.9 774.4,680.3 775.4,679.8 776.4,679.4 777.4,679.1 778.4,678.9 779.5,678.7 780.5,678.5 781.5,678.3 782.5,678.2 783.5,678.0 784.5,677.9 785.5,677.7 786.5,677.7 787.6,677.6 788.6,677.5 789.6,677.5 790.6,677.5 791.6,677.6 792.6,677.7 793.6,677.9 794.6,678.2 795.7,678.6 796.7,679.1 797.7,679.8 798.4,681.0 798.7,682.1 799.0,683.6 799.2,685.5 799.5,687.6 799.7,691.3 800.0,698.5 800.2,708.0 800.5,718.7 800.7,729.5 801.0,739.2 801.2,747.7 801.5,756.2 801.7,764.6 802.0,773.0 802.2,781.4 802.5,789.8 802.7,798.3 803.0,806.9 803.3,815.5 803.5,824.0 803.8,832.3 804.0,840.5 804.3,848.6 804.5,857.0 804.8,865.1 805.0,872.8 805.3,879.8 805.5,885.7 805.8,891.0 806.0,896.1 806.3,900.8 806.5,905.2 806.8,909.2 807.1,912.8 807.3,915.9 807.6,918.6 807.8,921.1 808.1,923.4 808.3,925.6 808.6,927.7 808.8,929.7 809.1,931.6 809.3,933.4 809.6,935.0 809.8,936.5 810.1,937.9 810.3,939.2 810.6,940.4 810.9,941.4 811.4,943.3 811.9,944.9 812.4,946.4 812.9,947.9 813.4,949.1 813.9,950.3 814.4,951.5 814.9,952.5 815.4,953.5 815.9,954.4 816.4,955.3 816.9,956.2 817.7,957.5 818.2,958.3 819.0,959.6 819.7,960.8 820.5,962.0 821.2,963.0 822.0,964.0 822.8,964.8 823.5,965.5 824.5,966.3 825.5,967.1 826.5,967.8 827.6,968.4 828.6,968.9 829.6,969.3 830.6,969.7 831.6,970.1 832.6,970.4 833.6,970.7 834.7,970.9 835.7,971.2 836.7,971.5 837.7,971.7 838.7,971.9 839.7,972.1 840.7,972.3 841.7,972.5 842.8,972.7 843.8,972.9 844.8,973.1 845.8,973.2 846.8,973.4 847.8,973.6 848.8,973.8 849.8,974.0 850.9,974.2 851.9,974.4 852.9,974.5 853.9,974.7 854.9,974.9 855.9,975.1 856.9,975.3 857.9,975.5 859.0,975.7 860.0,975.8 861.0,976.0 862.0,976.2 863.0,976.4 864.0,976.5 865.0,976.7 866.0,976.9 867.1,977.0 868.1,977.2 869.1,977.3 870.1,977.5 871.1,977.6 872.1,977.8 873.1,977.9 874.2,978.0 875.2,978.2 876.2,978.3 877.2,978.4 878.2,978.5 879.2,978.6 880.2,978.7 881.2,978.8 882.3,979.0 883.3,979.1 884.3,979.1 885.3,979.2 886.3,979.3 887.3,979.4 888.3,979.5 889.3,979.6 890.4,979.7 891.4,979.8 892.4,979.9 893.4,979.9 894.4,980.0 895.4,980.1 896.4,980.2 897.4,980.2 898.5,980.3 899.5,980.4 900.5,980.5 901.5,980.5 902.5,980.6 903.5,980.7 904.5,980.8 905.5,980.8 906.6,980.9 907.6,981.0 908.6,981.1 909.6,981.1 910.6,981.2 911.6,981.3 912.6,981.4 913.6,981.5 914.7,981.5 915.7,981.6 916.7,981.7 917.7,981.8 918.7,981.9 919.7,982.0 920.7,982.1 921.8,982.2 922.8,982.3 923.8,982.4 924.8,982.5 925.8,982.6 926.8,982.8 927.8,982.9 928.8,983.0 929.9,983.2 930.9,983.3 931.9,983.4 932.9,983.6 933.9,983.7 934.9,983.8 935.9,984.0 936.9,984.1 938.0,984.2 939.0,984.3 940.0,984.4 941.0,984.5 942.0,984.6 943.0,984.7 944.0,984.8 945.0,984.8 946.1,984.9 947.1,984.9 948.1,985.0 949.1,985.0 950.1,985.0 951.1,984.4 951.7,983.4 952.2,977.4 952.8,968.6 953.3,960.0 953.9,950.5 954.4,939.9 955.0,928.6 955.5,916.1 956.1,902.2 956.6,887.4 957.2,872.0 957.7,855.4 958.3,837.9 958.8,820.4 959.4,803.7 959.9,787.2 960.5,770.7 961.0,754.3 961.6,737.8 962.1,721.3 962.7,704.8 963.2,688.2 963.8,670.8 964.3,653.6 964.9,638.2 965.4,625.1 966.0,613.1 966.5,602.1 967.1,591.7 967.6,581.7 968.2,571.9 968.7,562.1 969.3,552.6 969.8,543.5 970.4,535.2 970.9,527.9 971.5,521.5 972.0,515.4 972.6,509.7 973.1,504.4 973.7,499.6 974.2,495.2 974.8,491.4 975.3,488.1 975.9,484.9 976.4,481.8 976.7,480.5 976.9,479.2 977.2,477.9 977.4,476.7 977.7,475.5 977.9,474.4 978.2,473.4 978.4,472.4 979.0,470.7 979.5,469.2 980.0,468.1 980.5,467.1 981.0,466.2 981.5,465.3 982.2,464.1 983.0,463.1 983.8,462.2 984.5,461.5 985.5,461.1 986.6,461.0 987.6,461.1 988.6,461.2 989.6,461.4 990.6,461.6 991.6,461.9 992.6,462.2 993.6,462.6 994.7,463.1 995.7,463.7 996.7,464.6 997.4,465.4 998.2,466.3 998.7,467.2 999.2,468.5 999.7,470.5 1000.0,472.3 1000.4,478.3 1000.7,488.8 1001.0,501.8 1001.4,515.1 1001.7,527.3 1002.0,540.1 1002.4,553.6 1002.7,567.3 1003.0,580.7 1003.3,593.9 1003.7,607.1 1004.0,620.3 1004.3,633.5 1004.7,646.7 1005.0,659.9 1005.3,673.1 1005.7,686.3 1006.0,699.5 1006.3,712.7 1006.6,725.9 1007.0,739.1 1007.3,752.3 1007.6,765.6 1008.0,779.2 1008.3,792.8 1008.6,806.1 1009.0,818.5 1009.3,830.3 1009.6,841.9 1009.9,852.8 1010.3,862.5 1010.6,870.5 1010.9,877.6 1011.3,884.2 1011.5,888.8 1011.8,893.1 1012.0,897.0 1012.3,900.4 1012.5,903.4 1012.8,906.1 1013.0,908.8 1013.3,911.3 1013.5,913.7 1013.8,916.0 1014.1,918.2 1014.3,920.2 1014.6,922.1 1014.8,923.9 1015.1,925.5 1015.3,926.9 1015.6,928.2 1015.8,929.3 1016.3,931.1 1016.8,932.8 1017.3,934.2 1017.9,935.6 1018.4,936.8 1018.9,937.9 1019.4,938.9 1019.9,939.9 1020.6,941.1 1021.4,942.2 1022.2,943.2 1022.9,944.1 1023.7,944.9 1024.4,945.7 1025.2,946.4 1026.0,947.1 1027.0,947.9 1028.0,948.6 1029.0,949.3 1030.0,950.0 1031.0,950.6 1032.0,951.2 1033.0,951.8 1034.1,952.4 1035.1,952.9 1036.1,953.4 1037.1,953.9 1038.1,954.3 1039.1,954.8 1040.1,955.2 1041.1,955.7 1042.2,956.1 1043.2,956.5 1044.2,956.9 1045.2,957.3 1046.2,957.7 1047.2,958.0 1048.2,958.4 1049.2,958.8 1050.3,959.2 1051.3,959.5 1052.3,959.9 1053.3,960.3 1054.3,960.6 1055.3,960.9 1056.3,961.3 1057.4,961.6 1058.4,961.9 1059.4,962.3 1060.4,962.6 1061.4,962.9 1062.4,963.2 1063.4,963.5 1064.4,963.8 1065.5,964.1 1066.5,964.3 1067.5,964.6 1068.5,964.9 1069.5,965.1 1070.5,965.4 1071.5,965.7 1072.5,965.9 1073.6,966.1 1074.6,966.4 1075.6,966.6 1076.6,966.8 1077.6,967.1 1078.6,967.3 1079.6,967.5 1080.6,967.7 1081.7,967.9 1082.7,968.2 1083.7,968.4 1084.7,968.6 1085.7,968.8 1086.7,969.0 1087.7,969.2 1088.7,969.4 1089.8,969.6 1090.8,969.8 1091.8,970.0 1092.8,970.2 1093.8,970.3 1094.8,970.5 1095.8,970.7 1096.8,970.9 1097.9,971.1 1098.9,971.2 1099.9,971.4 1100.9,971.6 1101.9,971.7 1102.9,971.9 1103.9,972.0 1105.0,972.2 1106.0,972.3 1107.0,972.5 1108.0,972.6 1109.0,972.8 1110.0,972.9 1111.0,973.0 1112.0,973.1 1113.1,973.3 1114.1,973.4 1115.1,973.5 1116.1,973.6 1117.1,973.7 1118.1,973.9 1119.1,974.0 1120.1,974.1 1121.2,974.2 1122.2,974.3 1123.2,974.4 1124.2,974.5 1125.2,974.6 1126.2,974.7 1127.2,974.8 1128.2,974.9 1129.3,975.0 1130.3,975.1 1131.3,975.2 1132.3,975.3 1133.3,975.4 1134.3,975.5 1135.3,975.6 1136.3,975.7 1137.4,975.8 1138.4,975.9 1139.4,975.9 1140.4,976.0 1141.4,976.1 1142.4,976.2 1143.4,976.3 1144.5,976.3 1145.5,976.4 1146.5,976.5 1147.5,976.5 1148.5,976.6 1149.5,976.7 1150.5,976.7 1151.5,976.8 1152.6,976.8 1153.6,976.9 1154.6,976.9 1155.6,976.9 1156.6,977.0 1157.0,977.0" fill="none" stroke="#e8141a" stroke-width="2" stroke-linejoin="round" marker-start="url(#mR)" marker-mid="url(#mR)" marker-end="url(#mR)"/>
</g>
<rect x="190.5" y="329.0" width="967.0" height="783.5" fill="none" stroke="#1c1c1c" stroke-width="3"/>
<line x1="225.4" y1="1112.5" x2="225.4" y2="1020.5" stroke="#177a17" stroke-width="3"/>
<polygon points="218.9,1020.5 231.9,1020.5 225.4,998.5" fill="#177a17"/>
<text transform="translate(260.4,1107.0) rotate(-90)" font-size="35" fill="#23862a" textLength="106" lengthAdjust="spacingAndGlyphs">Gas in</text>
<line x1="360.5" y1="1112.5" x2="360.5" y2="1020.5" stroke="#177a17" stroke-width="3"/>
<polygon points="354.0,1020.5 367.0,1020.5 360.5,998.5" fill="#177a17"/>
<text transform="translate(395.5,1107.0) rotate(-90)" font-size="35" fill="#23862a" textLength="106" lengthAdjust="spacingAndGlyphs">Gas in</text>
<line x1="525.7" y1="1112.5" x2="525.7" y2="1020.5" stroke="#177a17" stroke-width="3"/>
<polygon points="519.2,1020.5 532.2,1020.5 525.7,998.5" fill="#177a17"/>
<text transform="translate(560.7,1107.0) rotate(-90)" font-size="35" fill="#23862a" textLength="106" lengthAdjust="spacingAndGlyphs">Gas in</text>
<line x1="738.5" y1="1112.5" x2="738.5" y2="1020.5" stroke="#177a17" stroke-width="3"/>
<polygon points="732.0,1020.5 745.0,1020.5 738.5,998.5" fill="#177a17"/>
<text transform="translate(773.5,1107.0) rotate(-90)" font-size="35" fill="#23862a" textLength="106" lengthAdjust="spacingAndGlyphs">Gas in</text>
<line x1="951.0" y1="1112.5" x2="951.0" y2="1020.5" stroke="#177a17" stroke-width="3"/>
<polygon points="944.5,1020.5 957.5,1020.5 951.0,998.5" fill="#177a17"/>
<text transform="translate(986.0,1107.0) rotate(-90)" font-size="35" fill="#23862a" textLength="106" lengthAdjust="spacingAndGlyphs">Gas in</text>
<line x1="277.5" y1="768.0" x2="277.5" y2="871.0" stroke="#177a17" stroke-width="3"/>
<polygon points="271.0,871.0 284.0,871.0 277.5,893.0" fill="#177a17"/>
<text transform="translate(313.5,895.0) rotate(-90)" font-size="34" fill="#23862a" textLength="127" lengthAdjust="spacingAndGlyphs">Gas out</text>
<line x1="411.8" y1="688.0" x2="411.8" y2="790.0" stroke="#177a17" stroke-width="3"/>
<polygon points="405.3,790.0 418.3,790.0 411.8,812.0" fill="#177a17"/>
<text transform="translate(447.8,814.0) rotate(-90)" font-size="34" fill="#23862a" textLength="127" lengthAdjust="spacingAndGlyphs">Gas out</text>
<line x1="585.5" y1="615.0" x2="585.5" y2="717.0" stroke="#177a17" stroke-width="3"/>
<polygon points="579.0,717.0 592.0,717.0 585.5,739.0" fill="#177a17"/>
<text transform="translate(621.5,741.0) rotate(-90)" font-size="34" fill="#23862a" textLength="127" lengthAdjust="spacingAndGlyphs">Gas out</text>
<line x1="799.8" y1="548.0" x2="799.8" y2="651.0" stroke="#177a17" stroke-width="3"/>
<polygon points="793.3,651.0 806.3,651.0 799.8,673.0" fill="#177a17"/>
<text transform="translate(835.8,675.0) rotate(-90)" font-size="34" fill="#23862a" textLength="127" lengthAdjust="spacingAndGlyphs">Gas out</text>
<line x1="997.5" y1="344.0" x2="997.5" y2="447.0" stroke="#177a17" stroke-width="3"/>
<polygon points="991.0,447.0 1004.0,447.0 997.5,469.0" fill="#177a17"/>
<text transform="translate(1033.5,471.0) rotate(-90)" font-size="34" fill="#23862a" textLength="127" lengthAdjust="spacingAndGlyphs">Gas out</text>
<text transform="translate(256.0,898.5) rotate(-90)" font-size="42.5" fill="#111">100ppm</text>
<text transform="translate(387.0,811.5) rotate(-90)" font-size="42.5" fill="#111">200ppm</text>
<text transform="translate(563.0,736.5) rotate(-90)" font-size="42.5" fill="#111">300ppm</text>
<text transform="translate(776.0,659.5) rotate(-90)" font-size="42.5" fill="#111">500ppm</text>
<text transform="translate(951.0,510.5) rotate(-90)" font-size="42.5" fill="#111">1000ppm</text>
<rect x="235.6" y="331.0" width="297.9" height="239.5" fill="#fff" stroke="#7a7a7a" stroke-width="2"/>
<line x1="235.6" y1="570.5" x2="235.6" y2="565.5" stroke="#666" stroke-width="1.5"/>
<line x1="269.1" y1="570.5" x2="269.1" y2="567.5" stroke="#666" stroke-width="1.5"/>
<line x1="302.6" y1="570.5" x2="302.6" y2="565.5" stroke="#666" stroke-width="1.5"/>
<line x1="336.0" y1="570.5" x2="336.0" y2="567.5" stroke="#666" stroke-width="1.5"/>
<line x1="369.5" y1="570.5" x2="369.5" y2="565.5" stroke="#666" stroke-width="1.5"/>
<line x1="403.0" y1="570.5" x2="403.0" y2="567.5" stroke="#666" stroke-width="1.5"/>
<line x1="436.5" y1="570.5" x2="436.5" y2="565.5" stroke="#666" stroke-width="1.5"/>
<line x1="470.0" y1="570.5" x2="470.0" y2="567.5" stroke="#666" stroke-width="1.5"/>
<line x1="503.4" y1="570.5" x2="503.4" y2="565.5" stroke="#666" stroke-width="1.5"/>
<text x="235.6" y="590.0" font-size="16" fill="#333" text-anchor="middle">0</text>
<text x="302.6" y="590.0" font-size="16" fill="#333" text-anchor="middle">300</text>
<text x="369.5" y="590.0" font-size="16" fill="#333" text-anchor="middle">600</text>
<text x="436.5" y="590.0" font-size="16" fill="#333" text-anchor="middle">900</text>
<text x="503.4" y="590.0" font-size="16" fill="#333" text-anchor="middle">1200</text>
<text x="385.0" y="614.0" font-size="24" fill="#222" text-anchor="middle" textLength="88" lengthAdjust="spacingAndGlyphs">Time (s)</text>
<text transform="translate(223.0,542.0) rotate(-90)" font-size="24" fill="#222" textLength="188" lengthAdjust="spacingAndGlyphs">Resistance (a.u.)</text>
<text x="428.0" y="464.0" font-size="28" fill="#111" textLength="78" lengthAdjust="spacingAndGlyphs">n-type</text>
<polyline points="237.0,373.0 237.7,372.3 238.3,371.7 239.0,371.0 239.7,370.3 240.3,369.7 241.0,369.0 241.7,368.3 242.4,367.6 243.0,367.0 243.7,366.3 244.4,365.6 245.0,365.0 245.7,364.3 246.4,363.5 247.0,362.7 247.7,361.9 248.4,361.1 249.1,360.3 249.7,359.6 250.4,359.0 251.1,358.5 252.0,358.0 252.8,357.7 253.7,357.5 254.6,357.3 255.5,357.1 256.4,356.9 257.3,356.8 258.2,356.6 259.1,356.5 260.0,356.3 260.9,356.2 261.8,356.0 262.7,355.9 263.6,355.7 264.5,355.5 265.3,355.4 266.2,355.2 267.1,355.1 268.0,354.9 268.9,354.7 269.8,354.5 270.7,354.4 271.6,354.2 272.5,354.0 273.4,353.8 274.3,353.5 275.2,353.3 276.1,353.0 277.0,352.5 277.6,352.0 278.3,351.4 279.0,350.7 279.6,350.1 280.3,349.4 281.0,348.9 281.6,348.4 282.5,348.1 283.4,348.1 284.1,348.7 284.8,349.7 285.2,350.5 285.7,351.3 286.1,352.2 286.6,353.1 287.0,354.0 287.4,355.0 287.9,356.3 288.3,357.7 288.8,359.0 289.2,360.1 289.7,360.8 290.6,360.8 291.2,360.2 291.9,359.3 292.6,358.5 293.2,357.7 293.9,356.9 294.5,356.2 295.2,356.9 295.3,358.6 295.3,359.8 295.4,361.1 295.5,362.6 295.5,364.2 295.6,366.0 295.6,367.8 295.7,369.7 295.8,371.7 295.8,373.8 295.9,375.8 295.9,377.9 296.0,380.0 296.1,382.2 296.1,384.8 296.2,387.6 296.2,390.8 296.3,394.2 296.4,397.8 296.4,401.5 296.5,405.4 296.5,409.4 296.6,413.5 296.7,417.6 296.7,421.7 296.8,425.8 296.8,429.8 296.9,433.7 297.0,437.5 297.0,441.2 297.1,444.9 297.1,448.7 297.2,452.7 297.3,456.7 297.3,460.8 297.4,464.8 297.4,468.9 297.5,472.9 297.6,476.8 297.6,480.6 297.7,484.2 297.7,487.7 297.8,491.0 297.9,494.0 297.9,496.7 298.0,499.2 298.0,501.4 298.1,503.6 298.2,505.7 298.2,507.8 298.3,509.8 298.3,511.8 298.4,513.8 298.5,515.7 298.5,517.5 298.6,519.3 298.6,521.0 298.7,522.7 298.8,524.3 298.8,525.8 298.9,527.3 298.9,528.7 299.0,530.0 299.1,531.3 299.1,532.5 299.2,533.6 299.2,534.6 299.3,535.5 299.4,536.4 299.5,537.8 299.6,538.9 299.7,540.0 299.8,541.1 300.0,542.1 300.1,543.0 300.2,543.9 300.3,544.7 300.4,545.5 300.6,546.6 300.8,547.6 301.0,548.5 301.2,549.3 301.4,550.3 301.6,551.1 301.9,551.9 302.3,552.6 302.7,553.5 303.2,554.2 303.6,554.9 304.3,555.8 305.0,556.5 305.9,557.0 306.7,557.2 307.6,557.4 308.5,557.5 309.4,557.7 310.3,557.8 311.2,557.9 312.1,558.1 313.0,558.2 313.9,558.2 314.8,558.3 315.7,558.4 316.6,558.4 317.5,558.5 318.4,558.5 319.2,558.5 320.1,558.5 321.0,558.5 321.9,558.5 322.8,558.5 323.7,558.5 324.6,558.5 325.5,558.5 326.4,558.5 327.3,558.5 328.2,558.5 329.1,558.5 330.0,558.5 330.9,558.5 331.7,558.5 332.6,558.5 333.5,558.5 334.4,558.5 335.3,558.5 336.2,558.5 337.1,558.5 338.0,558.5 338.9,558.5 339.8,558.5 340.7,558.5 341.6,558.5 342.5,558.5 343.4,558.5 344.2,558.5 345.1,558.5 346.0,558.5 346.9,558.5 347.8,558.5 348.7,558.5 349.6,558.5 350.5,558.5 351.4,558.5 352.3,558.5 353.2,558.5 354.1,558.5 355.0,558.5 355.9,558.5 356.7,558.5 357.6,558.4 358.5,558.4 359.4,558.4 360.3,558.4 361.2,558.4 362.1,558.3 363.0,558.3 363.9,558.2 364.8,558.2 365.7,558.2 366.6,558.1 367.5,558.0 368.3,557.8 369.0,556.8 369.5,555.6 369.9,554.2 370.1,553.4 370.4,552.5 370.6,551.6 370.8,550.3 371.0,548.4 371.3,546.2 371.5,543.7 371.7,540.9 371.9,538.0 372.1,535.1 372.4,532.2 372.6,529.4 372.8,526.9 373.0,524.7 373.3,522.5 373.5,520.5 373.7,518.4 373.9,516.3 374.2,514.3 374.4,512.4 374.6,510.5 374.8,508.6 375.0,506.8 375.3,505.1 375.5,503.4 375.7,501.9 375.9,500.4 376.2,499.0 376.4,497.7 376.6,496.5 376.8,495.3 377.1,494.2 377.3,493.1 377.5,492.0 377.7,491.0 377.9,490.0 378.2,488.9 378.4,487.9 378.6,486.9 378.8,485.8 379.1,484.7 379.3,483.6 379.5,482.4 379.7,481.2 380.0,480.1 380.2,478.9 380.4,477.7 380.6,476.5 380.8,475.3 381.1,474.2 381.3,473.0 381.5,471.8 381.7,470.6 382.0,469.5 382.2,468.4 382.4,467.2 382.6,466.1 382.9,465.1 383.1,464.0 383.3,463.0 383.5,462.0 383.8,461.0 384.0,460.1 384.2,459.2 384.4,458.3 384.6,457.4 384.9,456.6 385.1,455.7 385.3,454.8 385.5,454.0 385.8,453.2 386.0,452.4 386.2,451.6 386.4,450.8 386.7,450.0 387.1,448.5 387.5,447.1 388.0,445.7 388.4,444.5 388.9,443.3 389.3,442.2 389.8,441.1 390.2,440.1 390.7,439.1 391.1,438.2 391.6,437.3 392.0,436.4 392.5,435.5 392.9,434.7 393.3,433.9 393.8,433.1 394.2,432.3 394.7,431.6 395.1,430.9 395.6,430.1 396.0,429.5 396.5,428.8 397.1,427.8 397.8,426.8 398.5,425.9 399.2,425.1 399.8,424.2 400.5,423.4 401.2,422.7 401.8,421.9 402.5,421.2 403.2,420.4 403.8,419.7 404.5,419.0 405.2,418.2 405.8,417.5 406.5,416.7 407.2,416.0 407.9,415.2 408.5,414.4 409.2,413.5 409.9,412.7 410.5,411.9 411.2,411.1 411.9,410.2 412.5,409.4 413.2,408.5 413.9,407.7 414.6,406.9 415.2,406.0 415.9,405.2 416.6,404.3 417.2,403.5 417.9,402.6 418.6,401.8 419.2,401.0 419.9,400.1 420.6,399.3 421.2,398.4 421.9,397.5 422.6,396.6 423.3,395.8 423.9,394.9 424.6,394.0 425.3,393.1 425.9,392.2 426.6,391.3 427.3,390.4 427.9,389.6 428.6,388.7 429.3,387.9 430.0,387.2 430.6,386.4 431.3,385.7 432.0,385.0 432.6,384.4 433.3,383.8 434.0,383.2 434.6,382.6 435.3,382.0 436.0,381.5 436.6,380.9 437.3,380.4 438.0,379.9 438.7,379.4 439.3,378.9 440.0,378.4 440.7,377.9 441.3,377.4 442.0,377.0 442.7,376.5 443.3,376.0 444.0,375.5 444.7,375.0 445.4,374.5 446.0,374.0 446.7,373.5 447.4,373.0 448.0,372.5 448.7,371.9 449.4,371.4 450.0,370.9 450.7,370.4 451.4,369.9 452.0,369.3 452.7,368.8 453.4,368.3 454.1,367.7 454.7,367.1 455.4,366.5 456.1,365.9 456.7,365.2 457.4,364.4 458.1,363.5 458.7,362.5 459.4,361.6 460.1,360.7 460.8,359.9 461.4,359.2 462.1,358.7 463.0,358.5 463.9,358.8 464.5,359.3 465.2,360.0 465.9,360.7 466.6,361.3 467.2,361.8 468.1,362.0 469.0,362.0 469.9,362.0 470.8,362.0 471.7,362.0 472.6,362.0 473.5,362.0 474.4,361.9 475.3,361.7 476.2,361.5 477.0,361.2 477.9,360.8 478.8,360.5 479.7,360.1 480.6,359.8 481.5,359.5 482.4,359.2 483.3,358.9 484.2,358.7 485.1,358.4 486.0,358.1 486.9,357.9 487.8,357.6 488.7,357.4 489.5,357.2 490.4,357.1 491.3,357.0 492.2,357.0 493.1,357.0 494.0,357.0 494.9,357.0 495.8,357.1 496.7,357.1 497.6,357.2 498.5,357.2 499.4,357.2 500.3,357.3 501.2,357.3 502.0,357.4 502.9,357.4 503.8,357.5 504.7,357.5 505.6,357.5 506.5,357.5 507.4,357.6 508.3,357.6 509.2,357.6 510.1,357.7 511.0,357.7 511.9,357.7 512.8,357.7 513.7,357.7 514.5,357.8 515.4,357.8 516.3,357.8 517.2,357.8 518.1,357.9 519.0,357.9 519.9,357.9 520.8,357.9 521.7,357.9 522.6,358.0 523.5,358.0 524.4,358.0 525.0,358.0" fill="none" stroke="#111" stroke-width="1.5" stroke-linejoin="round" marker-start="url(#mi)" marker-mid="url(#mi)" marker-end="url(#mi)"/>
<line x1="296.7" y1="332.0" x2="296.7" y2="348.0" stroke="#177a17" stroke-width="3"/>
<polygon points="291.7,348.0 301.7,348.0 296.7,366.0" fill="#177a17"/>
<text transform="translate(328.0,428.0) rotate(-90)" font-size="32" fill="#23862a" textLength="94" lengthAdjust="spacingAndGlyphs">Gas in</text>
<line x1="369.5" y1="500.0" x2="369.5" y2="535.0" stroke="#177a17" stroke-width="3"/>
<polygon points="364.5,535.0 374.5,535.0 369.5,553.0" fill="#177a17"/>
<text transform="translate(379.0,488.0) rotate(-90)" font-size="30" fill="#23862a" textLength="112" lengthAdjust="spacingAndGlyphs">Gas out</text>
<rect x="562.8" y="331" width="174.2" height="201.8" fill="#fff" stroke="#555" stroke-width="2.5"/>
<line x1="566.0" y1="370.3" x2="622.7" y2="370.3" stroke="#22229a" stroke-width="4.5"/>
<circle cx="594.6" cy="370.3" r="4" fill="#fff" stroke="#22229a" stroke-width="1.5"/>
<text x="627.5" y="377.5" font-size="38" fill="#111" textLength="73" lengthAdjust="spacingAndGlyphs">TF0</text>
<line x1="566.0" y1="418.7" x2="622.7" y2="418.7" stroke="#c23cc2" stroke-width="4.5"/>
<circle cx="594.6" cy="418.7" r="4" fill="#fff" stroke="#c23cc2" stroke-width="1.5"/>
<text x="633.5" y="425.5" font-size="38" fill="#111" textLength="102" lengthAdjust="spacingAndGlyphs">TF1.5</text>
<line x1="566.0" y1="468.0" x2="622.7" y2="468.0" stroke="#111" stroke-width="4.5"/>
<circle cx="594.6" cy="468" r="4" fill="#fff" stroke="#111" stroke-width="1.5"/>
<text x="632.5" y="475.8" font-size="38" fill="#111" textLength="72" lengthAdjust="spacingAndGlyphs">TF2</text>
<line x1="566.0" y1="517.0" x2="622.7" y2="517.0" stroke="#b0302e" stroke-width="4.5"/>
<circle cx="594.6" cy="517" r="4" fill="#fff" stroke="#b0302e" stroke-width="1.5"/>
<text x="633.0" y="523.7" font-size="38" fill="#111" textLength="72" lengthAdjust="spacingAndGlyphs">TF3</text>
<line x1="1391.5" y1="1079.7" x2="1399.5" y2="1079.7" stroke="#1c1c1c" stroke-width="3"/>
<line x1="1391.5" y1="1031.5" x2="1406.5" y2="1031.5" stroke="#1c1c1c" stroke-width="3"/>
<line x1="1391.5" y1="983.4" x2="1399.5" y2="983.4" stroke="#1c1c1c" stroke-width="3"/>
<line x1="1391.5" y1="935.2" x2="1406.5" y2="935.2" stroke="#1c1c1c" stroke-width="3"/>
<line x1="1391.5" y1="887.0" x2="1399.5" y2="887.0" stroke="#1c1c1c" stroke-width="3"/>
<line x1="1391.5" y1="838.9" x2="1406.5" y2="838.9" stroke="#1c1c1c" stroke-width="3"/>
<line x1="1391.5" y1="790.8" x2="1399.5" y2="790.8" stroke="#1c1c1c" stroke-width="3"/>
<line x1="1391.5" y1="742.6" x2="1406.5" y2="742.6" stroke="#1c1c1c" stroke-width="3"/>
<line x1="1391.5" y1="694.5" x2="1399.5" y2="694.5" stroke="#1c1c1c" stroke-width="3"/>
<line x1="1391.5" y1="646.3" x2="1406.5" y2="646.3" stroke="#1c1c1c" stroke-width="3"/>
<line x1="1391.5" y1="598.2" x2="1399.5" y2="598.2" stroke="#1c1c1c" stroke-width="3"/>
<line x1="1391.5" y1="550.0" x2="1406.5" y2="550.0" stroke="#1c1c1c" stroke-width="3"/>
<line x1="1391.5" y1="501.9" x2="1399.5" y2="501.9" stroke="#1c1c1c" stroke-width="3"/>
<line x1="1391.5" y1="453.7" x2="1406.5" y2="453.7" stroke="#1c1c1c" stroke-width="3"/>
<line x1="1391.5" y1="405.6" x2="1399.5" y2="405.6" stroke="#1c1c1c" stroke-width="3"/>
<line x1="1391.5" y1="357.4" x2="1406.5" y2="357.4" stroke="#1c1c1c" stroke-width="3"/>
<line x1="1505.8" y1="1103.0" x2="1505.8" y2="1095.0" stroke="#1c1c1c" stroke-width="3"/>
<line x1="1590.2" y1="1103.0" x2="1590.2" y2="1087.0" stroke="#1c1c1c" stroke-width="3"/>
<line x1="1674.6" y1="1103.0" x2="1674.6" y2="1095.0" stroke="#1c1c1c" stroke-width="3"/>
<line x1="1759.1" y1="1103.0" x2="1759.1" y2="1087.0" stroke="#1c1c1c" stroke-width="3"/>
<line x1="1843.5" y1="1103.0" x2="1843.5" y2="1095.0" stroke="#1c1c1c" stroke-width="3"/>
<line x1="1928.0" y1="1103.0" x2="1928.0" y2="1087.0" stroke="#1c1c1c" stroke-width="3"/>
<line x1="2012.4" y1="1103.0" x2="2012.4" y2="1095.0" stroke="#1c1c1c" stroke-width="3"/>
<line x1="2096.9" y1="1103.0" x2="2096.9" y2="1087.0" stroke="#1c1c1c" stroke-width="3"/>
<line x1="2181.3" y1="1103.0" x2="2181.3" y2="1095.0" stroke="#1c1c1c" stroke-width="3"/>
<line x1="2265.8" y1="1103.0" x2="2265.8" y2="1087.0" stroke="#1c1c1c" stroke-width="3"/>
<line x1="2350.2" y1="1103.0" x2="2350.2" y2="1095.0" stroke="#1c1c1c" stroke-width="3"/>
<text x="1373.0" y="1045.0" font-size="46" fill="#111" text-anchor="end">0</text>
<text x="1373.0" y="948.7" font-size="46" fill="#111" text-anchor="end">2</text>
<text x="1373.0" y="852.4" font-size="46" fill="#111" text-anchor="end">4</text>
<text x="1373.0" y="756.1" font-size="46" fill="#111" text-anchor="end">6</text>
<text x="1373.0" y="659.8" font-size="46" fill="#111" text-anchor="end">8</text>
<text x="1373.0" y="563.5" font-size="46" fill="#111" text-anchor="end">10</text>
<text x="1373.0" y="467.2" font-size="46" fill="#111" text-anchor="end">12</text>
<text x="1373.0" y="370.9" font-size="46" fill="#111" text-anchor="end">14</text>
<text x="1421.3" y="1157.5" font-size="46" fill="#111" text-anchor="middle">0</text>
<text x="1590.2" y="1157.5" font-size="46" fill="#111" text-anchor="middle">2000</text>
<text x="1759.1" y="1157.5" font-size="46" fill="#111" text-anchor="middle">4000</text>
<text x="1928.0" y="1157.5" font-size="46" fill="#111" text-anchor="middle">6000</text>
<text x="2096.9" y="1157.5" font-size="46" fill="#111" text-anchor="middle">8000</text>
<text x="2265.8" y="1157.5" font-size="46" fill="#111" text-anchor="middle">10000</text>
<text x="1794.0" y="1225.0" font-size="58" fill="#111" textLength="221" lengthAdjust="spacingAndGlyphs">Time (s)</text>
<text transform="translate(1280,972) rotate(-90) scale(0.983,1)" font-size="60" fill="#111">Response (R<tspan font-size="44" dy="17">g</tspan><tspan dy="-17">/R</tspan><tspan font-size="44" dy="17">a</tspan><tspan dy="-17">)</tspan></text>
<g clip-path="url(#clipR)">
<polyline points="1421.3,983.3 1422.2,982.9 1423.2,982.6 1424.1,982.2 1425.1,981.8 1426.0,981.5 1427.0,981.1 1428.0,980.7 1428.9,980.4 1429.9,980.1 1430.8,979.7 1431.8,979.4 1432.8,979.1 1433.7,978.8 1434.7,978.5 1435.6,978.2 1436.6,977.9 1437.6,977.6 1438.6,977.4 1439.6,977.1 1440.6,976.9 1441.5,976.6 1442.5,976.4 1443.5,976.1 1444.5,975.9 1445.5,975.7 1446.5,975.5 1447.5,975.2 1448.5,975.0 1449.5,974.8 1450.5,974.6 1451.4,974.4 1452.4,974.2 1453.4,974.1 1454.4,973.9 1455.4,973.7 1456.4,973.5 1457.4,973.4 1458.4,973.2 1459.4,973.1 1460.4,972.9 1461.4,972.8 1462.4,972.7 1463.4,972.5 1464.5,972.4 1465.5,972.3 1466.5,972.1 1467.5,972.0 1468.5,971.9 1469.6,971.8 1470.6,971.6 1471.6,971.5 1472.6,971.4 1473.6,971.3 1474.7,971.2 1475.7,971.1 1476.7,971.0 1477.7,970.9 1478.7,970.8 1479.8,970.7 1480.8,970.6 1481.8,970.5 1482.8,970.4 1483.8,970.3 1484.9,970.3 1485.9,970.2 1486.9,970.2 1487.9,970.1 1488.9,970.0 1490.0,970.0 1491.0,970.0 1492.0,969.9 1493.0,969.9 1494.0,969.8 1495.1,969.8 1496.1,969.8 1497.1,969.7 1498.1,969.7 1499.1,969.7 1500.2,969.6 1501.2,969.6 1502.2,969.6 1503.2,969.6 1504.2,969.5 1505.3,969.5 1506.3,969.5 1507.3,969.5 1508.3,969.4 1509.3,969.4 1510.4,969.4 1511.4,969.4 1512.4,969.4 1513.4,969.3 1514.4,969.3 1515.5,969.3 1516.5,969.3 1517.5,969.2 1518.5,969.2 1519.5,969.2 1520.6,969.2 1521.6,969.2 1522.6,969.1 1523.6,969.1 1524.6,969.1 1525.7,969.1 1526.7,969.1 1527.7,969.0 1528.7,969.0 1529.7,969.0 1530.8,969.0 1531.8,969.0 1532.8,968.9 1533.8,968.9 1534.8,968.9 1535.9,968.9 1536.9,968.8 1537.9,968.8 1538.9,968.8 1539.9,968.8 1541.0,968.7 1542.0,968.7 1543.0,968.7 1544.0,968.7 1545.0,968.6 1546.1,968.6 1547.1,968.6 1548.1,968.6 1549.1,968.6 1550.1,968.5 1551.2,968.5 1552.2,968.5 1553.2,968.5 1554.2,968.5 1555.2,968.5 1556.3,968.6 1556.8,969.5 1557.2,970.5 1557.6,971.4 1558.2,972.3 1558.9,973.1 1559.6,973.8 1560.3,974.6 1561.0,975.3 1561.7,976.0 1562.5,976.6 1563.3,977.2 1564.2,977.7 1565.2,978.1 1566.1,978.4 1567.1,978.7 1568.1,979.0 1569.0,979.2 1570.0,979.5 1571.0,979.7 1572.0,979.9 1573.0,980.1 1574.0,980.3 1575.0,980.4 1576.0,980.6 1577.0,980.7 1578.0,980.8 1579.1,980.9 1580.1,981.0 1581.1,981.1 1582.1,981.2 1583.1,981.2 1584.2,981.3 1585.2,981.4 1586.2,981.4 1587.2,981.5 1588.2,981.5 1589.3,981.6 1590.3,981.7 1591.3,981.7 1592.3,981.8 1593.3,981.8 1594.4,981.8 1595.4,981.9 1596.4,981.9 1597.4,981.9 1598.4,982.0 1599.5,982.0 1600.5,982.0 1601.5,982.0 1602.5,982.0 1603.5,982.0 1604.5,981.7 1605.4,981.2 1606.3,980.7 1607.1,980.0 1607.8,979.3 1608.5,978.6 1609.2,977.9 1609.9,977.1 1610.6,976.4 1611.3,975.6 1612.0,974.8 1612.7,974.1 1613.4,973.4 1614.1,972.7 1614.9,972.1 1615.7,971.5 1616.5,970.8 1617.3,970.2 1618.2,969.6 1619.0,969.0 1619.8,968.4 1620.6,967.8 1621.4,967.2 1622.3,966.6 1623.1,966.1 1623.9,965.5 1624.8,964.9 1625.7,964.4 1626.5,963.9 1627.4,963.3 1628.3,962.9 1629.2,962.4 1630.1,961.9 1631.1,961.5 1632.0,961.1 1632.9,960.7 1633.8,960.2 1634.8,959.8 1635.7,959.4 1636.6,959.1 1637.6,958.7 1638.5,958.3 1639.5,957.9 1640.4,957.6 1641.4,957.2 1642.3,956.9 1643.3,956.6 1644.3,956.3 1645.2,956.0 1646.2,955.8 1647.2,955.5 1648.2,955.3 1649.2,955.1 1650.2,955.0 1651.2,954.8 1652.2,954.7 1653.2,954.5 1654.2,954.4 1655.2,954.2 1656.2,954.1 1657.2,954.0 1658.3,953.8 1659.3,953.7 1660.3,953.6 1661.3,953.5 1662.3,953.4 1663.4,953.3 1664.4,953.2 1665.4,953.1 1666.4,953.0 1667.4,952.9 1668.5,952.8 1669.5,952.7 1670.5,952.7 1671.5,952.6 1672.5,952.5 1673.6,952.4 1674.6,952.4 1675.6,952.3 1676.6,952.2 1677.6,952.1 1678.7,952.1 1679.7,952.0 1680.7,952.0 1681.7,951.9 1682.7,951.8 1683.8,951.8 1684.8,951.7 1685.8,951.6 1686.8,951.6 1687.8,951.5 1688.9,951.5 1689.9,951.4 1690.9,951.3 1691.9,951.3 1692.9,951.2 1694.0,951.2 1695.0,951.1 1696.0,951.0 1697.0,951.0 1698.0,950.9 1699.1,950.9 1700.1,950.8 1701.1,950.8 1702.1,950.7 1703.1,950.7 1704.2,950.6 1705.2,950.6 1706.2,950.5 1707.2,950.5 1708.2,950.4 1709.3,950.4 1710.3,950.3 1711.3,950.3 1712.3,950.3 1713.3,950.2 1714.4,950.2 1715.4,950.2 1716.4,950.1 1717.4,950.1 1718.4,950.1 1719.5,950.1 1720.5,950.1 1721.5,950.0 1722.5,950.0 1723.5,950.0 1724.6,950.0 1725.6,950.0 1726.6,950.0 1727.4,950.7 1727.6,951.8 1727.8,952.9 1728.0,954.0 1728.1,955.1 1728.3,956.1 1728.4,957.1 1728.6,958.2 1728.8,959.3 1729.1,960.3 1729.5,961.2 1729.8,962.1 1730.3,963.1 1730.7,964.0 1731.2,964.9 1731.7,965.8 1732.2,966.7 1732.8,967.5 1733.5,968.3 1734.1,969.1 1734.8,969.8 1735.5,970.6 1736.3,971.3 1737.0,972.0 1737.8,972.6 1738.6,973.3 1739.4,973.9 1740.3,974.5 1741.1,975.0 1742.0,975.5 1742.9,976.0 1743.8,976.5 1744.7,976.9 1745.6,977.2 1746.6,977.6 1747.5,978.0 1748.5,978.3 1749.5,978.6 1750.4,978.9 1751.4,979.2 1752.4,979.5 1753.4,979.8 1754.4,980.0 1755.3,980.3 1756.3,980.5 1757.3,980.6 1758.3,980.8 1759.3,980.9 1760.4,981.0 1761.4,981.1 1762.4,981.2 1763.4,981.3 1764.4,981.4 1765.5,981.5 1766.5,981.6 1767.5,981.7 1768.5,981.7 1769.5,981.8 1770.6,981.9 1771.6,981.9 1772.6,981.9 1773.6,982.0 1774.6,982.0 1775.7,982.0 1776.7,981.9 1777.7,981.7 1778.6,981.3 1779.5,980.8 1780.3,980.2 1781.1,979.5 1781.8,978.8 1782.5,978.1 1783.2,977.3 1783.9,976.6 1784.6,975.8 1785.3,975.0 1786.0,974.3 1786.6,973.5 1787.3,972.8 1788.0,972.0 1788.7,971.3 1789.4,970.5 1790.2,969.8 1790.9,969.1 1791.6,968.4 1792.4,967.7 1793.1,966.9 1793.8,966.2 1794.5,965.4 1795.2,964.7 1795.8,963.9 1796.5,963.2 1797.2,962.4 1797.9,961.7 1798.6,960.9 1799.3,960.2 1800.0,959.4 1800.7,958.7 1801.5,958.0 1802.2,957.3 1803.0,956.6 1803.7,956.0 1804.5,955.3 1805.4,954.7 1806.2,954.1 1807.0,953.6 1807.9,953.0 1808.7,952.4 1809.6,951.9 1810.4,951.3 1811.3,950.8 1812.2,950.3 1813.0,949.8 1813.9,949.3 1814.8,948.7 1815.7,948.3 1816.6,947.8 1817.5,947.3 1818.4,946.9 1819.3,946.4 1820.3,946.0 1821.2,945.6 1822.1,945.2 1823.1,944.8 1824.0,944.4 1824.9,944.0 1825.9,943.7 1826.9,943.3 1827.8,943.0 1828.8,942.6 1829.7,942.3 1830.7,942.0 1831.7,941.7 1832.6,941.4 1833.6,941.1 1834.5,940.8 1835.5,940.5 1836.5,940.2 1837.5,939.9 1838.4,939.6 1839.4,939.4 1840.4,939.1 1841.4,938.9 1842.4,938.6 1843.4,938.4 1844.4,938.1 1845.4,937.9 1846.4,937.7 1847.4,937.5 1848.3,937.3 1849.3,937.1 1850.3,936.9 1851.3,936.8 1852.3,936.6 1853.3,936.4 1854.3,936.3 1855.3,936.1 1856.3,935.9 1857.3,935.8 1858.2,935.6 1859.2,935.5 1860.2,935.3 1861.2,935.2 1862.2,935.0 1863.3,934.9 1864.3,934.8 1865.3,934.6 1866.3,934.5 1867.3,934.4 1868.4,934.2 1869.4,934.1 1870.4,934.0 1871.4,933.9 1872.4,933.8 1873.5,933.7 1874.5,933.5 1875.5,933.4 1876.5,933.3 1877.5,933.2 1878.6,933.1 1879.6,933.0 1880.6,932.9 1881.6,932.8 1882.6,932.7 1883.7,932.7 1884.7,932.6 1885.7,932.4 1886.7,932.3 1887.7,932.3 1888.8,932.2 1889.8,932.1 1890.8,932.0 1891.8,931.9 1892.8,931.8 1893.9,931.7 1894.9,931.6 1895.9,931.5 1896.9,931.4 1897.9,931.4 1899.0,931.3 1900.0,931.2 1901.0,931.2 1902.0,931.1 1903.0,931.1 1904.1,931.1 1905.1,931.0 1906.1,931.0 1907.1,931.0 1908.1,931.1 1908.5,932.1 1908.7,933.1 1908.9,934.1 1909.1,935.2 1909.2,936.3 1909.4,937.4 1909.6,938.4 1909.8,939.4 1910.1,940.3 1910.5,941.3 1910.8,942.3 1911.2,943.2 1911.6,944.2 1912.1,945.2 1912.5,946.1 1913.0,947.0 1913.5,947.9 1914.0,948.8 1914.5,949.7 1915.1,950.6 1915.6,951.5 1916.2,952.3 1916.8,953.2 1917.3,954.0 1917.9,954.9 1918.5,955.8 1919.1,956.6 1919.6,957.5 1920.2,958.3 1920.8,959.2 1921.4,960.0 1922.0,960.9 1922.6,961.7 1923.2,962.5 1923.8,963.3 1924.4,964.1 1925.1,964.9 1925.7,965.7 1926.4,966.4 1927.2,967.2 1927.9,967.9 1928.6,968.6 1929.4,969.3 1930.1,970.0 1930.9,970.7 1931.6,971.4 1932.4,972.0 1933.2,972.7 1933.9,973.3 1934.7,974.0 1935.5,974.6 1936.3,975.2 1937.2,975.7 1938.0,976.3 1938.9,976.8 1939.8,977.2 1940.8,977.6 1941.7,977.9 1942.7,978.2 1943.7,978.4 1944.7,978.7 1945.7,978.9 1946.7,979.1 1947.7,979.4 1948.7,979.6 1949.7,979.8 1950.6,980.0 1951.6,980.2 1952.6,980.3 1953.6,980.5 1954.6,980.7 1955.6,980.8 1956.6,981.0 1957.6,981.1 1958.6,981.3 1959.6,981.4 1960.7,981.5 1961.7,981.6 1962.7,981.7 1963.7,981.8 1964.7,981.8 1965.8,981.9 1966.8,981.9 1967.8,982.0 1968.8,982.0 1969.8,982.0 1970.8,981.8 1971.7,981.4 1972.5,980.7 1973.2,980.0 1973.9,979.2 1974.5,978.3 1975.0,977.5 1975.6,976.6 1976.1,975.8 1976.7,974.9 1977.2,974.1 1977.8,973.2 1978.3,972.3 1978.9,971.5 1979.5,970.6 1980.1,969.8 1980.8,969.0 1981.4,968.2 1982.0,967.4 1982.6,966.6 1983.2,965.7 1983.8,964.9 1984.4,964.1 1985.0,963.2 1985.6,962.4 1986.2,961.5 1986.8,960.7 1987.4,959.8 1988.0,959.0 1988.6,958.1 1989.2,957.3 1989.8,956.5 1990.4,955.7 1991.0,954.8 1991.7,954.0 1992.3,953.2 1992.9,952.4 1993.6,951.6 1994.2,950.8 1994.9,950.1 1995.6,949.3 1996.3,948.6 1997.0,947.8 1997.7,947.1 1998.4,946.3 1999.1,945.6 1999.8,944.9 2000.4,944.2 2001.2,943.4 2001.9,942.7 2002.6,941.9 2003.3,941.2 2004.0,940.5 2004.8,939.8 2005.5,939.1 2006.3,938.4 2007.0,937.7 2007.8,937.1 2008.6,936.4 2009.4,935.8 2010.2,935.1 2011.0,934.5 2011.8,933.9 2012.7,933.4 2013.5,932.8 2014.4,932.3 2015.3,931.8 2016.2,931.4 2017.1,930.9 2018.0,930.5 2018.9,930.0 2019.8,929.6 2020.8,929.1 2021.7,928.7 2022.6,928.3 2023.5,927.9 2024.5,927.5 2025.4,927.1 2026.3,926.7 2027.3,926.4 2028.3,926.0 2029.2,925.7 2030.2,925.3 2031.1,925.0 2032.1,924.7 2033.1,924.4 2034.1,924.2 2035.1,923.9 2036.1,923.7 2037.0,923.5 2038.0,923.3 2039.0,923.1 2040.0,923.0 2041.1,922.9 2042.1,922.7 2043.1,922.6 2044.1,922.5 2045.1,922.4 2046.2,922.3 2047.2,922.2 2048.2,922.1 2049.2,922.0 2050.2,921.9 2051.3,921.8 2052.3,921.7 2053.3,921.6 2054.3,921.5 2055.3,921.5 2056.4,921.4 2057.4,921.3 2058.4,921.3 2059.4,921.2 2060.4,921.1 2061.5,921.1 2062.5,921.0 2063.5,920.9 2064.5,920.9 2065.5,920.8 2066.6,920.8 2067.6,920.7 2068.6,920.6 2069.6,920.6 2070.6,920.5 2071.7,920.5 2072.7,920.4 2073.7,920.4 2074.7,920.3 2075.7,920.2 2076.8,920.2 2077.8,920.1 2078.8,920.1 2079.8,920.0 2080.8,919.9 2081.9,919.9 2082.9,919.8 2083.9,919.7 2084.9,919.7 2085.9,919.6 2087.0,919.5 2088.0,919.5 2089.0,919.4 2090.0,919.3 2091.0,919.3 2092.1,919.2 2093.1,919.1 2094.1,919.1 2095.1,919.0 2096.1,918.9 2097.2,918.9 2098.2,918.8 2099.2,918.8 2100.2,918.7 2101.2,918.7 2102.3,918.6 2103.3,918.6 2104.3,918.6 2105.3,918.5 2106.3,918.5 2107.4,918.5 2108.4,918.5 2109.3,919.0 2109.6,920.1 2109.8,921.2 2110.0,922.3 2110.2,923.4 2110.3,924.6 2110.5,925.7 2110.7,926.7 2110.9,927.7 2111.2,928.7 2111.5,929.7 2111.8,930.7 2112.1,931.7 2112.5,932.8 2112.8,933.7 2113.1,934.7 2113.5,935.7 2113.8,936.7 2114.2,937.6 2114.6,938.6 2115.0,939.6 2115.4,940.5 2115.8,941.5 2116.2,942.4 2116.6,943.3 2117.1,944.3 2117.5,945.2 2118.0,946.1 2118.5,947.1 2118.9,948.0 2119.4,948.9 2119.9,949.8 2120.4,950.7 2120.9,951.6 2121.4,952.5 2121.9,953.4 2122.4,954.3 2122.9,955.2 2123.4,956.1 2124.0,957.0 2124.5,957.8 2125.1,958.7 2125.7,959.6 2126.2,960.4 2126.8,961.2 2127.5,962.1 2128.1,962.9 2128.8,963.7 2129.4,964.4 2130.2,965.2 2130.9,965.9 2131.6,966.6 2132.4,967.3 2133.1,968.0 2133.9,968.7 2134.6,969.4 2135.4,970.0 2136.2,970.7 2137.0,971.3 2137.8,971.9 2138.7,972.5 2139.5,973.1 2140.4,973.7 2141.2,974.2 2142.1,974.7 2143.0,975.1 2144.0,975.6 2144.9,976.0 2145.9,976.3 2146.8,976.7 2147.8,977.0 2148.7,977.3 2149.7,977.7 2150.7,978.0 2151.6,978.3 2152.6,978.6 2153.6,978.8 2154.6,979.1 2155.6,979.3 2156.5,979.6 2157.5,979.8 2158.5,980.0 2159.5,980.2 2160.5,980.4 2161.5,980.6 2162.5,980.7 2163.5,980.8 2164.5,981.0 2165.5,981.1 2166.6,981.2 2167.6,981.2 2168.6,981.3 2169.6,981.4 2170.6,981.5 2171.7,981.6 2172.7,981.7 2173.7,981.7 2174.7,981.8 2175.7,981.9 2176.8,981.9 2177.8,981.9 2178.8,982.0 2179.8,982.0 2180.8,982.0 2181.8,981.8 2182.6,981.1 2183.3,980.3 2183.9,979.5 2184.4,978.6 2184.9,977.7 2185.3,976.7 2185.7,975.8 2186.2,974.8 2186.5,973.8 2186.9,972.9 2187.3,971.9 2187.7,970.9 2188.0,970.0 2188.4,969.0 2188.8,968.0 2189.1,967.1 2189.5,966.1 2189.8,965.2 2190.2,964.2 2190.6,963.2 2191.0,962.3 2191.4,961.3 2191.9,960.3 2192.3,959.4 2192.7,958.4 2193.1,957.5 2193.6,956.5 2194.0,955.5 2194.4,954.6 2194.8,953.6 2195.2,952.7 2195.5,951.7 2195.9,950.8 2196.3,949.8 2196.7,948.8 2197.1,947.8 2197.5,946.8 2197.9,945.8 2198.3,944.9 2198.7,943.9 2199.1,942.9 2199.4,942.0 2199.8,941.0 2200.2,940.1 2200.6,939.1 2201.0,938.1 2201.5,937.2 2201.9,936.2 2202.3,935.3 2202.7,934.3 2203.2,933.4 2203.6,932.5 2204.1,931.6 2204.6,930.7 2205.1,929.8 2205.6,928.9 2206.1,928.1 2206.6,927.2 2207.2,926.3 2207.7,925.4 2208.2,924.5 2208.7,923.6 2209.2,922.8 2209.7,921.9 2210.2,921.0 2210.8,920.1 2211.3,919.2 2211.9,918.4 2212.4,917.5 2213.0,916.7 2213.6,915.8 2214.2,915.0 2214.8,914.2 2215.5,913.4 2216.2,912.7 2216.9,912.0 2217.7,911.3 2218.5,910.7 2219.4,910.2 2220.4,909.9 2221.3,909.6 2222.3,909.3 2223.3,909.0 2224.3,908.7 2225.3,908.5 2226.3,908.2 2227.3,908.0 2228.2,907.8 2229.2,907.6 2230.2,907.4 2231.2,907.2 2232.2,907.0 2233.2,906.9 2234.2,906.7 2235.2,906.6 2236.2,906.4 2237.2,906.3 2238.2,906.1 2239.2,906.0 2240.2,905.9 2241.3,905.8 2242.3,905.7 2243.3,905.6 2244.3,905.5 2245.3,905.4 2246.4,905.3 2247.4,905.2 2248.4,905.1 2249.4,905.0 2250.4,905.0 2251.5,904.9 2252.5,904.8 2253.5,904.7 2254.5,904.7 2255.5,904.6 2256.6,904.5 2257.6,904.5 2258.6,904.4 2259.6,904.3 2260.6,904.3 2261.7,904.2 2262.7,904.2 2263.7,904.1 2264.7,904.0 2265.7,904.0 2266.8,903.9 2267.8,903.9 2268.8,903.8 2269.8,903.8 2270.8,903.7 2271.9,903.7 2272.9,903.7 2273.9,903.6 2274.9,903.6 2275.9,903.5 2277.0,903.5 2278.0,903.4 2279.0,903.4 2280.0,903.4 2281.0,903.3 2282.1,903.3 2283.1,903.2 2284.1,903.2 2285.1,903.2 2286.1,903.1 2287.2,903.1 2288.2,903.1 2289.2,903.0 2290.2,903.0 2291.2,903.0 2292.3,902.9 2293.3,902.9 2294.3,902.8 2295.3,902.8 2296.3,902.8 2297.4,902.7 2298.4,902.7 2299.4,902.6 2300.4,902.6 2301.4,902.6 2302.5,902.5 2303.5,902.5 2304.5,902.5 2305.5,902.4 2306.5,902.4 2307.6,902.4 2308.6,902.3 2309.6,902.3 2310.6,902.3 2311.6,902.2 2312.7,902.2 2313.7,902.2 2314.7,902.1 2315.7,902.1 2316.7,902.1 2317.8,902.1 2318.8,902.1 2319.8,902.0 2320.8,902.0 2321.8,902.0 2322.9,902.0 2323.9,902.0 2324.9,902.0 2325.9,902.0 2326.4,902.9 2326.6,903.9 2326.7,904.9 2326.9,906.1 2327.0,907.1 2327.1,908.1 2327.2,909.2 2327.3,910.3 2327.5,911.3 2327.6,912.5 2327.8,913.6 2327.9,914.7 2328.2,915.8 2328.4,916.8 2328.7,917.8 2328.9,918.8 2329.2,919.9 2329.4,921.0 2329.7,922.0 2330.0,923.0 2330.3,924.0 2330.6,925.1 2330.9,926.1 2331.2,927.0 2331.5,928.1 2331.8,929.1 2332.2,930.0 2332.5,931.1 2332.9,932.1 2333.2,933.0 2333.6,934.0 2334.0,935.0 2334.4,936.0 2334.8,937.0 2335.2,937.9 2335.6,938.9 2335.9,939.9 2336.3,940.8 2336.7,941.7 2337.1,942.7 2337.5,943.7 2338.0,944.6 2338.4,945.6 2338.8,946.5 2339.2,947.5 2339.6,948.4 2340.1,949.3 2340.5,950.3 2341.0,951.2 2341.4,952.1 2341.9,953.0 2342.4,953.9 2342.9,954.8 2343.4,955.7 2343.9,956.6 2344.4,957.5 2344.9,958.4 2345.5,959.2 2346.1,960.1 2346.6,960.9 2347.2,961.8 2347.8,962.6 2348.4,963.4 2349.0,964.3 2349.6,965.1 2350.2,965.9 2350.8,966.8 2351.4,967.6 2352.1,968.3 2352.7,969.1 2353.4,969.9 2354.1,970.6 2354.8,971.4 2355.5,972.1 2356.3,972.8 2357.1,973.4 2358.0,974.0 2358.8,974.5 2359.7,975.1 2360.6,975.6 2361.4,976.1 2362.3,976.6 2363.2,977.1 2364.1,977.6 2365.0,978.1 2365.9,978.5 2366.9,978.9 2367.8,979.2 2368.8,979.5 2369.8,979.7 2370.8,979.9 2371.8,980.0 2372.0,980.0" fill="none" stroke="#1414e0" stroke-width="2" stroke-linejoin="round" marker-start="url(#mB)" marker-mid="url(#mB)" marker-end="url(#mB)"/>
<polyline points="1421.3,983.3 1421.8,982.4 1422.3,981.5 1422.8,980.6 1423.3,979.8 1423.9,978.9 1424.4,978.0 1425.0,977.1 1425.5,976.3 1426.1,975.4 1426.6,974.5 1427.2,973.7 1427.8,972.9 1428.4,972.0 1429.0,971.2 1429.7,970.4 1430.3,969.6 1431.0,968.8 1431.6,968.0 1432.3,967.3 1433.0,966.5 1433.7,965.7 1434.4,965.0 1435.1,964.3 1435.8,963.6 1436.6,962.8 1437.3,962.2 1438.1,961.5 1438.9,960.8 1439.7,960.2 1440.5,959.6 1441.4,959.0 1442.2,958.5 1443.0,957.9 1443.9,957.4 1444.8,956.8 1445.6,956.3 1446.5,955.8 1447.4,955.3 1448.3,954.8 1449.2,954.3 1450.1,953.9 1451.0,953.5 1452.0,953.1 1452.9,952.7 1453.9,952.4 1454.8,952.0 1455.8,951.8 1456.8,951.5 1457.8,951.2 1458.8,950.9 1459.8,950.7 1460.7,950.4 1461.7,950.2 1462.7,950.0 1463.7,949.8 1464.7,949.5 1465.7,949.4 1466.7,949.2 1467.7,949.0 1468.7,948.8 1469.7,948.7 1470.6,948.5 1471.7,948.4 1472.7,948.2 1473.7,948.1 1474.7,948.0 1475.7,947.9 1476.8,947.8 1477.8,947.7 1478.8,947.7 1479.8,947.6 1480.8,947.5 1481.9,947.4 1482.9,947.3 1483.9,947.3 1484.9,947.2 1485.9,947.1 1487.0,947.1 1488.0,947.0 1489.0,946.9 1490.0,946.9 1491.0,946.8 1492.1,946.8 1493.1,946.7 1494.1,946.6 1495.1,946.6 1496.1,946.5 1497.2,946.5 1498.2,946.4 1499.2,946.4 1500.2,946.4 1501.2,946.3 1502.3,946.3 1503.3,946.2 1504.3,946.2 1505.3,946.2 1506.3,946.1 1507.4,946.1 1508.4,946.1 1509.4,946.0 1510.4,946.0 1511.4,946.0 1512.5,945.9 1513.5,945.9 1514.5,945.9 1515.5,945.8 1516.5,945.8 1517.6,945.8 1518.6,945.7 1519.6,945.7 1520.6,945.7 1521.6,945.6 1522.7,945.6 1523.7,945.6 1524.7,945.5 1525.7,945.5 1526.7,945.5 1527.8,945.5 1528.8,945.4 1529.8,945.4 1530.8,945.4 1531.8,945.3 1532.9,945.3 1533.9,945.3 1534.9,945.3 1535.9,945.2 1536.9,945.2 1538.0,945.2 1539.0,945.2 1540.0,945.2 1541.0,945.1 1542.0,945.1 1543.1,945.1 1544.1,945.1 1545.1,945.1 1546.1,945.1 1547.1,945.1 1548.2,945.0 1549.2,945.0 1550.2,945.0 1551.2,945.0 1552.2,945.0 1553.3,945.0 1554.3,945.0 1555.3,945.0 1556.3,945.2 1556.8,946.1 1557.1,947.1 1557.4,948.1 1557.7,949.1 1558.0,950.1 1558.3,951.1 1558.6,952.1 1558.9,953.1 1559.1,954.1 1559.4,955.2 1559.6,956.2 1559.8,957.3 1560.1,958.3 1560.3,959.4 1560.6,960.4 1560.8,961.4 1561.1,962.5 1561.4,963.5 1561.8,964.5 1562.2,965.4 1562.7,966.3 1563.2,967.2 1563.7,968.1 1564.2,969.0 1564.8,969.8 1565.4,970.7 1566.0,971.5 1566.7,972.3 1567.4,973.0 1568.1,973.7 1569.0,974.3 1569.8,974.9 1570.7,975.4 1571.6,975.8 1572.5,976.3 1573.5,976.7 1574.4,977.1 1575.3,977.5 1576.3,977.8 1577.3,978.2 1578.2,978.5 1579.2,978.7 1580.2,979.0 1581.2,979.2 1582.2,979.5 1583.2,979.7 1584.2,979.9 1585.2,980.0 1586.1,980.2 1587.1,980.4 1588.1,980.5 1589.1,980.7 1590.1,980.8 1591.1,981.0 1592.1,981.1 1593.1,981.3 1594.1,981.4 1595.1,981.5 1596.2,981.6 1597.2,981.7 1598.2,981.8 1599.2,981.9 1600.2,981.9 1601.3,982.0 1602.3,982.0 1603.3,981.9 1603.9,981.0 1604.3,980.0 1604.6,979.0 1604.8,978.0 1605.1,977.0 1605.3,976.0 1605.6,974.9 1605.8,973.9 1606.1,972.8 1606.3,971.7 1606.5,970.6 1606.8,969.5 1607.0,968.5 1607.3,967.5 1607.5,966.5 1607.8,965.5 1608.2,964.5 1608.5,963.5 1608.8,962.6 1609.2,961.6 1609.5,960.6 1609.8,959.6 1610.1,958.6 1610.5,957.7 1610.8,956.7 1611.1,955.8 1611.5,954.8 1611.9,953.8 1612.2,952.8 1612.6,951.8 1613.0,950.9 1613.4,949.9 1613.8,949.0 1614.2,948.0 1614.7,947.1 1615.2,946.2 1615.8,945.3 1616.4,944.5 1617.0,943.7 1617.7,942.9 1618.4,942.1 1619.1,941.4 1619.7,940.6 1620.5,939.9 1621.2,939.2 1622.0,938.5 1622.8,937.9 1623.6,937.3 1624.4,936.7 1625.3,936.2 1626.2,935.7 1627.1,935.3 1628.1,935.0 1629.0,934.7 1630.0,934.4 1631.0,934.1 1632.0,933.8 1633.0,933.6 1634.0,933.3 1635.0,933.1 1635.9,932.9 1636.9,932.7 1637.9,932.5 1638.9,932.3 1639.9,932.1 1640.9,932.0 1641.9,931.8 1642.9,931.7 1643.9,931.5 1644.9,931.4 1646.0,931.3 1647.0,931.2 1648.0,931.1 1649.0,931.1 1650.0,931.0 1651.1,930.9 1652.1,930.9 1653.1,930.8 1654.1,930.8 1655.1,930.7 1656.2,930.7 1657.2,930.6 1658.2,930.6 1659.2,930.5 1660.2,930.5 1661.3,930.5 1662.3,930.4 1663.3,930.4 1664.3,930.4 1665.3,930.3 1666.4,930.3 1667.4,930.3 1668.4,930.2 1669.4,930.2 1670.4,930.2 1671.5,930.1 1672.5,930.1 1673.5,930.1 1674.5,930.0 1675.5,930.0 1676.6,930.0 1677.6,930.0 1678.6,929.9 1679.6,929.9 1680.6,929.9 1681.7,929.9 1682.7,929.9 1683.7,929.8 1684.7,929.8 1685.7,929.8 1686.8,929.8 1687.8,929.8 1688.8,929.7 1689.8,929.7 1690.8,929.7 1691.9,929.7 1692.9,929.7 1693.9,929.6 1694.9,929.6 1695.9,929.6 1697.0,929.6 1698.0,929.5 1699.0,929.5 1700.0,929.5 1701.0,929.5 1702.1,929.5 1703.1,929.4 1704.1,929.4 1705.1,929.4 1706.1,929.4 1707.2,929.3 1708.2,929.3 1709.2,929.3 1710.2,929.3 1711.2,929.2 1712.3,929.2 1713.3,929.2 1714.3,929.2 1715.3,929.1 1716.3,929.1 1717.4,929.1 1718.4,929.1 1719.4,929.1 1720.4,929.0 1721.4,929.0 1722.5,929.0 1723.5,929.0 1724.5,929.0 1725.5,929.0 1726.5,929.0 1727.4,929.5 1727.8,930.4 1728.1,931.5 1728.4,932.6 1728.6,933.5 1728.9,934.6 1729.2,935.6 1729.4,936.6 1729.6,937.8 1729.8,938.8 1730.1,939.9 1730.2,940.9 1730.4,941.9 1730.6,942.9 1730.8,944.0 1731.0,945.0 1731.1,946.1 1731.3,947.1 1731.5,948.1 1731.7,949.1 1731.9,950.2 1732.1,951.3 1732.3,952.3 1732.5,953.4 1732.8,954.4 1733.1,955.4 1733.4,956.4 1733.8,957.4 1734.1,958.3 1734.5,959.3 1734.8,960.3 1735.2,961.3 1735.6,962.3 1736.0,963.2 1736.4,964.2 1736.8,965.1 1737.3,966.0 1737.7,966.9 1738.2,967.8 1738.8,968.6 1739.4,969.4 1740.2,970.2 1740.9,970.8 1741.7,971.5 1742.5,972.1 1743.3,972.7 1744.2,973.3 1745.0,973.8 1745.9,974.3 1746.8,974.8 1747.7,975.3 1748.6,975.7 1749.6,976.1 1750.5,976.5 1751.4,976.9 1752.4,977.2 1753.4,977.5 1754.3,977.8 1755.3,978.1 1756.3,978.4 1757.3,978.7 1758.3,978.9 1759.3,979.2 1760.3,979.5 1761.3,979.7 1762.2,980.0 1763.2,980.2 1764.2,980.5 1765.2,980.7 1766.2,980.9 1767.2,981.1 1768.2,981.3 1769.2,981.4 1770.2,981.6 1771.2,981.7 1772.2,981.8 1773.2,981.9 1774.2,982.0 1775.3,982.0 1776.3,981.9 1776.9,981.0 1777.3,980.0 1777.7,979.0 1778.0,978.0 1778.3,977.0 1778.7,976.0 1779.0,975.0 1779.3,974.0 1779.7,973.1 1780.0,972.0 1780.3,971.0 1780.6,970.0 1780.9,969.0 1781.2,968.0 1781.5,967.0 1781.8,965.9 1782.1,964.9 1782.4,964.0 1782.6,963.0 1782.9,962.0 1783.2,961.0 1783.5,960.0 1783.7,959.0 1784.0,958.0 1784.3,957.0 1784.5,955.9 1784.8,954.8 1785.0,953.8 1785.3,952.8 1785.5,951.8 1785.8,950.7 1786.0,949.7 1786.2,948.6 1786.5,947.5 1786.7,946.4 1787.0,945.3 1787.2,944.2 1787.4,943.1 1787.7,942.0 1787.9,940.8 1788.2,939.8 1788.4,938.7 1788.6,937.6 1788.9,936.5 1789.1,935.5 1789.4,934.4 1789.6,933.4 1789.8,932.4 1790.1,931.4 1790.4,930.3 1790.7,929.3 1790.9,928.3 1791.2,927.3 1791.5,926.4 1791.9,925.4 1792.2,924.4 1792.6,923.4 1792.9,922.5 1793.3,921.5 1793.7,920.5 1794.1,919.6 1794.5,918.6 1794.9,917.7 1795.3,916.7 1795.7,915.7 1796.1,914.8 1796.5,913.9 1797.0,912.9 1797.4,912.0 1797.9,911.1 1798.4,910.2 1798.9,909.3 1799.4,908.4 1800.0,907.5 1800.6,906.7 1801.2,905.9 1801.9,905.1 1802.6,904.3 1803.3,903.6 1804.1,902.9 1804.8,902.2 1805.6,901.5 1806.4,900.9 1807.2,900.2 1808.0,899.6 1808.9,899.0 1809.7,898.5 1810.6,898.0 1811.5,897.5 1812.4,897.0 1813.3,896.6 1814.3,896.2 1815.2,895.9 1816.2,895.6 1817.2,895.4 1818.2,895.1 1819.2,894.9 1820.1,894.6 1821.1,894.4 1822.1,894.2 1823.1,894.0 1824.1,893.8 1825.1,893.7 1826.1,893.5 1827.1,893.4 1828.1,893.2 1829.1,893.1 1830.1,893.0 1831.2,892.9 1832.2,892.8 1833.2,892.6 1834.2,892.5 1835.2,892.4 1836.3,892.3 1837.3,892.2 1838.3,892.1 1839.3,892.0 1840.3,891.9 1841.4,891.9 1842.4,891.8 1843.4,891.7 1844.4,891.6 1845.4,891.5 1846.5,891.4 1847.5,891.4 1848.5,891.3 1849.5,891.2 1850.5,891.1 1851.6,891.1 1852.6,891.0 1853.6,890.9 1854.6,890.9 1855.6,890.8 1856.7,890.8 1857.7,890.7 1858.7,890.6 1859.7,890.6 1860.7,890.5 1861.8,890.5 1862.8,890.4 1863.8,890.3 1864.8,890.3 1865.8,890.2 1866.9,890.2 1867.9,890.1 1868.9,890.1 1869.9,890.0 1870.9,889.9 1872.0,889.9 1873.0,889.8 1874.0,889.8 1875.0,889.7 1876.0,889.7 1877.1,889.6 1878.1,889.5 1879.1,889.5 1880.1,889.4 1881.1,889.4 1882.2,889.3 1883.2,889.2 1884.2,889.2 1885.2,889.1 1886.2,889.1 1887.3,889.0 1888.3,889.0 1889.3,888.9 1890.3,888.9 1891.3,888.8 1892.4,888.8 1893.4,888.7 1894.4,888.7 1895.4,888.7 1896.4,888.6 1897.5,888.6 1898.5,888.6 1899.5,888.6 1900.5,888.5 1901.5,888.5 1902.6,888.5 1903.6,888.5 1904.6,888.5 1905.5,889.1 1905.8,890.1 1906.1,891.1 1906.3,892.1 1906.6,893.2 1906.8,894.2 1907.1,895.3 1907.3,896.4 1907.5,897.4 1907.7,898.4 1907.9,899.5 1908.0,900.6 1908.2,901.7 1908.4,902.7 1908.5,903.8 1908.7,904.8 1908.8,905.8 1909.0,906.9 1909.1,908.0 1909.3,909.0 1909.4,910.1 1909.6,911.1 1909.7,912.2 1909.9,913.2 1910.0,914.2 1910.2,915.4 1910.4,916.5 1910.6,917.6 1910.7,918.7 1911.0,919.8 1911.2,920.9 1911.4,921.9 1911.6,923.0 1911.8,924.0 1912.0,925.0 1912.2,926.0 1912.4,927.0 1912.6,928.0 1912.9,929.1 1913.1,930.2 1913.4,931.3 1913.6,932.4 1913.8,933.4 1914.1,934.4 1914.3,935.4 1914.6,936.4 1914.8,937.5 1915.1,938.5 1915.4,939.5 1915.6,940.5 1915.9,941.6 1916.2,942.6 1916.5,943.6 1916.9,944.6 1917.2,945.6 1917.5,946.6 1917.9,947.5 1918.2,948.5 1918.6,949.5 1918.9,950.5 1919.3,951.5 1919.7,952.4 1920.0,953.4 1920.4,954.4 1920.8,955.3 1921.2,956.3 1921.7,957.3 1922.1,958.2 1922.5,959.2 1923.0,960.1 1923.5,961.0 1924.0,961.9 1924.5,962.8 1925.0,963.6 1925.6,964.5 1926.2,965.3 1926.9,966.1 1927.5,966.9 1928.2,967.7 1928.8,968.4 1929.5,969.2 1930.2,970.0 1930.9,970.7 1931.7,971.5 1932.4,972.2 1933.2,972.8 1933.9,973.5 1934.7,974.2 1935.6,974.7 1936.4,975.3 1937.3,975.8 1938.2,976.3 1939.1,976.7 1940.1,977.0 1941.0,977.3 1942.0,977.6 1943.0,977.9 1944.0,978.1 1944.9,978.4 1945.9,978.7 1946.9,978.9 1947.9,979.2 1948.9,979.4 1949.9,979.6 1950.9,979.8 1951.9,980.0 1952.9,980.2 1953.9,980.4 1954.8,980.6 1955.8,980.8 1956.8,980.9 1957.8,981.1 1958.8,981.2 1959.9,981.4 1960.9,981.5 1961.9,981.6 1962.9,981.7 1963.9,981.8 1965.0,981.8 1966.0,981.9 1967.0,981.9 1968.0,982.0 1969.0,982.0 1970.1,982.0 1970.4,981.1 1970.7,980.0 1970.8,978.9 1971.0,977.9 1971.1,976.7 1971.3,975.7 1971.4,974.6 1971.5,973.5 1971.6,972.4 1971.7,971.3 1971.9,970.1 1972.0,968.9 1972.1,967.7 1972.2,966.6 1972.3,965.4 1972.5,964.3 1972.6,963.3 1972.7,962.3 1972.8,961.1 1973.0,960.0 1973.1,959.0 1973.3,958.0 1973.4,957.0 1973.6,955.8 1973.8,954.7 1974.0,953.5 1974.2,952.4 1974.3,951.2 1974.5,950.1 1974.7,949.0 1974.9,947.9 1975.1,946.7 1975.2,945.6 1975.4,944.5 1975.6,943.4 1975.8,942.4 1976.0,941.3 1976.1,940.2 1976.3,939.1 1976.5,938.0 1976.7,936.9 1976.9,935.8 1977.0,934.7 1977.2,933.6 1977.4,932.4 1977.6,931.3 1977.8,930.1 1977.9,928.9 1978.1,927.9 1978.2,926.9 1978.4,925.9 1978.5,924.9 1978.7,923.9 1978.8,922.9 1979.0,921.9 1979.1,920.9 1979.3,919.9 1979.5,918.7 1979.7,917.6 1979.8,916.4 1980.0,915.3 1980.2,914.2 1980.4,913.1 1980.6,912.1 1980.7,911.0 1980.9,910.1 1981.1,908.9 1981.3,907.9 1981.5,906.9 1981.8,905.9 1982.1,904.8 1982.3,903.7 1982.6,902.7 1982.9,901.7 1983.1,900.7 1983.4,899.7 1983.7,898.7 1983.9,897.7 1984.2,896.6 1984.5,895.6 1984.8,894.6 1985.1,893.6 1985.4,892.7 1985.8,891.6 1986.1,890.7 1986.5,889.6 1986.8,888.7 1987.2,887.7 1987.6,886.7 1988.1,885.8 1988.6,884.9 1989.1,884.0 1989.7,883.2 1990.5,882.6 1991.3,882.0 1992.1,881.4 1993.0,880.8 1993.9,880.3 1994.8,879.8 1995.7,879.4 1996.6,879.0 1997.6,878.7 1998.6,878.4 1999.5,878.1 2000.5,877.9 2001.5,877.6 2002.5,877.4 2003.5,877.2 2004.5,877.0 2005.5,876.7 2006.5,876.5 2007.5,876.3 2008.5,876.2 2009.4,876.0 2010.4,875.8 2011.4,875.6 2012.4,875.5 2013.4,875.3 2014.4,875.1 2015.4,875.0 2016.4,874.9 2017.4,874.7 2018.4,874.6 2019.4,874.4 2020.4,874.3 2021.4,874.2 2022.5,874.0 2023.5,873.9 2024.5,873.8 2025.5,873.7 2026.5,873.6 2027.6,873.5 2028.6,873.3 2029.6,873.2 2030.6,873.1 2031.6,873.0 2032.7,872.9 2033.7,872.8 2034.7,872.7 2035.7,872.6 2036.7,872.5 2037.8,872.4 2038.8,872.3 2039.8,872.2 2040.8,872.1 2041.8,872.0 2042.9,871.8 2043.9,871.7 2044.9,871.6 2045.9,871.5 2046.9,871.4 2048.0,871.3 2049.0,871.1 2050.0,871.0 2051.0,870.9 2052.0,870.7 2053.1,870.6 2054.1,870.5 2055.1,870.3 2056.1,870.2 2057.1,870.1 2058.2,870.0 2059.2,869.8 2060.2,869.7 2061.2,869.6 2062.2,869.4 2063.3,869.3 2064.3,869.2 2065.3,869.1 2066.3,868.9 2067.3,868.8 2068.4,868.7 2069.4,868.6 2070.4,868.4 2071.4,868.3 2072.4,868.2 2073.5,868.1 2074.5,867.9 2075.5,867.8 2076.5,867.7 2077.5,867.6 2078.6,867.5 2079.6,867.3 2080.6,867.2 2081.6,867.1 2082.6,867.0 2083.7,866.8 2084.7,866.7 2085.7,866.6 2086.7,866.5 2087.7,866.4 2088.8,866.3 2089.8,866.1 2090.8,866.0 2091.8,865.9 2092.8,865.8 2093.9,865.7 2094.9,865.6 2095.9,865.4 2096.9,865.3 2097.9,865.2 2099.0,865.1 2100.0,865.0 2101.0,864.9 2102.0,864.8 2103.0,864.6 2104.1,864.5 2105.1,864.4 2106.1,864.3 2107.1,864.2 2108.1,864.1 2109.0,864.0 2110.0,882.0 2110.3,883.1 2110.5,884.2 2110.8,885.2 2111.1,886.3 2111.4,887.4 2111.6,888.5 2111.9,889.5 2112.2,890.6 2112.4,891.6 2112.7,892.7 2113.0,893.7 2113.2,894.8 2113.5,895.8 2113.8,896.8 2114.1,897.8 2114.3,898.8 2114.6,899.9 2114.9,900.9 2115.1,901.8 2115.4,902.8 2115.7,903.8 2115.9,904.8 2116.2,905.8 2116.5,906.7 2116.8,907.7 2117.0,908.7 2117.3,909.6 2117.6,910.6 2117.8,911.6 2118.1,912.5 2118.4,913.5 2118.7,914.6 2119.0,915.6 2119.3,916.7 2119.6,917.7 2119.9,918.8 2120.2,919.8 2120.5,920.9 2120.8,921.9 2121.1,922.9 2121.4,923.9 2121.7,924.9 2122.0,925.9 2122.3,926.8 2122.6,927.8 2122.9,928.8 2123.2,929.9 2123.6,930.9 2123.9,931.8 2124.2,932.8 2124.6,933.8 2124.9,934.8 2125.3,935.8 2125.7,936.8 2126.0,937.8 2126.4,938.7 2126.7,939.7 2127.1,940.6 2127.5,941.6 2127.9,942.6 2128.3,943.6 2128.7,944.5 2129.1,945.5 2129.4,946.4 2129.8,947.4 2130.3,948.3 2130.7,949.3 2131.1,950.3 2131.5,951.2 2132.0,952.1 2132.4,953.1 2132.9,954.0 2133.3,955.0 2133.8,955.9 2134.3,956.8 2134.8,957.7 2135.3,958.5 2135.8,959.4 2136.3,960.3 2136.9,961.2 2137.4,962.1 2137.9,963.0 2138.5,963.8 2139.0,964.7 2139.6,965.6 2140.2,966.4 2140.7,967.3 2141.3,968.1 2142.0,968.9 2142.6,969.7 2143.2,970.5 2143.9,971.2 2144.7,971.9 2145.4,972.6 2146.3,973.2 2147.1,973.7 2148.0,974.3 2148.9,974.8 2149.7,975.4 2150.6,975.9 2151.5,976.4 2152.4,976.9 2153.3,977.3 2154.2,977.8 2155.1,978.2 2156.1,978.6 2157.0,979.0 2157.9,979.3 2158.9,979.7 2159.9,980.0 2160.9,980.2 2161.8,980.5 2162.8,980.7 2163.8,980.8 2164.8,981.0 2165.9,981.1 2166.9,981.2 2167.9,981.3 2168.9,981.4 2169.9,981.5 2171.0,981.6 2172.0,981.6 2173.0,981.7 2174.0,981.8 2175.0,981.8 2176.1,981.9 2177.1,981.9 2178.1,982.0 2179.1,982.0 2180.1,982.0 2181.1,981.6 2181.3,980.4 2181.4,979.3 2181.5,977.9 2181.5,976.8 2181.6,975.7 2181.6,974.5 2181.7,973.1 2181.8,971.8 2181.8,970.3 2181.9,968.8 2181.9,967.3 2182.0,965.7 2182.1,964.1 2182.1,962.4 2182.2,960.7 2182.2,959.1 2182.3,957.4 2182.4,955.7 2182.4,954.0 2182.5,952.4 2182.5,950.8 2182.6,949.2 2182.7,947.6 2182.7,946.1 2182.8,944.7 2182.8,943.3 2182.9,942.0 2183.0,940.8 2183.0,939.6 2183.1,938.5 2183.1,937.4 2183.2,936.2 2183.3,935.1 2183.3,934.0 2183.4,932.9 2183.4,931.7 2183.5,930.6 2183.6,929.5 2183.6,928.4 2183.7,927.2 2183.7,926.1 2183.8,925.0 2183.9,923.9 2183.9,922.8 2184.0,921.7 2184.0,920.6 2184.1,919.5 2184.2,918.4 2184.2,917.3 2184.3,916.2 2184.3,915.2 2184.4,914.1 2184.5,913.0 2184.5,912.0 2184.6,911.0 2184.6,909.9 2184.7,908.9 2184.8,907.9 2184.8,906.9 2184.9,905.4 2185.0,904.0 2185.1,902.6 2185.2,901.2 2185.3,899.8 2185.4,898.5 2185.5,897.2 2185.5,895.9 2185.6,894.7 2185.7,893.5 2185.8,892.3 2185.9,891.2 2186.0,890.1 2186.1,889.1 2186.2,888.0 2186.3,887.0 2186.4,885.9 2186.4,884.9 2186.5,883.8 2186.6,882.8 2186.7,881.7 2186.8,880.7 2186.9,879.7 2187.0,878.7 2187.1,877.6 2187.2,876.6 2187.3,875.3 2187.4,874.0 2187.5,872.7 2187.6,871.5 2187.8,870.2 2187.9,869.0 2188.0,867.9 2188.1,866.7 2188.2,865.6 2188.4,864.6 2188.5,863.6 2188.6,862.3 2188.8,861.2 2188.9,860.1 2189.1,859.1 2189.3,858.0 2189.5,856.9 2189.7,855.9 2190.0,854.9 2190.5,853.9 2190.9,853.0 2191.4,852.0 2191.9,851.1 2192.4,850.3 2193.0,849.4 2193.7,848.7 2194.4,847.9 2195.1,847.3 2195.9,846.6 2196.8,846.1 2197.7,845.6 2198.6,845.2 2199.6,844.8 2200.5,844.4 2201.4,844.1 2202.4,843.8 2203.4,843.5 2204.4,843.2 2205.3,843.0 2206.3,842.7 2207.3,842.5 2208.3,842.3 2209.3,842.1 2210.3,841.9 2211.3,841.8 2212.3,841.6 2213.3,841.4 2214.3,841.2 2215.2,841.1 2216.2,840.9 2217.2,840.8 2218.2,840.6 2219.2,840.5 2220.2,840.3 2221.2,840.2 2222.2,840.0 2223.2,839.9 2224.2,839.7 2225.3,839.6 2226.3,839.5 2227.3,839.4 2228.3,839.2 2229.3,839.1 2230.4,839.0 2231.4,838.9 2232.4,838.8 2233.4,838.6 2234.4,838.5 2235.5,838.4 2236.5,838.3 2237.5,838.2 2238.5,838.1 2239.5,838.0 2240.6,837.9 2241.6,837.8 2242.6,837.7 2243.6,837.6 2244.6,837.5 2245.7,837.4 2246.7,837.3 2247.7,837.2 2248.7,837.1 2249.7,837.0 2250.8,836.9 2251.8,836.8 2252.8,836.7 2253.8,836.6 2254.8,836.5 2255.9,836.4 2256.9,836.3 2257.9,836.2 2258.9,836.1 2259.9,836.0 2261.0,835.9 2262.0,835.8 2263.0,835.7 2264.0,835.6 2265.0,835.5 2266.1,835.4 2267.1,835.3 2268.1,835.2 2269.1,835.1 2270.1,835.0 2271.2,834.9 2272.2,834.8 2273.2,834.7 2274.2,834.6 2275.2,834.5 2276.3,834.3 2277.3,834.2 2278.3,834.1 2279.3,834.0 2280.3,834.0 2281.4,833.9 2282.4,833.8 2283.4,833.7 2284.4,833.6 2285.4,833.5 2286.5,833.4 2287.5,833.3 2288.5,833.2 2289.5,833.1 2290.5,833.0 2291.6,832.9 2292.6,832.8 2293.6,832.7 2294.6,832.6 2295.6,832.5 2296.7,832.4 2297.7,832.3 2298.7,832.2 2299.7,832.1 2300.7,832.1 2301.8,832.0 2302.8,831.9 2303.8,831.8 2304.8,831.7 2305.8,831.6 2306.9,831.5 2307.9,831.4 2308.9,831.4 2309.9,831.3 2310.9,831.2 2312.0,831.1 2313.0,831.0 2314.0,830.9 2315.0,830.9 2316.0,830.8 2317.1,830.7 2318.1,830.6 2319.1,830.5 2320.1,830.4 2321.1,830.4 2322.2,830.3 2323.2,830.2 2324.2,830.1 2325.2,830.1 2326.0,830.0 2328.0,889.0 2328.3,890.0 2328.5,891.1 2328.8,892.1 2329.1,893.2 2329.4,894.2 2329.6,895.2 2329.9,896.3 2330.2,897.3 2330.4,898.3 2330.7,899.3 2331.0,900.3 2331.2,901.3 2331.5,902.4 2331.8,903.4 2332.1,904.4 2332.3,905.3 2332.6,906.3 2332.9,907.3 2333.1,908.3 2333.4,909.3 2333.7,910.3 2333.9,911.2 2334.2,912.2 2334.5,913.3 2334.8,914.3 2335.1,915.4 2335.4,916.4 2335.7,917.5 2336.0,918.5 2336.3,919.6 2336.6,920.6 2336.9,921.7 2337.2,922.7 2337.5,923.7 2337.8,924.8 2338.1,925.8 2338.4,926.8 2338.7,927.8 2339.0,928.8 2339.3,929.9 2339.6,930.9 2339.9,931.9 2340.2,932.9 2340.5,933.9 2340.8,934.8 2341.1,935.8 2341.4,936.8 2341.7,937.8 2342.0,938.7 2342.3,939.7 2342.6,940.6 2342.9,941.7 2343.3,942.7 2343.6,943.8 2343.9,944.8 2344.3,945.8 2344.6,946.8 2344.9,947.9 2345.2,948.9 2345.5,949.8 2345.8,950.8 2346.1,951.8 2346.4,952.7 2346.7,953.7 2347.0,954.7 2347.3,955.6 2347.7,956.7 2348.0,957.7 2348.3,958.7 2348.6,959.7 2349.0,960.7 2349.3,961.7 2349.7,962.7 2350.1,963.6 2350.4,964.6 2350.8,965.6 2351.3,966.5 2351.7,967.4 2352.2,968.3 2352.7,969.2 2353.2,970.2 2353.7,971.0 2354.2,971.9 2354.8,972.8 2355.3,973.7 2355.8,974.5 2356.4,975.4 2357.0,976.3 2357.6,977.1 2358.2,977.8 2358.9,978.6 2359.6,979.3 2360.4,980.0 2361.2,980.6 2362.0,981.0" fill="none" stroke="#ee18ee" stroke-width="2" stroke-linejoin="round" marker-start="url(#mM)" marker-mid="url(#mM)" marker-end="url(#mM)"/>
<polyline points="1421.3,983.3 1422.3,983.3 1423.3,983.3 1424.4,983.2 1425.4,983.2 1426.4,983.1 1427.4,983.0 1428.4,982.9 1429.4,982.6 1430.2,982.0 1431.0,981.3 1431.7,980.6 1432.4,979.8 1433.0,979.0 1433.7,978.2 1434.3,977.4 1434.9,976.5 1435.5,975.7 1436.1,974.8 1436.7,974.0 1437.3,973.2 1437.9,972.3 1438.5,971.5 1439.2,970.7 1440.0,970.0 1440.7,969.4 1441.5,968.7 1442.2,968.0 1443.0,967.3 1443.8,966.7 1444.6,966.0 1445.4,965.3 1446.1,964.7 1446.9,964.0 1447.7,963.4 1448.5,962.8 1449.3,962.1 1450.1,961.5 1450.9,960.9 1451.7,960.3 1452.6,959.7 1453.4,959.1 1454.3,958.5 1455.1,958.0 1455.9,957.4 1456.8,956.9 1457.7,956.3 1458.6,955.8 1459.4,955.3 1460.3,954.8 1461.2,954.3 1462.1,953.9 1463.0,953.5 1464.0,953.0 1464.9,952.6 1465.8,952.2 1466.7,951.8 1467.7,951.4 1468.6,951.0 1469.5,950.6 1470.5,950.3 1471.4,949.9 1472.3,949.5 1473.3,949.1 1474.2,948.8 1475.1,948.4 1476.0,948.0 1477.0,947.6 1477.9,947.2 1478.8,946.8 1479.8,946.4 1480.7,946.0 1481.6,945.6 1482.6,945.2 1483.5,944.8 1484.4,944.4 1485.3,944.0 1486.3,943.6 1487.2,943.2 1488.1,942.8 1489.1,942.4 1490.0,942.0 1490.9,941.6 1491.9,941.2 1492.8,940.8 1493.7,940.5 1494.6,940.1 1495.6,939.7 1496.5,939.3 1497.5,938.9 1498.5,938.6 1499.4,938.2 1500.4,937.9 1501.3,937.5 1502.3,937.2 1503.3,936.8 1504.2,936.5 1505.2,936.1 1506.1,935.8 1507.1,935.5 1508.1,935.1 1509.0,934.8 1510.0,934.5 1510.9,934.1 1511.9,933.8 1512.9,933.5 1513.8,933.2 1514.8,932.9 1515.7,932.6 1516.7,932.3 1517.7,931.9 1518.6,931.6 1519.6,931.3 1520.5,931.0 1521.5,930.7 1522.5,930.4 1523.4,930.1 1524.4,929.8 1525.3,929.5 1526.3,929.2 1527.3,928.9 1528.2,928.6 1529.2,928.3 1530.1,928.0 1531.1,927.6 1532.1,927.3 1533.0,927.0 1534.0,926.7 1534.9,926.4 1535.9,926.1 1536.9,925.8 1537.8,925.5 1538.8,925.2 1539.7,924.9 1540.7,924.6 1541.7,924.3 1542.6,924.0 1543.6,923.7 1544.5,923.4 1545.5,923.1 1546.5,922.8 1547.4,922.5 1548.4,922.2 1549.3,921.9 1550.3,921.7 1551.3,921.4 1552.2,921.1 1553.2,920.8 1554.2,920.5 1555.2,920.2 1556.2,919.9 1557.2,919.7 1558.2,919.4 1559.1,919.1 1560.1,918.9 1561.1,918.6 1562.1,918.4 1563.1,918.1 1563.5,918.0 1565.0,945.0 1565.2,946.0 1565.5,947.0 1565.7,948.0 1566.0,949.0 1566.2,950.0 1566.4,951.0 1566.7,952.1 1567.0,953.1 1567.2,954.2 1567.5,955.2 1567.8,956.2 1568.1,957.2 1568.4,958.3 1568.8,959.3 1569.1,960.2 1569.6,961.2 1570.0,962.1 1570.6,962.9 1571.1,963.8 1571.7,964.6 1572.4,965.4 1573.0,966.2 1573.7,967.0 1574.4,967.7 1575.2,968.4 1576.0,969.1 1576.8,969.7 1577.6,970.3 1578.4,970.9 1579.2,971.5 1580.1,972.1 1580.9,972.6 1581.8,973.2 1582.7,973.7 1583.5,974.2 1584.4,974.7 1585.3,975.2 1586.2,975.6 1587.2,976.0 1588.1,976.5 1589.0,976.9 1590.0,977.2 1590.9,977.6 1591.9,978.0 1592.8,978.3 1593.8,978.7 1594.8,979.0 1595.7,979.4 1596.7,979.7 1597.6,980.0 1598.6,980.3 1599.6,980.6 1600.6,980.8 1601.6,980.9 1602.6,981.0 1603.4,980.3 1603.6,979.2 1603.8,978.1 1603.9,977.1 1604.1,975.9 1604.2,974.9 1604.3,973.8 1604.4,972.7 1604.6,971.6 1604.7,970.5 1604.8,969.3 1604.9,968.2 1605.0,967.1 1605.2,966.0 1605.3,964.9 1605.4,963.9 1605.6,962.7 1605.7,961.7 1605.9,960.6 1606.1,959.5 1606.3,958.4 1606.6,957.4 1606.8,956.3 1607.1,955.3 1607.3,954.4 1607.6,953.3 1607.8,952.3 1608.1,951.3 1608.4,950.2 1608.7,949.2 1609.0,948.2 1609.3,947.1 1609.7,946.1 1610.0,945.2 1610.4,944.2 1610.7,943.2 1611.1,942.2 1611.5,941.3 1611.9,940.3 1612.3,939.4 1612.7,938.4 1613.1,937.5 1613.5,936.6 1614.0,935.6 1614.4,934.7 1614.9,933.8 1615.4,932.8 1615.8,931.9 1616.3,931.0 1616.8,930.1 1617.3,929.2 1617.9,928.3 1618.4,927.4 1618.9,926.5 1619.5,925.7 1620.0,924.8 1620.6,924.0 1621.2,923.1 1621.8,922.3 1622.4,921.4 1623.0,920.6 1623.6,919.8 1624.2,919.0 1624.9,918.2 1625.5,917.4 1626.1,916.6 1626.8,915.8 1627.5,915.0 1628.1,914.2 1628.8,913.4 1629.4,912.6 1630.1,911.9 1630.8,911.1 1631.5,910.4 1632.2,909.6 1632.9,908.9 1633.6,908.2 1634.4,907.5 1635.1,906.8 1635.9,906.1 1636.7,905.4 1637.4,904.8 1638.3,904.2 1639.1,903.6 1639.9,903.0 1640.8,902.5 1641.7,902.0 1642.5,901.4 1643.4,900.9 1644.3,900.4 1645.2,899.9 1646.1,899.5 1647.0,899.0 1647.9,898.5 1648.8,898.1 1649.7,897.7 1650.7,897.2 1651.6,896.8 1652.5,896.4 1653.5,896.0 1654.4,895.6 1655.3,895.2 1656.3,894.9 1657.2,894.5 1658.2,894.1 1659.1,893.8 1660.1,893.4 1661.1,893.1 1662.0,892.7 1663.0,892.4 1663.9,892.1 1664.9,891.7 1665.9,891.4 1666.8,891.1 1667.8,890.7 1668.7,890.4 1669.7,890.1 1670.7,889.8 1671.6,889.5 1672.6,889.1 1673.5,888.8 1674.5,888.5 1675.5,888.2 1676.4,887.9 1677.4,887.6 1678.3,887.3 1679.3,887.0 1680.3,886.8 1681.2,886.5 1682.2,886.2 1683.2,885.9 1684.2,885.6 1685.2,885.4 1686.2,885.1 1687.2,884.8 1688.1,884.6 1689.1,884.3 1690.1,884.1 1691.1,883.9 1692.1,883.6 1693.1,883.4 1694.1,883.2 1695.1,883.0 1696.1,882.8 1697.1,882.6 1698.0,882.4 1699.0,882.2 1700.0,882.0 1701.0,881.8 1702.0,881.6 1703.0,881.5 1704.0,881.3 1705.0,881.1 1706.0,881.0 1707.0,880.8 1707.9,880.6 1708.9,880.5 1709.9,880.3 1710.9,880.2 1711.9,880.0 1712.9,879.8 1713.9,879.7 1714.9,879.6 1715.9,879.4 1716.9,879.3 1717.9,879.1 1718.9,879.0 1719.9,878.9 1721.0,878.7 1722.0,878.6 1723.0,878.5 1724.0,878.4 1725.0,878.3 1726.1,878.2 1727.1,878.1 1728.1,878.0 1729.1,877.9 1730.1,877.8 1731.2,877.7 1732.2,877.6 1733.2,877.6 1734.0,877.5 1735.5,915.0 1735.7,916.1 1735.9,917.2 1736.1,918.3 1736.3,919.4 1736.5,920.4 1736.8,921.5 1737.0,922.5 1737.2,923.6 1737.4,924.6 1737.6,925.6 1737.8,926.6 1738.0,927.7 1738.3,928.7 1738.5,929.7 1738.8,930.7 1739.0,931.8 1739.3,932.8 1739.6,933.8 1739.9,934.8 1740.3,935.8 1740.6,936.8 1741.0,937.7 1741.3,938.7 1741.7,939.7 1742.1,940.6 1742.5,941.6 1743.0,942.5 1743.4,943.5 1743.8,944.4 1744.3,945.3 1744.8,946.2 1745.2,947.2 1745.8,948.1 1746.3,949.0 1746.8,949.9 1747.3,950.8 1747.9,951.6 1748.4,952.5 1748.9,953.4 1749.5,954.2 1750.1,955.1 1750.6,956.0 1751.2,956.9 1751.8,957.7 1752.4,958.5 1753.0,959.4 1753.6,960.2 1754.2,961.0 1754.8,961.8 1755.4,962.7 1756.0,963.5 1756.6,964.3 1757.3,965.1 1758.0,965.8 1758.7,966.6 1759.3,967.4 1760.0,968.1 1760.8,968.8 1761.5,969.5 1762.2,970.2 1763.0,970.9 1763.7,971.6 1764.5,972.2 1765.3,972.9 1766.1,973.6 1766.8,974.2 1767.7,974.8 1768.5,975.5 1769.3,976.1 1770.1,976.7 1771.0,977.2 1771.8,977.8 1772.7,978.3 1773.6,978.8 1774.5,979.3 1775.4,979.7 1776.0,980.0 1778.0,940.0 1778.1,939.0 1778.2,937.9 1778.3,936.9 1778.4,935.8 1778.4,934.8 1778.5,933.8 1778.6,932.7 1778.7,931.7 1778.8,930.7 1778.9,929.7 1779.0,928.7 1779.1,927.7 1779.2,926.4 1779.3,925.1 1779.4,923.8 1779.6,922.5 1779.7,921.2 1779.8,920.0 1779.9,918.7 1780.0,917.5 1780.2,916.3 1780.3,915.1 1780.4,913.9 1780.5,912.8 1780.6,911.6 1780.8,910.5 1780.9,909.4 1781.0,908.3 1781.1,907.2 1781.2,906.2 1781.4,905.1 1781.5,904.1 1781.6,902.9 1781.8,901.7 1781.9,900.5 1782.1,899.4 1782.2,898.3 1782.4,897.2 1782.5,896.1 1782.7,895.0 1782.8,893.9 1783.0,892.9 1783.1,891.8 1783.3,890.8 1783.4,889.8 1783.6,888.8 1783.7,887.8 1783.9,886.6 1784.1,885.4 1784.3,884.3 1784.4,883.1 1784.6,882.0 1784.8,880.9 1785.0,879.9 1785.2,878.8 1785.3,877.8 1785.5,876.8 1785.7,875.8 1785.9,874.7 1786.1,873.5 1786.3,872.5 1786.5,871.4 1786.8,870.4 1787.0,869.4 1787.2,868.3 1787.4,867.3 1787.7,866.3 1787.9,865.3 1788.2,864.2 1788.5,863.2 1788.8,862.2 1789.1,861.2 1789.4,860.2 1789.7,859.2 1790.1,858.3 1790.4,857.3 1790.8,856.3 1791.1,855.3 1791.5,854.3 1791.9,853.4 1792.2,852.3 1792.5,851.4 1792.9,850.4 1793.2,849.4 1793.5,848.4 1793.8,847.4 1794.1,846.4 1794.4,845.3 1794.6,844.3 1794.9,843.3 1795.2,842.3 1795.5,841.3 1795.7,840.3 1796.0,839.3 1796.3,838.3 1796.5,837.3 1796.8,836.3 1797.1,835.3 1797.3,834.4 1797.6,833.3 1797.9,832.2 1798.2,831.2 1798.5,830.2 1798.8,829.3 1799.2,828.3 1799.5,827.3 1799.9,826.3 1800.3,825.3 1800.6,824.4 1801.0,823.4 1801.4,822.4 1801.8,821.5 1802.2,820.6 1802.6,819.6 1803.0,818.6 1803.5,817.7 1803.9,816.8 1804.3,815.8 1804.8,814.9 1805.2,813.9 1805.7,813.0 1806.2,812.1 1806.7,811.2 1807.2,810.3 1807.7,809.4 1808.2,808.5 1808.8,807.7 1809.4,806.8 1810.0,806.0 1810.6,805.2 1811.2,804.4 1811.9,803.6 1812.6,802.9 1813.2,802.1 1813.9,801.3 1814.6,800.6 1815.3,799.9 1816.1,799.1 1816.8,798.4 1817.6,797.7 1818.3,797.1 1819.1,796.4 1819.9,795.7 1820.7,795.1 1821.5,794.5 1822.3,793.9 1823.1,793.3 1824.0,792.7 1824.8,792.1 1825.7,791.6 1826.5,791.0 1827.3,790.5 1828.2,789.9 1829.1,789.4 1829.9,788.8 1830.8,788.3 1831.7,787.7 1832.5,787.2 1833.4,786.7 1834.3,786.2 1835.2,785.7 1836.1,785.3 1837.0,784.8 1837.9,784.4 1838.9,784.0 1839.8,783.6 1840.8,783.2 1841.7,782.9 1842.7,782.6 1843.7,782.3 1844.7,782.1 1845.6,781.9 1846.6,781.7 1847.6,781.5 1848.6,781.3 1849.6,781.2 1850.6,781.0 1851.6,780.9 1852.6,780.7 1853.6,780.6 1854.6,780.4 1855.6,780.3 1856.6,780.2 1857.6,780.0 1858.7,779.9 1859.7,779.8 1860.7,779.7 1861.7,779.6 1862.7,779.5 1863.8,779.4 1864.8,779.3 1865.8,779.2 1866.8,779.1 1867.8,779.0 1868.9,778.9 1869.9,778.8 1870.9,778.7 1871.9,778.6 1872.9,778.6 1874.0,778.5 1875.0,778.4 1876.0,778.3 1877.0,778.2 1878.0,778.2 1879.1,778.1 1880.1,778.0 1881.1,777.9 1882.1,777.8 1883.1,777.8 1884.2,777.7 1885.2,777.6 1886.2,777.5 1887.2,777.4 1888.2,777.4 1889.3,777.3 1890.3,777.2 1891.3,777.1 1892.3,777.1 1893.3,777.0 1894.4,776.9 1895.4,776.9 1896.4,776.8 1897.4,776.7 1898.4,776.7 1899.5,776.6 1900.5,776.6 1901.5,776.5 1902.5,776.4 1903.5,776.4 1904.6,776.3 1905.6,776.3 1906.6,776.2 1907.6,776.2 1908.6,776.1 1909.7,776.1 1910.7,776.1 1911.7,776.0 1912.0,776.0 1913.5,858.0 1913.6,859.3 1913.7,860.7 1913.8,862.0 1913.9,863.3 1913.9,864.6 1914.0,865.9 1914.1,867.2 1914.2,868.4 1914.3,869.7 1914.4,870.9 1914.5,872.2 1914.6,873.4 1914.7,874.6 1914.8,875.8 1914.8,876.9 1914.9,878.1 1915.0,879.2 1915.1,880.3 1915.2,881.4 1915.3,882.5 1915.4,883.5 1915.5,884.5 1915.6,885.5 1915.7,886.8 1915.8,888.1 1915.9,889.3 1916.0,890.5 1916.2,891.6 1916.3,892.7 1916.4,893.9 1916.5,894.9 1916.6,896.0 1916.8,897.1 1916.9,898.1 1917.0,899.2 1917.1,900.2 1917.2,901.2 1917.4,902.4 1917.5,903.6 1917.7,904.8 1917.8,905.9 1918.0,907.0 1918.1,908.1 1918.3,909.2 1918.4,910.3 1918.6,911.3 1918.7,912.3 1918.9,913.3 1919.1,914.5 1919.3,915.6 1919.4,916.7 1919.6,917.8 1919.8,918.9 1920.0,919.9 1920.2,920.9 1920.3,921.9 1920.5,922.9 1920.7,924.0 1920.9,925.1 1921.1,926.2 1921.4,927.3 1921.6,928.4 1921.8,929.5 1922.0,930.5 1922.2,931.6 1922.4,932.6 1922.6,933.6 1922.8,934.6 1923.1,935.7 1923.3,936.8 1923.5,937.8 1923.8,938.9 1924.0,939.9 1924.3,940.9 1924.5,941.9 1924.8,943.0 1925.1,944.0 1925.3,944.9 1925.6,946.0 1925.9,947.0 1926.3,948.0 1926.6,948.9 1927.0,949.9 1927.4,950.9 1927.7,951.9 1928.1,952.9 1928.5,953.8 1928.9,954.8 1929.4,955.7 1929.8,956.6 1930.2,957.6 1930.7,958.5 1931.2,959.4 1931.6,960.3 1932.2,961.3 1932.7,962.1 1933.2,963.0 1933.7,963.9 1934.3,964.7 1934.9,965.5 1935.5,966.4 1936.2,967.1 1936.9,967.9 1937.6,968.6 1938.4,969.3 1939.1,970.0 1939.9,970.6 1940.7,971.3 1941.5,971.9 1942.4,972.5 1943.2,973.0 1944.1,973.6 1944.9,974.1 1945.8,974.6 1946.7,975.1 1947.6,975.6 1948.5,976.1 1949.4,976.6 1950.2,977.1 1951.1,977.6 1952.0,978.1 1952.9,978.6 1953.8,979.1 1954.7,979.5 1955.7,980.0 1956.6,980.4 1957.5,980.8 1958.0,981.0 1959.5,905.0 1959.7,904.0 1959.9,903.0 1960.1,902.0 1960.3,901.0 1960.5,900.1 1960.8,899.1 1961.0,898.1 1961.2,897.0 1961.4,895.9 1961.7,894.8 1961.9,893.6 1962.2,892.6 1962.4,891.5 1962.6,890.4 1962.9,889.3 1963.1,888.2 1963.4,887.1 1963.6,886.1 1963.8,885.0 1964.1,883.9 1964.3,882.9 1964.6,881.9 1964.8,880.8 1965.0,879.8 1965.3,878.8 1965.5,877.8 1965.8,876.7 1966.0,875.8 1966.2,874.8 1966.5,873.8 1966.7,872.8 1967.0,871.7 1967.3,870.6 1967.5,869.6 1967.8,868.5 1968.1,867.4 1968.3,866.4 1968.6,865.3 1968.9,864.2 1969.2,863.2 1969.4,862.1 1969.7,861.1 1970.0,860.1 1970.2,859.0 1970.5,858.0 1970.8,856.9 1971.0,855.9 1971.3,854.8 1971.6,853.8 1971.9,852.7 1972.1,851.7 1972.4,850.6 1972.7,849.5 1972.9,848.5 1973.2,847.4 1973.5,846.3 1973.7,845.3 1974.0,844.3 1974.2,843.3 1974.4,842.3 1974.7,841.3 1974.9,840.3 1975.2,839.3 1975.4,838.3 1975.6,837.2 1975.9,836.2 1976.1,835.1 1976.4,834.0 1976.6,832.9 1976.8,831.9 1977.1,830.7 1977.3,829.6 1977.5,828.7 1977.7,827.7 1977.9,826.7 1978.2,825.7 1978.4,824.7 1978.6,823.7 1978.8,822.7 1979.0,821.7 1979.2,820.7 1979.4,819.7 1979.6,818.7 1979.8,817.7 1980.0,816.7 1980.3,815.7 1980.5,814.7 1980.7,813.8 1980.9,812.8 1981.1,811.8 1981.3,810.7 1981.6,809.6 1981.8,808.5 1982.1,807.4 1982.3,806.3 1982.5,805.2 1982.8,804.2 1983.0,803.1 1983.3,802.1 1983.5,801.1 1983.7,800.0 1984.0,799.0 1984.2,798.1 1984.5,797.0 1984.8,795.9 1985.0,794.9 1985.3,793.8 1985.6,792.8 1985.8,791.7 1986.1,790.7 1986.4,789.6 1986.6,788.5 1986.9,787.5 1987.1,786.5 1987.4,785.6 1987.6,784.6 1987.8,783.6 1988.1,782.5 1988.4,781.4 1988.7,780.4 1988.9,779.3 1989.2,778.2 1989.5,777.2 1989.7,776.2 1990.0,775.2 1990.3,774.2 1990.5,773.2 1990.8,772.1 1991.1,771.1 1991.4,770.1 1991.8,769.1 1992.1,768.1 1992.5,767.1 1992.8,766.1 1993.2,765.2 1993.6,764.2 1994.1,763.3 1994.7,762.4 1995.3,761.6 1996.0,760.9 1996.7,760.1 1997.4,759.4 1998.2,758.7 1999.0,758.1 1999.8,757.4 2000.6,756.8 2001.4,756.2 2002.2,755.7 2003.1,755.1 2004.0,754.6 2004.9,754.2 2005.8,753.7 2006.7,753.3 2007.7,752.9 2008.6,752.5 2009.6,752.2 2010.5,751.8 2011.5,751.5 2012.4,751.1 2013.4,750.8 2014.4,750.5 2015.3,750.2 2016.3,749.9 2017.3,749.7 2018.3,749.4 2019.3,749.1 2020.2,748.9 2021.2,748.6 2022.2,748.4 2023.2,748.1 2024.2,747.9 2025.2,747.7 2026.2,747.5 2027.2,747.3 2028.2,747.1 2029.2,746.9 2030.1,746.7 2031.1,746.5 2032.1,746.3 2033.1,746.2 2034.1,746.0 2035.1,745.8 2036.1,745.7 2037.1,745.5 2038.1,745.3 2039.1,745.2 2040.0,745.0 2041.0,744.8 2042.0,744.7 2043.0,744.5 2044.0,744.4 2045.0,744.2 2046.0,744.1 2047.0,743.9 2048.0,743.8 2049.0,743.7 2050.1,743.5 2051.1,743.4 2052.1,743.3 2053.1,743.1 2054.1,743.0 2055.2,742.9 2056.2,742.8 2057.2,742.7 2058.2,742.5 2059.2,742.4 2060.3,742.3 2061.3,742.2 2062.3,742.1 2063.3,742.0 2064.4,741.8 2065.4,741.7 2066.4,741.6 2067.4,741.5 2068.4,741.4 2069.5,741.3 2070.5,741.2 2071.5,741.0 2072.5,740.9 2073.5,740.8 2074.6,740.7 2075.6,740.6 2076.6,740.4 2077.6,740.3 2078.6,740.2 2079.7,740.0 2080.7,739.9 2081.7,739.8 2082.7,739.6 2083.7,739.5 2084.8,739.4 2085.8,739.2 2086.8,739.1 2087.8,739.0 2088.8,738.8 2089.9,738.7 2090.9,738.5 2091.9,738.4 2092.9,738.3 2093.9,738.1 2095.0,738.0 2096.0,737.8 2097.0,737.7 2098.0,737.6 2099.0,737.4 2100.1,737.3 2101.1,737.1 2102.1,737.0 2103.1,736.8 2104.1,736.7 2105.2,736.6 2106.2,736.4 2107.2,736.3 2108.2,736.1 2109.2,736.0 2110.2,735.8 2111.2,735.7 2112.1,735.6 2113.1,735.4 2114.1,735.3 2115.1,735.1 2116.0,735.0 2117.5,827.0 2117.6,828.3 2117.7,829.6 2117.9,830.9 2118.0,832.1 2118.1,833.4 2118.2,834.7 2118.3,835.9 2118.5,837.2 2118.6,838.4 2118.7,839.6 2118.8,840.9 2118.9,842.1 2119.1,843.3 2119.2,844.5 2119.3,845.7 2119.4,846.9 2119.5,848.1 2119.7,849.2 2119.8,850.4 2119.9,851.6 2120.0,852.7 2120.1,853.8 2120.3,855.0 2120.4,856.1 2120.5,857.2 2120.6,858.3 2120.7,859.3 2120.9,860.4 2121.0,861.5 2121.1,862.5 2121.2,863.6 2121.3,864.6 2121.5,865.6 2121.6,866.6 2121.7,867.8 2121.9,869.0 2122.0,870.2 2122.2,871.4 2122.3,872.6 2122.5,873.8 2122.6,874.9 2122.8,876.1 2122.9,877.3 2123.1,878.4 2123.2,879.5 2123.4,880.7 2123.5,881.8 2123.7,882.9 2123.8,884.0 2124.0,885.1 2124.1,886.2 2124.3,887.3 2124.4,888.3 2124.6,889.4 2124.7,890.4 2124.9,891.5 2125.0,892.5 2125.2,893.5 2125.3,894.5 2125.5,895.7 2125.7,896.9 2125.9,898.0 2126.1,899.1 2126.2,900.2 2126.4,901.3 2126.6,902.4 2126.8,903.5 2127.0,904.5 2127.1,905.5 2127.3,906.6 2127.6,907.7 2127.8,908.8 2128.0,909.9 2128.2,910.9 2128.4,911.9 2128.6,912.9 2128.8,913.9 2129.1,915.0 2129.3,916.1 2129.5,917.1 2129.8,918.2 2130.0,919.3 2130.3,920.3 2130.5,921.3 2130.7,922.3 2131.0,923.3 2131.2,924.4 2131.5,925.5 2131.8,926.5 2132.1,927.5 2132.3,928.5 2132.6,929.5 2132.9,930.6 2133.2,931.6 2133.5,932.6 2133.8,933.6 2134.1,934.6 2134.4,935.6 2134.8,936.6 2135.1,937.5 2135.4,938.5 2135.8,939.5 2136.2,940.5 2136.6,941.4 2137.0,942.4 2137.4,943.4 2137.8,944.3 2138.2,945.2 2138.7,946.1 2139.1,947.1 2139.6,948.0 2140.0,948.9 2140.5,949.8 2141.0,950.8 2141.4,951.6 2142.0,952.6 2142.5,953.4 2143.0,954.3 2143.5,955.2 2144.1,956.1 2144.6,956.9 2145.2,957.8 2145.7,958.7 2146.3,959.5 2146.9,960.4 2147.4,961.2 2148.0,962.1 2148.6,962.9 2149.2,963.8 2149.8,964.6 2150.4,965.4 2151.0,966.3 2151.6,967.1 2152.3,967.9 2152.9,968.7 2153.5,969.5 2154.2,970.3 2154.9,971.1 2155.5,971.9 2156.2,972.6 2156.9,973.4 2157.6,974.1 2158.4,974.7 2159.2,975.4 2160.0,976.0 2160.8,976.6 2161.7,977.1 2162.5,977.7 2163.4,978.2 2164.3,978.7 2165.2,979.2 2166.1,979.7 2167.0,980.1 2168.0,980.4 2168.9,980.7 2169.9,981.0 2170.0,981.0 2171.5,893.0 2171.7,891.9 2171.8,890.7 2172.0,889.6 2172.1,888.4 2172.3,887.3 2172.4,886.2 2172.6,885.0 2172.7,883.9 2172.9,882.8 2173.0,881.6 2173.2,880.5 2173.3,879.4 2173.5,878.3 2173.6,877.1 2173.8,876.0 2173.9,874.9 2174.1,873.8 2174.2,872.6 2174.4,871.5 2174.5,870.4 2174.7,869.3 2174.8,868.1 2175.0,867.0 2175.1,865.9 2175.3,864.8 2175.4,863.7 2175.6,862.6 2175.7,861.5 2175.9,860.3 2176.0,859.2 2176.2,858.1 2176.3,857.0 2176.5,855.9 2176.6,854.8 2176.8,853.7 2176.9,852.6 2177.1,851.5 2177.2,850.4 2177.4,849.3 2177.5,848.2 2177.7,847.1 2177.8,846.0 2178.0,844.9 2178.1,843.8 2178.3,842.7 2178.4,841.6 2178.6,840.5 2178.7,839.4 2178.9,838.3 2179.0,837.2 2179.2,836.1 2179.3,835.1 2179.5,834.0 2179.6,832.9 2179.8,831.8 2179.9,830.7 2180.1,829.6 2180.2,828.6 2180.4,827.5 2180.5,826.4 2180.7,825.3 2180.8,824.2 2181.0,823.1 2181.1,822.0 2181.3,820.8 2181.4,819.7 2181.6,818.6 2181.7,817.5 2181.9,816.4 2182.0,815.2 2182.2,814.1 2182.3,813.0 2182.5,811.9 2182.6,810.7 2182.8,809.6 2182.9,808.5 2183.1,807.4 2183.2,806.2 2183.4,805.1 2183.5,804.0 2183.7,802.9 2183.8,801.7 2184.0,800.6 2184.1,799.5 2184.3,798.4 2184.4,797.3 2184.6,796.2 2184.7,795.0 2184.9,793.9 2185.0,792.8 2185.2,791.7 2185.3,790.7 2185.5,789.6 2185.6,788.5 2185.8,787.4 2185.9,786.3 2186.1,785.3 2186.2,784.2 2186.4,783.1 2186.5,782.1 2186.7,781.0 2186.8,780.0 2187.0,779.0 2187.1,778.0 2187.3,776.9 2187.4,775.9 2187.6,774.9 2187.7,773.9 2187.9,772.8 2188.1,771.6 2188.2,770.4 2188.4,769.3 2188.6,768.2 2188.8,767.1 2189.0,766.0 2189.1,764.9 2189.3,763.9 2189.5,762.8 2189.7,761.8 2189.9,760.8 2190.0,759.8 2190.2,758.8 2190.4,757.6 2190.6,756.5 2190.9,755.4 2191.1,754.2 2191.3,753.1 2191.5,752.0 2191.7,750.8 2191.9,749.7 2192.1,748.6 2192.3,747.5 2192.5,746.4 2192.7,745.3 2193.0,744.2 2193.2,743.2 2193.4,742.1 2193.6,741.0 2193.8,740.0 2194.0,738.9 2194.2,737.9 2194.4,736.9 2194.6,735.9 2194.8,734.9 2195.1,733.9 2195.3,732.8 2195.5,731.7 2195.8,730.6 2196.0,729.5 2196.3,728.5 2196.5,727.5 2196.7,726.4 2197.0,725.5 2197.2,724.4 2197.5,723.3 2197.8,722.3 2198.1,721.3 2198.3,720.3 2198.6,719.3 2198.9,718.3 2199.2,717.3 2199.6,716.3 2199.9,715.3 2200.2,714.3 2200.6,713.4 2201.0,712.4 2201.3,711.4 2201.7,710.5 2202.0,709.5 2202.4,708.5 2202.8,707.6 2203.2,706.6 2203.6,705.7 2204.0,704.7 2204.4,703.8 2204.9,702.9 2205.3,701.9 2205.8,701.0 2206.2,700.1 2206.8,699.2 2207.3,698.3 2207.9,697.4 2208.5,696.6 2209.1,695.8 2209.8,695.1 2210.6,694.5 2211.4,693.9 2212.2,693.3 2213.1,692.7 2213.9,692.1 2214.7,691.5 2215.6,691.0 2216.4,690.4 2217.3,689.9 2218.2,689.4 2219.1,688.9 2220.0,688.5 2220.9,688.0 2221.8,687.6 2222.8,687.2 2223.7,686.8 2224.7,686.4 2225.6,686.1 2226.6,685.8 2227.5,685.5 2228.5,685.2 2229.5,684.9 2230.5,684.7 2231.5,684.5 2232.5,684.3 2233.5,684.1 2234.5,683.9 2235.5,683.8 2236.5,683.6 2237.4,683.5 2238.5,683.3 2239.5,683.2 2240.5,683.1 2241.5,682.9 2242.5,682.8 2243.6,682.7 2244.6,682.6 2245.6,682.5 2246.6,682.4 2247.6,682.2 2248.7,682.1 2249.7,682.0 2250.7,681.9 2251.7,681.9 2252.7,681.8 2253.8,681.7 2254.8,681.6 2255.8,681.5 2256.8,681.4 2257.8,681.3 2258.9,681.3 2259.9,681.2 2260.9,681.1 2261.9,681.1 2262.9,681.0 2264.0,680.9 2265.0,680.9 2266.0,680.8 2267.0,680.7 2268.0,680.7 2269.1,680.6 2270.1,680.5 2271.1,680.5 2272.1,680.4 2273.1,680.4 2274.2,680.3 2275.2,680.3 2276.2,680.2 2277.2,680.2 2278.2,680.1 2279.3,680.0 2280.3,680.0 2281.3,679.9 2282.3,679.9 2283.3,679.8 2284.4,679.8 2285.4,679.7 2286.4,679.7 2287.4,679.6 2288.4,679.6 2289.5,679.5 2290.5,679.4 2291.5,679.4 2292.5,679.3 2293.5,679.3 2294.6,679.2 2295.6,679.2 2296.6,679.1 2297.6,679.1 2298.6,679.0 2299.7,679.0 2300.7,679.0 2301.7,678.9 2302.7,678.9 2303.7,678.8 2304.8,678.8 2305.8,678.7 2306.8,678.7 2307.8,678.6 2308.8,678.6 2309.9,678.6 2310.9,678.5 2311.9,678.5 2312.9,678.5 2313.9,678.4 2315.0,678.4 2316.0,678.4 2317.0,678.3 2318.0,678.3 2319.0,678.3 2320.1,678.2 2321.1,678.2 2322.1,678.2 2323.1,678.2 2324.1,678.1 2325.2,678.1 2326.2,678.1 2327.2,678.1 2328.2,678.0 2329.2,678.0 2330.3,678.0 2331.0,678.0 2332.5,778.0 2332.6,779.2 2332.7,780.5 2332.9,781.7 2333.0,782.9 2333.1,784.1 2333.2,785.3 2333.3,786.5 2333.5,787.7 2333.6,788.9 2333.7,790.1 2333.8,791.3 2333.9,792.5 2334.1,793.7 2334.2,794.9 2334.3,796.1 2334.4,797.2 2334.5,798.4 2334.7,799.6 2334.8,800.7 2334.9,801.9 2335.0,803.1 2335.1,804.2 2335.3,805.4 2335.4,806.5 2335.5,807.6 2335.6,808.8 2335.7,809.9 2335.9,811.0 2336.0,812.1 2336.1,813.2 2336.2,814.3 2336.3,815.4 2336.5,816.5 2336.6,817.6 2336.7,818.7 2336.8,819.8 2336.9,820.8 2337.1,821.9 2337.2,822.9 2337.3,824.0 2337.4,825.0 2337.5,826.1 2337.7,827.1 2337.8,828.1 2337.9,829.2 2338.0,830.2 2338.1,831.2 2338.3,832.2 2338.4,833.2 2338.5,834.2 2338.6,835.2 2338.7,836.2 2338.9,837.2 2339.0,838.2 2339.1,839.2 2339.2,840.2 2339.3,841.2 2339.5,842.2 2339.6,843.2 2339.7,844.2 2339.8,845.2 2340.0,846.5 2340.1,847.7 2340.3,848.9 2340.4,850.2 2340.6,851.4 2340.7,852.6 2340.9,853.8 2341.0,855.0 2341.2,856.2 2341.3,857.4 2341.5,858.6 2341.6,859.8 2341.8,861.0 2341.9,862.1 2342.1,863.3 2342.2,864.4 2342.4,865.6 2342.5,866.7 2342.7,867.8 2342.8,869.0 2343.0,870.1 2343.1,871.2 2343.3,872.3 2343.4,873.3 2343.6,874.4 2343.7,875.5 2343.9,876.5 2344.0,877.5 2344.2,878.6 2344.3,879.6 2344.5,880.6 2344.7,881.8 2344.8,882.9 2345.0,884.1 2345.2,885.2 2345.4,886.3 2345.6,887.4 2345.7,888.4 2345.9,889.5 2346.1,890.5 2346.3,891.5 2346.5,892.5 2346.6,893.5 2346.8,894.5 2347.0,895.5 2347.2,896.5 2347.4,897.7 2347.6,898.8 2347.8,899.9 2348.0,901.0 2348.2,902.1 2348.4,903.2 2348.6,904.3 2348.9,905.4 2349.1,906.5 2349.3,907.5 2349.5,908.6 2349.7,909.6 2349.9,910.6 2350.1,911.6 2350.3,912.6 2350.5,913.6 2350.7,914.6 2351.0,915.7 2351.2,916.8 2351.5,917.9 2351.7,918.9 2351.9,920.0 2352.2,921.0 2352.4,922.0 2352.7,923.0 2352.9,924.0 2353.2,925.1 2353.4,926.1 2353.7,927.2 2354.0,928.2 2354.3,929.2 2354.5,930.1 2354.8,931.2 2355.1,932.2 2355.4,933.2 2355.7,934.1 2356.1,935.2 2356.4,936.1 2356.7,937.1 2357.0,938.1 2357.4,939.0 2357.7,940.0 2358.1,941.1 2358.5,942.0 2358.8,943.0 2359.2,944.0 2359.5,944.9 2359.9,945.9 2360.3,946.9 2360.7,947.8 2361.1,948.7 2361.5,949.7 2361.9,950.7 2362.4,951.6 2362.8,952.5 2363.2,953.5 2363.7,954.4 2364.1,955.3 2364.6,956.3 2365.1,957.2 2365.6,958.1 2366.1,959.0 2366.6,959.9 2367.2,960.8 2367.8,961.6 2368.3,962.5 2368.9,963.3 2369.5,964.2 2370.1,965.0 2370.7,965.9 2371.3,966.7 2371.9,967.5 2372.5,968.3 2373.2,969.1 2373.8,969.9 2374.5,970.6 2375.2,971.4 2375.9,972.1 2376.6,972.8 2377.4,973.5 2378.2,974.0 2379.1,974.6 2380.0,975.0 2381.0,975.4 2381.9,975.7 2382.9,976.1 2383.9,976.4 2384.8,976.7 2385.8,977.0 2386.7,977.3 2387.7,977.6 2388.7,977.9 2389.7,978.1 2390.7,978.3 2391.7,978.5 2392.7,978.6 2393.7,978.8 2394.7,978.9 2395.7,978.9 2396.8,979.0 2397.5,979.0" fill="none" stroke="#0a0a0a" stroke-width="2" stroke-linejoin="round" marker-start="url(#mK)" marker-mid="url(#mK)" marker-end="url(#mK)"/>
<polyline points="1421.3,983.3 1421.8,982.3 1422.3,981.4 1422.8,980.5 1423.3,979.5 1423.8,978.6 1424.3,977.7 1424.8,976.8 1425.4,975.9 1425.9,975.0 1426.4,974.1 1426.9,973.2 1427.4,972.3 1428.1,971.2 1428.7,970.1 1429.4,969.0 1430.1,967.9 1430.8,966.8 1431.4,965.7 1432.1,964.7 1432.8,963.7 1433.5,962.6 1434.1,961.6 1434.8,960.6 1435.5,959.6 1436.2,958.6 1436.8,957.7 1437.5,956.7 1438.2,955.7 1438.9,954.8 1439.5,953.9 1440.2,952.9 1440.9,952.0 1441.6,951.1 1442.2,950.3 1442.9,949.4 1443.6,948.5 1444.3,947.7 1444.9,946.8 1445.6,946.0 1446.3,945.1 1447.0,944.3 1447.6,943.5 1448.3,942.7 1449.0,941.9 1449.7,941.1 1450.4,940.3 1451.0,939.5 1451.7,938.7 1452.4,937.9 1453.1,937.2 1453.7,936.4 1454.4,935.7 1455.2,934.8 1456.1,933.9 1456.9,933.0 1457.8,932.2 1458.6,931.3 1459.5,930.5 1460.3,929.7 1461.2,928.9 1462.0,928.1 1462.8,927.4 1463.7,926.6 1464.5,925.8 1465.4,925.1 1466.2,924.3 1467.1,923.6 1467.9,922.9 1468.8,922.2 1469.6,921.5 1470.4,920.9 1471.3,920.2 1472.1,919.6 1473.0,919.0 1473.8,918.4 1474.7,917.8 1475.5,917.3 1476.5,916.7 1477.5,916.1 1478.6,915.5 1479.6,914.9 1480.6,914.3 1481.6,913.8 1482.6,913.3 1483.6,912.8 1484.6,912.3 1485.7,911.8 1486.7,911.3 1487.7,910.8 1488.7,910.4 1489.7,910.0 1490.7,909.5 1491.7,909.1 1492.7,908.7 1493.8,908.3 1494.8,907.9 1495.8,907.5 1496.8,907.1 1497.8,906.7 1498.8,906.4 1499.8,906.0 1500.9,905.7 1501.9,905.3 1502.9,905.0 1503.9,904.7 1504.9,904.4 1505.9,904.1 1506.9,903.8 1507.9,903.5 1509.0,903.3 1510.0,903.0 1511.0,902.7 1512.0,902.5 1513.0,902.3 1514.0,902.0 1515.0,901.8 1516.1,901.6 1517.1,901.4 1518.1,901.1 1519.1,900.9 1520.1,900.7 1521.1,900.5 1522.1,900.3 1523.1,900.2 1524.2,900.0 1525.2,899.8 1526.2,899.6 1527.2,899.4 1528.2,899.3 1529.2,899.1 1530.2,899.0 1531.3,898.8 1532.3,898.7 1533.3,898.5 1534.3,898.4 1535.3,898.2 1536.3,898.1 1537.3,897.9 1538.3,897.8 1539.4,897.6 1540.4,897.5 1541.4,897.4 1542.4,897.2 1543.4,897.1 1544.4,897.0 1545.4,896.8 1546.5,896.7 1547.5,896.6 1548.5,896.5 1549.5,896.4 1550.5,896.3 1551.5,896.2 1552.5,896.1 1553.5,896.0 1554.6,895.9 1555.6,895.8 1556.6,895.7 1557.6,895.6 1558.6,895.5 1559.0,895.5 1560.5,942.0 1560.8,943.1 1561.2,944.2 1561.5,945.2 1561.9,946.2 1562.4,947.6 1562.9,948.7 1563.4,949.7 1563.9,950.5 1564.6,951.6 1565.2,952.5 1565.9,953.4 1566.6,954.2 1567.3,955.0 1567.9,955.8 1568.8,956.7 1569.6,957.6 1570.3,958.3 1571.0,959.1 1571.6,959.8 1572.5,960.7 1573.3,961.6 1574.2,962.5 1575.0,963.3 1575.9,964.1 1576.7,964.9 1577.6,965.6 1578.4,966.3 1579.2,967.0 1580.1,967.6 1580.9,968.3 1581.8,968.9 1582.6,969.5 1583.5,970.0 1584.3,970.6 1585.2,971.1 1586.2,971.8 1587.2,972.4 1588.2,973.0 1589.2,973.6 1590.2,974.1 1591.2,974.7 1592.3,975.3 1593.3,975.9 1594.3,976.6 1595.3,977.2 1596.3,977.8 1597.3,978.3 1598.3,978.8 1599.3,979.2 1600.4,979.6 1601.4,979.8 1602.4,980.0 1603.2,978.6 1603.4,976.1 1603.6,972.8 1603.7,969.0 1603.9,965.1 1604.1,961.3 1604.2,958.1 1604.4,955.7 1604.6,954.5 1604.8,953.4 1604.9,952.4 1605.3,950.5 1605.6,948.9 1605.9,947.4 1606.3,946.1 1606.6,944.9 1606.9,943.9 1607.3,942.9 1607.8,941.6 1608.3,940.3 1608.8,939.0 1609.3,937.7 1609.6,936.7 1610.0,935.6 1610.3,934.5 1610.7,933.4 1611.0,932.2 1611.3,931.1 1611.7,929.9 1612.0,928.7 1612.4,927.6 1612.7,926.4 1613.0,925.2 1613.4,924.1 1613.7,922.9 1614.0,921.8 1614.4,920.6 1614.7,919.5 1615.1,918.4 1615.4,917.3 1615.7,916.2 1616.1,915.1 1616.4,914.1 1616.7,913.1 1617.1,912.1 1617.4,911.1 1617.9,909.7 1618.4,908.4 1618.9,907.2 1619.4,906.1 1620.0,905.1 1620.5,904.1 1621.0,903.2 1621.5,902.3 1622.0,901.4 1622.7,900.3 1623.3,899.2 1624.0,898.2 1624.7,897.1 1625.4,896.2 1626.0,895.2 1626.7,894.3 1627.4,893.4 1628.1,892.6 1628.7,891.7 1629.4,890.9 1630.1,890.1 1630.8,889.4 1631.6,888.5 1632.5,887.6 1633.3,886.7 1634.1,885.9 1635.0,885.1 1635.8,884.3 1636.7,883.5 1637.5,882.7 1638.4,882.0 1639.2,881.3 1640.1,880.5 1640.9,879.9 1641.7,879.2 1642.6,878.5 1643.4,877.9 1644.3,877.3 1645.1,876.7 1646.0,876.2 1647.0,875.6 1648.0,875.0 1649.0,874.5 1650.0,874.0 1651.0,873.6 1652.0,873.1 1653.1,872.7 1654.1,872.4 1655.1,872.0 1656.1,871.7 1657.1,871.4 1658.1,871.1 1659.1,870.8 1660.2,870.5 1661.2,870.2 1662.2,869.9 1663.2,869.6 1664.2,869.4 1665.2,869.1 1666.2,868.8 1667.2,868.6 1668.3,868.3 1669.3,868.0 1670.3,867.8 1671.3,867.5 1672.3,867.2 1673.3,867.0 1674.3,866.7 1675.4,866.5 1676.4,866.2 1677.4,866.0 1678.4,865.7 1679.4,865.5 1680.4,865.2 1681.4,865.0 1682.4,864.8 1683.5,864.5 1684.5,864.3 1685.5,864.1 1686.5,863.8 1687.5,863.6 1688.5,863.4 1689.5,863.2 1690.6,862.9 1691.6,862.7 1692.6,862.5 1693.6,862.3 1694.6,862.1 1695.6,861.9 1696.6,861.7 1697.6,861.5 1698.7,861.3 1699.7,861.1 1700.7,860.9 1701.7,860.7 1702.7,860.5 1703.7,860.3 1704.7,860.1 1705.8,859.9 1706.8,859.7 1707.8,859.5 1708.8,859.3 1709.8,859.1 1710.8,859.0 1711.8,858.8 1712.8,858.6 1713.9,858.4 1714.9,858.2 1715.9,858.1 1716.9,857.9 1717.9,857.7 1718.9,857.6 1719.9,857.4 1721.0,857.2 1722.0,857.1 1723.0,856.9 1724.0,856.8 1725.0,856.6 1726.0,856.4 1727.0,856.3 1728.0,856.1 1729.0,856.0 1730.5,905.0 1730.8,906.3 1731.2,907.5 1731.5,908.8 1731.9,910.0 1732.2,911.3 1732.5,912.5 1732.9,913.6 1733.2,914.8 1733.5,915.9 1733.9,916.9 1734.2,917.9 1734.7,919.3 1735.2,920.6 1735.7,921.7 1736.2,922.9 1736.7,924.0 1737.3,925.0 1737.8,926.0 1738.3,927.0 1738.8,928.0 1739.3,928.9 1739.8,929.8 1740.3,930.7 1741.0,931.8 1741.6,932.9 1742.3,934.0 1743.0,935.0 1743.7,936.1 1744.3,937.1 1745.0,938.2 1745.7,939.2 1746.4,940.3 1747.1,941.4 1747.7,942.6 1748.4,943.7 1748.9,944.6 1749.4,945.4 1749.9,946.3 1750.4,947.2 1750.9,948.1 1751.4,948.9 1752.0,949.8 1752.5,950.7 1753.0,951.6 1753.5,952.4 1754.0,953.3 1754.7,954.4 1755.3,955.6 1756.0,956.7 1756.7,957.8 1757.4,958.9 1758.0,960.0 1758.7,961.0 1759.4,962.0 1760.1,963.0 1760.7,964.0 1761.4,964.9 1762.1,965.8 1762.8,966.7 1763.4,967.5 1764.1,968.4 1764.8,969.3 1765.5,970.1 1766.1,971.0 1766.8,972.0 1767.5,972.9 1768.2,973.7 1768.8,974.6 1769.5,975.4 1770.2,976.2 1770.9,977.0 1771.7,977.8 1772.6,978.5 1773.4,979.1 1774.4,979.7 1775.4,980.0 1776.3,977.9 1776.4,974.8 1776.6,970.7 1776.8,966.0 1776.9,960.8 1777.1,955.6 1777.3,950.6 1777.5,946.1 1777.6,942.1 1777.8,938.1 1778.0,934.0 1778.1,929.9 1778.3,925.8 1778.5,921.9 1778.6,918.1 1778.8,914.6 1779.0,911.5 1779.1,908.6 1779.3,905.8 1779.5,903.2 1779.6,900.8 1779.8,898.4 1780.0,896.1 1780.2,893.9 1780.3,891.8 1780.5,889.7 1780.7,887.6 1780.8,885.6 1781.0,883.5 1781.2,881.4 1781.3,879.2 1781.5,877.0 1781.7,874.7 1781.8,872.3 1782.0,869.8 1782.2,867.1 1782.4,864.4 1782.5,861.5 1782.7,858.5 1782.9,855.5 1783.0,852.3 1783.2,849.2 1783.4,846.0 1783.5,842.7 1783.7,839.5 1783.9,836.2 1784.0,832.9 1784.2,829.7 1784.4,826.5 1784.5,823.4 1784.7,820.3 1784.9,817.2 1785.1,814.3 1785.2,811.5 1785.4,808.7 1785.6,806.1 1785.7,803.6 1785.9,801.3 1786.1,799.1 1786.2,797.0 1786.4,794.9 1786.6,792.7 1786.7,790.6 1786.9,788.6 1787.1,786.5 1787.3,784.5 1787.4,782.5 1787.6,780.6 1787.8,778.7 1787.9,776.8 1788.1,775.0 1788.3,773.3 1788.4,771.6 1788.6,770.0 1788.8,768.5 1788.9,767.1 1789.1,765.7 1789.3,764.4 1789.4,763.2 1789.6,762.1 1789.8,761.1 1790.1,759.4 1790.5,757.9 1790.8,756.4 1791.1,754.9 1791.5,753.6 1791.8,752.2 1792.1,751.0 1792.5,749.8 1792.8,748.7 1793.2,747.7 1793.5,746.8 1794.0,745.5 1794.5,744.3 1795.0,743.4 1795.7,742.4 1796.4,741.6 1797.2,740.8 1798.1,740.0 1798.9,739.3 1799.7,738.6 1800.6,738.0 1801.4,737.4 1802.5,736.8 1803.5,736.2 1804.5,735.7 1805.5,735.3 1806.5,734.9 1807.5,734.6 1808.5,734.3 1809.5,734.1 1810.6,733.9 1811.6,733.7 1812.6,733.5 1813.6,733.4 1814.6,733.2 1815.6,733.0 1816.6,732.9 1817.7,732.8 1818.7,732.6 1819.7,732.5 1820.7,732.4 1821.7,732.3 1822.7,732.1 1823.7,732.0 1824.7,731.9 1825.8,731.8 1826.8,731.7 1827.8,731.7 1828.8,731.6 1829.8,731.5 1830.8,731.4 1831.8,731.3 1832.9,731.2 1833.9,731.2 1834.9,731.1 1835.9,731.0 1836.9,731.0 1837.9,730.9 1838.9,730.8 1839.9,730.8 1841.0,730.7 1842.0,730.6 1843.0,730.5 1844.0,730.5 1845.0,730.4 1846.0,730.3 1847.0,730.2 1848.1,730.2 1849.1,730.1 1850.1,730.0 1851.1,729.9 1852.1,729.8 1853.1,729.7 1854.1,729.7 1855.1,729.6 1856.2,729.5 1857.2,729.4 1858.2,729.3 1859.2,729.2 1860.2,729.2 1861.2,729.1 1862.2,729.0 1863.3,728.9 1864.3,728.8 1865.3,728.8 1866.3,728.7 1867.3,728.6 1868.3,728.5 1869.3,728.5 1870.3,728.4 1871.4,728.3 1872.4,728.2 1873.4,728.2 1874.4,728.1 1875.4,728.0 1876.4,728.0 1877.4,727.9 1878.5,727.8 1879.5,727.7 1880.5,727.7 1881.5,727.6 1882.5,727.5 1883.5,727.4 1884.5,727.4 1885.6,727.3 1886.6,727.2 1887.6,727.2 1888.6,727.1 1889.6,727.0 1890.6,727.0 1891.6,726.9 1892.6,726.8 1893.7,726.7 1894.7,726.7 1895.7,726.6 1896.7,726.5 1897.7,726.5 1898.7,726.4 1899.7,726.3 1900.8,726.3 1901.8,726.2 1902.8,726.1 1903.8,726.1 1904.8,726.0 1905.8,725.9 1906.8,725.9 1907.8,725.8 1908.9,725.7 1909.9,725.7 1910.9,725.6 1911.9,725.6 1912.9,725.5 1913.9,725.4 1914.9,725.4 1916.0,725.3 1917.0,725.2 1918.0,725.2 1919.0,725.1 1920.0,725.1 1921.0,725.0 1922.5,802.0 1922.7,805.4 1922.8,808.8 1923.0,812.2 1923.2,815.4 1923.3,818.6 1923.5,821.7 1923.7,824.7 1923.9,827.6 1924.0,830.3 1924.2,833.0 1924.4,835.6 1924.5,838.2 1924.7,840.8 1924.9,843.3 1925.0,845.8 1925.2,848.2 1925.4,850.6 1925.5,853.0 1925.7,855.2 1925.9,857.4 1926.0,859.5 1926.2,861.6 1926.4,863.6 1926.6,865.5 1926.7,867.3 1926.9,869.0 1927.1,870.6 1927.2,872.1 1927.4,873.7 1927.6,875.2 1927.7,876.6 1927.9,878.1 1928.1,879.5 1928.2,880.9 1928.4,882.2 1928.6,883.5 1928.7,884.8 1928.9,886.1 1929.1,887.3 1929.3,888.6 1929.4,889.7 1929.6,890.9 1929.8,892.0 1929.9,893.2 1930.1,894.2 1930.3,895.3 1930.4,896.4 1930.6,897.4 1930.8,898.4 1931.1,900.3 1931.5,902.2 1931.8,903.9 1932.1,905.6 1932.5,907.3 1932.8,908.9 1933.1,910.5 1933.5,912.0 1933.8,913.5 1934.2,915.0 1934.5,916.4 1934.8,917.8 1935.2,919.2 1935.5,920.5 1935.8,921.8 1936.2,923.0 1936.5,924.2 1936.9,925.4 1937.2,926.6 1937.5,927.7 1937.9,928.8 1938.2,929.9 1938.5,930.9 1938.9,931.9 1939.2,932.9 1939.6,933.8 1940.1,935.2 1940.6,936.5 1941.1,937.7 1941.6,938.9 1942.1,940.1 1942.6,941.2 1943.1,942.3 1943.6,943.4 1944.1,944.4 1944.6,945.4 1945.1,946.4 1945.6,947.4 1946.1,948.3 1946.7,949.2 1947.2,950.1 1947.7,951.0 1948.2,951.9 1948.7,952.7 1949.2,953.6 1949.7,954.5 1950.2,955.3 1950.9,956.5 1951.6,957.6 1952.2,958.7 1952.9,959.8 1953.6,960.9 1954.3,961.9 1954.9,962.9 1955.6,964.0 1956.3,964.9 1957.0,965.9 1957.6,966.9 1958.3,967.8 1959.0,968.7 1959.7,969.6 1960.3,970.4 1961.0,971.3 1961.7,972.1 1962.4,972.9 1963.0,973.7 1963.7,974.5 1964.4,975.3 1965.1,976.0 1965.7,976.8 1966.6,977.7 1967.4,978.5 1968.3,979.4 1969.1,980.2 1970.0,981.0 1970.0,981.0 1976.0,910.0 1976.2,908.4 1976.3,906.8 1976.5,905.1 1976.7,903.5 1976.8,901.8 1977.0,900.2 1977.2,898.5 1977.4,896.9 1977.5,895.2 1977.7,893.5 1977.9,891.8 1978.0,890.1 1978.2,888.4 1978.4,886.6 1978.5,884.9 1978.7,883.1 1978.9,881.4 1979.0,879.6 1979.2,877.8 1979.4,876.0 1979.5,874.2 1979.7,872.4 1979.9,870.6 1980.1,868.7 1980.2,866.9 1980.4,865.1 1980.6,863.2 1980.7,861.4 1980.9,859.5 1981.1,857.6 1981.2,855.8 1981.4,853.9 1981.6,852.0 1981.7,850.1 1981.9,848.2 1982.1,846.3 1982.2,844.4 1982.4,842.5 1982.6,840.5 1982.8,838.6 1982.9,836.7 1983.1,834.7 1983.3,832.8 1983.4,830.8 1983.6,828.8 1983.8,826.8 1983.9,824.9 1984.1,822.9 1984.3,820.9 1984.4,818.9 1984.6,816.8 1984.8,814.8 1985.0,812.8 1985.1,810.7 1985.3,808.7 1985.5,806.6 1985.6,804.6 1985.8,802.5 1986.0,800.4 1986.1,798.3 1986.3,796.2 1986.5,793.9 1986.6,791.6 1986.8,789.3 1987.0,786.9 1987.1,784.5 1987.3,782.0 1987.5,779.5 1987.7,777.0 1987.8,774.5 1988.0,771.9 1988.2,769.3 1988.3,766.8 1988.5,764.2 1988.7,761.6 1988.8,759.1 1989.0,756.5 1989.2,754.0 1989.3,751.5 1989.5,749.1 1989.7,746.7 1989.8,744.3 1990.0,742.0 1990.2,739.7 1990.4,737.5 1990.5,735.3 1990.7,733.2 1990.9,731.2 1991.0,729.3 1991.2,727.4 1991.4,725.7 1991.5,724.0 1991.7,722.5 1991.9,721.0 1992.0,719.6 1992.2,718.3 1992.4,717.0 1992.6,715.7 1992.7,714.5 1992.9,713.2 1993.1,712.0 1993.2,710.7 1993.4,709.6 1993.6,708.4 1993.7,707.3 1993.9,706.2 1994.1,705.2 1994.2,704.2 1994.6,702.3 1994.9,700.6 1995.3,699.2 1995.6,698.0 1996.1,696.8 1996.6,695.8 1997.1,694.9 1997.8,693.8 1998.5,692.8 1999.1,692.0 1999.8,691.2 2000.7,690.4 2001.5,689.8 2002.5,689.2 2003.5,688.8 2004.5,688.5 2005.6,688.1 2006.6,687.8 2007.6,687.5 2008.6,687.2 2009.6,686.9 2010.6,686.7 2011.6,686.4 2012.7,686.2 2013.7,686.0 2014.7,685.7 2015.7,685.5 2016.7,685.4 2017.7,685.2 2018.7,685.0 2019.7,684.8 2020.8,684.7 2021.8,684.5 2022.8,684.4 2023.8,684.2 2024.8,684.1 2025.8,684.0 2026.8,683.8 2027.9,683.7 2028.9,683.6 2029.9,683.5 2030.9,683.4 2031.9,683.3 2032.9,683.2 2033.9,683.1 2034.9,682.9 2036.0,682.8 2037.0,682.7 2038.0,682.6 2039.0,682.5 2040.0,682.4 2041.0,682.3 2042.0,682.2 2043.1,682.0 2044.1,681.9 2045.1,681.8 2046.1,681.6 2047.1,681.5 2048.1,681.3 2049.1,681.1 2050.1,681.0 2051.2,680.8 2052.2,680.6 2053.2,680.5 2054.2,680.3 2055.2,680.1 2056.2,679.9 2057.2,679.8 2058.3,679.6 2059.3,679.4 2060.3,679.2 2061.3,679.1 2062.3,678.9 2063.3,678.7 2064.3,678.6 2065.3,678.4 2066.4,678.2 2067.4,678.0 2068.4,677.9 2069.4,677.7 2070.4,677.5 2071.4,677.3 2072.4,677.2 2073.5,677.0 2074.5,676.8 2075.5,676.6 2076.5,676.5 2077.5,676.3 2078.5,676.1 2079.5,675.9 2080.5,675.7 2081.6,675.6 2082.6,675.4 2083.6,675.2 2084.6,675.0 2085.6,674.8 2086.6,674.6 2087.6,674.4 2088.7,674.3 2089.7,674.1 2090.7,673.9 2091.7,673.7 2092.7,673.5 2093.7,673.3 2094.7,673.1 2095.8,672.9 2096.8,672.7 2097.8,672.5 2098.8,672.3 2099.8,672.1 2100.8,671.9 2101.8,671.7 2102.8,671.5 2103.9,671.3 2104.9,671.1 2105.9,670.9 2106.9,670.7 2107.9,670.4 2108.9,670.2 2109.9,670.0 2111.0,669.8 2112.0,669.6 2113.0,669.4 2114.0,669.2 2115.0,668.9 2116.0,668.7 2117.0,668.5 2118.0,668.3 2119.1,668.1 2120.1,667.9 2121.1,667.6 2122.1,667.4 2123.1,667.2 2124.0,667.0 2125.5,771.0 2125.7,774.4 2125.8,777.8 2126.0,781.1 2126.2,784.5 2126.3,787.7 2126.5,791.0 2126.7,794.2 2126.9,797.3 2127.0,800.4 2127.2,803.4 2127.4,806.5 2127.5,809.6 2127.7,812.6 2127.9,815.7 2128.0,818.7 2128.2,821.8 2128.4,824.7 2128.5,827.7 2128.7,830.6 2128.9,833.4 2129.0,836.1 2129.2,838.8 2129.4,841.4 2129.6,843.9 2129.7,846.3 2129.9,848.6 2130.1,850.8 2130.2,852.9 2130.4,855.0 2130.6,857.1 2130.7,859.1 2130.9,861.2 2131.1,863.1 2131.2,865.1 2131.4,867.0 2131.6,868.9 2131.7,870.8 2131.9,872.7 2132.1,874.5 2132.3,876.2 2132.4,878.0 2132.6,879.7 2132.8,881.3 2132.9,883.0 2133.1,884.6 2133.3,886.2 2133.4,887.7 2133.6,889.2 2133.8,890.6 2133.9,892.0 2134.1,893.4 2134.3,894.8 2134.5,896.1 2134.6,897.3 2134.8,898.5 2135.0,899.7 2135.1,900.9 2135.3,902.0 2135.5,903.1 2135.6,904.2 2135.8,905.3 2136.0,906.3 2136.1,907.4 2136.3,908.4 2136.5,909.4 2136.6,910.4 2136.8,911.4 2137.2,913.4 2137.5,915.2 2137.8,917.0 2138.2,918.8 2138.5,920.5 2138.8,922.1 2139.2,923.7 2139.5,925.3 2139.9,926.7 2140.2,928.2 2140.5,929.6 2140.9,930.9 2141.2,932.2 2141.5,933.4 2141.9,934.6 2142.2,935.7 2142.6,936.9 2142.9,938.0 2143.2,939.1 2143.6,940.1 2143.9,941.2 2144.2,942.2 2144.6,943.2 2144.9,944.2 2145.3,945.1 2145.8,946.5 2146.3,947.9 2146.8,949.2 2147.3,950.5 2147.8,951.7 2148.3,952.8 2148.8,954.0 2149.3,955.0 2149.8,956.1 2150.3,957.1 2150.8,958.0 2151.3,958.9 2152.0,960.0 2152.7,961.1 2153.4,962.1 2154.0,963.2 2154.7,964.2 2155.4,965.1 2156.1,966.1 2156.7,967.0 2157.4,967.8 2158.1,968.7 2158.8,969.5 2159.4,970.3 2160.3,971.2 2161.1,972.0 2162.0,972.8 2162.8,973.5 2163.7,974.1 2164.5,974.7 2165.5,975.3 2166.5,975.9 2167.6,976.5 2168.6,977.0 2169.6,977.5 2170.6,978.1 2171.6,978.5 2172.6,979.0 2173.6,979.4 2174.6,979.8 2175.7,980.1 2176.7,980.4 2177.7,980.6 2178.7,980.8 2179.7,980.9 2180.7,981.0 2181.0,981.0 2185.0,905.0 2185.2,903.8 2185.3,902.4 2185.5,901.0 2185.7,899.4 2185.8,897.8 2186.0,896.0 2186.2,894.2 2186.4,892.3 2186.5,890.3 2186.7,888.2 2186.9,886.1 2187.0,883.9 2187.2,881.6 2187.4,879.3 2187.5,876.9 2187.7,874.4 2187.9,871.9 2188.0,869.4 2188.2,866.7 2188.4,863.8 2188.5,860.8 2188.7,857.6 2188.9,854.2 2189.1,850.7 2189.2,847.1 2189.4,843.4 2189.6,839.6 2189.7,835.7 2189.9,831.7 2190.1,827.7 2190.2,823.5 2190.4,819.4 2190.6,815.2 2190.7,811.0 2190.9,806.8 2191.1,802.5 2191.2,798.3 2191.4,794.1 2191.6,790.0 2191.8,785.8 2191.9,781.8 2192.1,777.8 2192.3,773.7 2192.4,769.5 2192.6,765.3 2192.8,761.0 2192.9,756.7 2193.1,752.3 2193.3,748.0 2193.4,743.5 2193.6,739.1 2193.8,734.7 2194.0,730.3 2194.1,725.8 2194.3,721.4 2194.5,717.1 2194.6,712.8 2194.8,708.5 2195.0,704.2 2195.1,700.1 2195.3,696.0 2195.5,692.0 2195.6,688.0 2195.8,684.2 2196.0,680.5 2196.1,676.8 2196.3,673.0 2196.5,669.1 2196.7,665.2 2196.8,661.3 2197.0,657.5 2197.2,653.6 2197.3,649.9 2197.5,646.2 2197.7,642.7 2197.8,639.3 2198.0,636.0 2198.2,633.0 2198.3,630.2 2198.5,627.7 2198.7,625.4 2198.8,623.5 2199.0,621.8 2199.2,620.4 2199.4,618.9 2199.5,617.5 2199.7,616.2 2199.9,614.9 2200.0,613.6 2200.2,612.4 2200.4,611.2 2200.5,610.0 2200.7,608.9 2200.9,607.9 2201.0,606.9 2201.4,605.1 2201.7,603.5 2202.1,602.2 2202.4,601.2 2202.9,600.1 2203.6,599.4 2204.4,598.6 2205.3,597.9 2206.1,597.3 2207.1,596.7 2208.1,596.2 2209.2,595.8 2210.2,595.4 2211.2,595.2 2212.2,595.0 2213.2,594.8 2214.2,594.6 2215.2,594.4 2216.2,594.2 2217.3,594.0 2218.3,593.9 2219.3,593.7 2220.3,593.5 2221.3,593.4 2222.3,593.3 2223.3,593.1 2224.4,593.0 2225.4,592.9 2226.4,592.8 2227.4,592.7 2228.4,592.5 2229.4,592.4 2230.4,592.3 2231.4,592.3 2232.5,592.2 2233.5,592.1 2234.5,592.0 2235.5,591.9 2236.5,591.8 2237.5,591.7 2238.5,591.7 2239.6,591.6 2240.6,591.5 2241.6,591.5 2242.6,591.4 2243.6,591.3 2244.6,591.2 2245.6,591.2 2246.6,591.1 2247.7,591.0 2248.7,591.0 2249.7,590.9 2250.7,590.8 2251.7,590.7 2252.7,590.6 2253.7,590.6 2254.8,590.5 2255.8,590.4 2256.8,590.3 2257.8,590.2 2258.8,590.1 2259.8,590.0 2260.8,589.9 2261.8,589.8 2262.9,589.7 2263.9,589.6 2264.9,589.5 2265.9,589.4 2266.9,589.3 2267.9,589.2 2268.9,589.1 2270.0,589.0 2271.0,588.9 2272.0,588.8 2273.0,588.7 2274.0,588.6 2275.0,588.5 2276.0,588.4 2277.1,588.3 2278.1,588.2 2279.1,588.1 2280.1,588.1 2281.1,588.0 2282.1,587.9 2283.1,587.8 2284.1,587.7 2285.2,587.6 2286.2,587.5 2287.2,587.4 2288.2,587.3 2289.2,587.2 2290.2,587.1 2291.2,586.9 2292.3,586.8 2293.3,586.7 2294.3,586.6 2295.3,586.5 2296.3,586.4 2297.3,586.3 2298.3,586.2 2299.3,586.1 2300.4,586.0 2301.4,585.8 2302.4,585.7 2303.4,585.6 2304.4,585.5 2305.4,585.4 2306.4,585.2 2307.5,585.1 2308.5,585.0 2309.5,584.9 2310.5,584.7 2311.5,584.6 2312.5,584.5 2313.5,584.4 2314.5,584.2 2315.6,584.1 2316.6,584.0 2317.6,583.8 2318.6,583.7 2319.6,583.6 2320.6,583.4 2321.6,583.3 2322.7,583.2 2323.7,583.0 2324.7,582.9 2325.7,582.8 2326.7,582.6 2327.7,582.5 2328.7,582.3 2329.7,582.2 2330.8,582.0 2331.8,581.9 2332.8,581.8 2333.8,581.6 2334.8,581.5 2335.8,581.3 2336.8,581.2 2337.9,581.0 2338.0,581.0 2339.0,690.0 2339.2,695.0 2339.3,700.0 2339.5,705.0 2339.7,710.0 2339.8,715.1 2340.0,720.2 2340.2,725.2 2340.4,730.3 2340.5,735.4 2340.7,740.5 2340.9,745.7 2341.0,750.8 2341.2,756.3 2341.4,762.3 2341.5,768.5 2341.7,774.9 2341.9,781.2 2342.0,787.4 2342.2,793.3 2342.4,798.7 2342.5,803.4 2342.7,807.4 2342.9,810.5 2343.1,812.6 2343.2,814.3 2343.4,815.9 2343.6,817.5 2343.7,819.0 2343.9,820.4 2344.1,821.7 2344.2,823.0 2344.4,824.2 2344.6,825.3 2344.7,826.4 2344.9,827.4 2345.2,829.3 2345.6,831.0 2345.9,832.6 2346.3,834.1 2346.6,835.4 2346.9,836.7 2347.3,838.0 2347.6,839.2 2348.0,840.5 2348.3,841.8 2348.6,843.2 2349.0,844.6 2349.3,846.2 2349.6,848.0 2350.0,849.9 2350.1,850.9 2350.3,851.9 2350.5,853.0 2350.7,854.0 2350.8,855.1 2351.0,856.2 2351.2,857.3 2351.3,858.4 2351.5,859.6 2351.7,860.7 2351.8,861.8 2352.0,863.0 2352.2,864.1 2352.3,865.3 2352.5,866.5 2352.7,867.6 2352.8,868.8 2353.0,870.0 2353.2,871.1 2353.4,872.3 2353.5,873.5 2353.7,874.7 2353.9,875.8 2354.0,877.0 2354.2,878.1 2354.4,879.3 2354.5,880.5 2354.7,881.6 2354.9,882.7 2355.0,883.9 2355.2,885.0 2355.4,886.1 2355.6,887.2 2355.7,888.2 2355.9,889.3 2356.1,890.4 2356.2,891.4 2356.4,892.5 2356.6,893.5 2356.7,894.6 2356.9,895.6 2357.1,896.7 2357.2,897.7 2357.4,898.8 2357.6,899.8 2357.7,900.9 2357.9,901.9 2358.1,903.0 2358.3,904.0 2358.4,905.0 2358.6,906.1 2358.8,907.1 2358.9,908.1 2359.1,909.1 2359.3,910.1 2359.4,911.1 2359.6,912.1 2359.9,914.0 2360.3,916.0 2360.6,917.8 2361.0,919.7 2361.3,921.4 2361.6,923.2 2362.0,924.9 2362.3,926.5 2362.6,928.1 2363.0,929.7 2363.3,931.3 2363.7,932.9 2364.0,934.4 2364.3,935.9 2364.7,937.4 2365.0,938.8 2365.3,940.3 2365.7,941.6 2366.0,943.0 2366.4,944.3 2366.7,945.6 2367.0,946.8 2367.4,948.0 2367.7,949.1 2368.1,950.2 2368.4,951.2 2368.7,952.2 2369.1,953.1 2369.6,954.5 2370.1,955.7 2370.6,957.0 2371.1,958.2 2371.6,959.4 2372.1,960.5 2372.6,961.7 2373.1,962.9 2373.6,964.1 2374.1,965.3 2374.6,966.6 2375.1,967.9 2375.7,969.1 2376.2,970.4 2376.7,971.7 2377.2,972.9 2377.7,974.2 2378.0,975.0" fill="none" stroke="#e8141a" stroke-width="2" stroke-linejoin="round" marker-start="url(#mR)" marker-mid="url(#mR)" marker-end="url(#mR)"/>
</g>
<rect x="1391.5" y="334.0" width="1027.5" height="769.0" fill="none" stroke="#1c1c1c" stroke-width="3"/>
<line x1="1422.3" y1="1103.0" x2="1422.3" y2="1013.5" stroke="#177a17" stroke-width="3"/>
<polygon points="1415.8,1013.5 1428.8,1013.5 1422.3,991.5" fill="#177a17"/>
<text transform="translate(1459.3,1100.0) rotate(-90)" font-size="35" fill="#23862a" textLength="107" lengthAdjust="spacingAndGlyphs">Gas in</text>
<line x1="1604.0" y1="1103.0" x2="1604.0" y2="1013.5" stroke="#177a17" stroke-width="3"/>
<polygon points="1597.5,1013.5 1610.5,1013.5 1604.0,991.5" fill="#177a17"/>
<text transform="translate(1641.0,1100.0) rotate(-90)" font-size="35" fill="#23862a" textLength="107" lengthAdjust="spacingAndGlyphs">Gas in</text>
<line x1="1779.3" y1="1103.0" x2="1779.3" y2="1013.5" stroke="#177a17" stroke-width="3"/>
<polygon points="1772.8,1013.5 1785.8,1013.5 1779.3,991.5" fill="#177a17"/>
<text transform="translate(1816.3,1100.0) rotate(-90)" font-size="35" fill="#23862a" textLength="107" lengthAdjust="spacingAndGlyphs">Gas in</text>
<line x1="1971.4" y1="1103.0" x2="1971.4" y2="1013.5" stroke="#177a17" stroke-width="3"/>
<polygon points="1964.9,1013.5 1977.9,1013.5 1971.4,991.5" fill="#177a17"/>
<text transform="translate(2008.4,1100.0) rotate(-90)" font-size="35" fill="#23862a" textLength="107" lengthAdjust="spacingAndGlyphs">Gas in</text>
<line x1="2181.8" y1="1103.0" x2="2181.8" y2="1013.5" stroke="#177a17" stroke-width="3"/>
<polygon points="2175.3,1013.5 2188.3,1013.5 2181.8,991.5" fill="#177a17"/>
<text transform="translate(2218.8,1100.0) rotate(-90)" font-size="35" fill="#23862a" textLength="107" lengthAdjust="spacingAndGlyphs">Gas in</text>
<line x1="1562.7" y1="765.0" x2="1562.7" y2="866.0" stroke="#177a17" stroke-width="3"/>
<polygon points="1556.2,866.0 1569.2,866.0 1562.7,888.0" fill="#177a17"/>
<text transform="translate(1599.7,894.0) rotate(-90)" font-size="34" fill="#23862a" textLength="128" lengthAdjust="spacingAndGlyphs">Gas out</text>
<line x1="1731.4" y1="725.0" x2="1731.4" y2="827.0" stroke="#177a17" stroke-width="3"/>
<polygon points="1724.9,827.0 1737.9,827.0 1731.4,849.0" fill="#177a17"/>
<text transform="translate(1768.4,855.0) rotate(-90)" font-size="34" fill="#23862a" textLength="128" lengthAdjust="spacingAndGlyphs">Gas out</text>
<line x1="1921.0" y1="593.0" x2="1921.0" y2="698.0" stroke="#177a17" stroke-width="3"/>
<polygon points="1914.5,698.0 1927.5,698.0 1921.0,720.0" fill="#177a17"/>
<text transform="translate(1958.0,726.0) rotate(-90)" font-size="34" fill="#23862a" textLength="128" lengthAdjust="spacingAndGlyphs">Gas out</text>
<line x1="2124.4" y1="536.0" x2="2124.4" y2="642.0" stroke="#177a17" stroke-width="3"/>
<polygon points="2117.9,642.0 2130.9,642.0 2124.4,664.0" fill="#177a17"/>
<text transform="translate(2161.4,670.0) rotate(-90)" font-size="34" fill="#23862a" textLength="128" lengthAdjust="spacingAndGlyphs">Gas out</text>
<line x1="2337.0" y1="451.0" x2="2337.0" y2="554.0" stroke="#177a17" stroke-width="3"/>
<polygon points="2330.5,554.0 2343.5,554.0 2337.0,576.0" fill="#177a17"/>
<text transform="translate(2374.0,582.0) rotate(-90)" font-size="34" fill="#23862a" textLength="128" lengthAdjust="spacingAndGlyphs">Gas out</text>
<text transform="translate(1510.5,900.0) rotate(-90)" font-size="42.5" fill="#111">100ppm</text>
<text transform="translate(1688.0,853.0) rotate(-90)" font-size="42.5" fill="#111">200ppm</text>
<text transform="translate(1860.5,720.0) rotate(-90)" font-size="42.5" fill="#111">300ppm</text>
<text transform="translate(2079.5,666.5) rotate(-90)" font-size="42.5" fill="#111">500ppm</text>
<text transform="translate(2287.5,573.0) rotate(-90)" font-size="42.5" fill="#111">700ppm</text>
<rect x="1445.2" y="336.0" width="316.29999999999995" height="236.39999999999998" fill="#fff" stroke="#7a7a7a" stroke-width="2"/>
<line x1="1445.2" y1="572.4" x2="1445.2" y2="567.4" stroke="#666" stroke-width="1.5"/>
<line x1="1484.7" y1="572.4" x2="1484.7" y2="569.4" stroke="#666" stroke-width="1.5"/>
<line x1="1524.3" y1="572.4" x2="1524.3" y2="567.4" stroke="#666" stroke-width="1.5"/>
<line x1="1563.8" y1="572.4" x2="1563.8" y2="569.4" stroke="#666" stroke-width="1.5"/>
<line x1="1603.4" y1="572.4" x2="1603.4" y2="567.4" stroke="#666" stroke-width="1.5"/>
<line x1="1642.9" y1="572.4" x2="1642.9" y2="569.4" stroke="#666" stroke-width="1.5"/>
<line x1="1682.4" y1="572.4" x2="1682.4" y2="567.4" stroke="#666" stroke-width="1.5"/>
<line x1="1722.0" y1="572.4" x2="1722.0" y2="569.4" stroke="#666" stroke-width="1.5"/>
<line x1="1761.5" y1="572.4" x2="1761.5" y2="567.4" stroke="#666" stroke-width="1.5"/>
<text x="1445.2" y="590.0" font-size="16" fill="#333" text-anchor="middle">0</text>
<text x="1524.3" y="590.0" font-size="16" fill="#333" text-anchor="middle">400</text>
<text x="1603.4" y="590.0" font-size="16" fill="#333" text-anchor="middle">800</text>
<text x="1682.4" y="590.0" font-size="16" fill="#333" text-anchor="middle">1200</text>
<text x="1761.5" y="590.0" font-size="16" fill="#333" text-anchor="middle">1600</text>
<text x="1608.0" y="613.0" font-size="24" fill="#222" text-anchor="middle" textLength="88" lengthAdjust="spacingAndGlyphs">Time (s)</text>
<text transform="translate(1437.0,550.0) rotate(-90)" font-size="24" fill="#222" textLength="186" lengthAdjust="spacingAndGlyphs">Resistance (a.u.)</text>
<text x="1662.5" y="461.0" font-size="28" fill="#111" textLength="80" lengthAdjust="spacingAndGlyphs">p-type</text>
<polyline points="1446.0,555.8 1447.2,555.8 1448.4,555.8 1449.6,555.7 1450.7,555.7 1451.9,555.7 1453.1,555.7 1454.3,555.7 1455.5,555.7 1456.7,555.6 1457.8,555.6 1459.0,555.6 1460.2,555.6 1461.4,555.6 1462.6,555.6 1463.8,555.6 1465.0,555.6 1466.1,555.6 1467.3,555.5 1468.5,555.5 1469.7,555.5 1470.9,555.5 1472.1,555.5 1473.3,555.5 1474.4,555.5 1475.6,555.5 1476.8,555.5 1478.0,555.5 1479.2,555.5 1480.4,555.5 1481.5,555.5 1482.7,555.5 1483.9,555.5 1485.1,555.5 1486.3,555.5 1487.5,555.5 1488.7,555.5 1489.8,555.5 1491.0,555.5 1492.2,555.5 1493.4,555.5 1494.6,555.5 1495.8,555.5 1497.0,555.6 1498.1,555.6 1499.3,555.6 1500.5,555.6 1501.7,555.6 1502.9,555.6 1504.1,555.6 1505.2,555.6 1506.4,555.6 1507.6,555.6 1508.8,555.7 1510.0,555.7 1511.2,555.7 1512.4,555.7 1513.5,555.7 1514.7,555.7 1515.9,555.8 1517.1,555.8 1518.3,555.8 1518.7,555.8 1519.5,474.0 1519.9,469.4 1520.3,464.9 1520.7,460.6 1521.1,456.3 1521.5,452.3 1521.9,448.2 1522.3,444.3 1522.7,440.4 1523.1,436.8 1523.4,433.6 1523.8,430.6 1524.2,427.7 1524.6,424.9 1525.0,422.2 1525.4,419.7 1525.8,417.2 1526.2,414.9 1526.6,412.6 1527.0,410.5 1527.4,408.5 1527.8,406.6 1528.2,404.8 1528.6,403.0 1529.0,401.3 1529.4,399.7 1529.8,398.1 1530.2,396.6 1530.6,395.1 1531.0,393.7 1531.3,392.3 1531.7,390.9 1532.1,389.6 1532.5,388.2 1532.9,386.9 1533.3,385.6 1533.7,384.3 1534.1,383.0 1534.5,381.8 1534.9,380.5 1535.3,379.3 1535.7,378.2 1536.1,377.0 1536.5,375.9 1536.9,374.8 1537.3,373.8 1537.7,372.8 1538.1,371.8 1538.5,370.9 1538.9,370.0 1539.2,369.1 1539.6,368.2 1540.0,367.3 1540.4,366.4 1540.8,365.6 1541.2,364.8 1541.6,364.0 1542.0,363.3 1542.4,362.5 1543.2,361.2 1544.0,360.0 1544.8,358.9 1545.6,357.9 1546.4,356.9 1547.1,356.0 1547.9,355.1 1548.7,354.3 1549.5,353.5 1550.3,352.8 1551.1,352.2 1551.9,351.6 1552.7,351.0 1553.5,350.5 1554.3,350.0 1555.0,349.5 1555.8,349.0 1556.6,348.6 1557.4,348.2 1558.2,347.9 1559.0,347.7 1559.8,347.5 1561.0,347.4 1562.2,347.3 1563.3,347.2 1564.5,347.1 1565.7,347.0 1566.9,347.0 1568.1,346.9 1569.3,346.8 1570.5,346.8 1571.6,346.7 1572.8,346.7 1574.0,346.6 1575.2,346.6 1576.4,346.6 1577.6,346.6 1578.7,346.5 1579.9,346.5 1581.1,346.5 1582.3,346.5 1583.5,346.4 1584.7,346.4 1585.9,346.4 1587.0,346.4 1588.2,346.3 1589.4,346.3 1590.6,346.3 1591.8,346.3 1593.0,346.3 1594.2,346.2 1595.3,346.2 1596.5,346.2 1597.7,346.2 1598.9,346.2 1600.1,346.1 1601.3,346.1 1602.4,346.1 1603.6,346.1 1604.8,346.1 1606.0,346.1 1607.2,346.1 1608.4,346.1 1609.6,346.0 1610.7,346.0 1611.9,346.0 1613.1,346.0 1614.3,346.0 1615.5,346.0 1616.7,346.0 1617.9,346.0 1619.0,346.0 1620.2,346.0 1620.5,346.0 1621.0,419.0 1622.2,419.2 1623.0,419.5 1623.8,420.0 1624.6,420.6 1625.3,421.5 1625.7,422.3 1626.1,423.6 1626.5,425.1 1626.9,426.9 1627.3,428.9 1627.7,431.1 1628.1,433.5 1628.5,436.0 1628.9,438.6 1629.3,441.3 1629.7,443.9 1630.1,446.6 1630.5,449.8 1630.9,453.8 1631.3,458.1 1631.7,462.7 1632.1,467.1 1632.5,471.2 1632.8,474.7 1633.2,477.3 1633.6,479.0 1634.0,480.4 1634.4,481.6 1634.8,482.7 1635.2,483.6 1635.6,484.5 1636.0,485.3 1636.4,486.0 1636.8,486.7 1637.2,487.5 1637.6,488.3 1638.0,489.2 1638.4,490.2 1638.8,491.3 1639.2,492.6 1639.6,494.1 1640.0,495.8 1640.4,497.7 1640.7,499.7 1641.1,501.8 1641.5,503.9 1641.9,506.0 1642.3,508.1 1642.7,510.0 1643.1,511.8 1643.5,513.4 1643.9,514.7 1644.3,515.9 1644.7,517.0 1645.1,518.1 1645.5,519.2 1645.9,520.2 1646.3,521.2 1646.7,522.1 1647.1,523.0 1647.5,523.9 1647.9,524.7 1648.3,525.5 1648.6,526.2 1649.4,527.5 1650.2,528.5 1651.0,529.3 1651.8,530.0 1652.6,530.7 1653.4,531.2 1654.2,531.7 1655.0,532.2 1655.8,532.5 1656.5,532.9 1657.3,533.1 1658.1,533.3 1659.3,533.4 1660.5,533.6 1661.3,533.8 1662.1,534.0 1662.9,536.0 1663.3,537.7 1663.7,539.6 1664.1,541.7 1664.4,543.7 1664.8,545.5 1665.2,546.8 1665.6,547.6 1666.4,547.9 1667.2,548.1 1668.0,548.3 1668.8,548.4 1669.6,548.6 1670.8,548.7 1672.0,548.9 1673.1,549.0 1674.3,549.1 1675.5,549.2 1676.7,549.3 1677.9,549.3 1679.1,549.4 1680.2,549.5 1681.4,549.6 1682.6,549.7 1683.8,549.8 1685.0,549.9 1686.2,550.0 1687.4,550.0 1688.5,550.1 1689.7,550.2 1690.9,550.2 1692.1,550.3 1693.3,550.4 1694.5,550.5 1695.7,550.5 1696.8,550.6 1698.0,550.7 1699.2,550.8 1700.4,550.9 1701.6,551.0 1702.8,551.0 1703.9,551.1 1705.1,551.2 1706.3,551.3 1707.5,551.4 1708.7,551.5 1709.9,551.5 1711.1,551.6 1712.2,551.7 1713.4,551.8 1714.6,551.9 1715.8,552.0 1717.0,552.1 1718.2,552.1 1719.4,552.2 1720.5,552.3 1721.7,552.4 1722.9,552.5 1724.1,552.6 1725.3,552.7 1726.5,552.7 1727.6,552.8 1728.8,552.9 1730.0,553.0 1731.2,553.1 1732.4,553.2 1733.6,553.3 1734.8,553.3 1735.9,553.4 1737.1,553.5 1738.3,553.6 1739.5,553.7 1740.7,553.8 1741.9,553.9 1743.1,554.0 1744.2,554.0 1745.4,554.1 1746.6,554.2 1747.8,554.3 1749.0,554.4 1750.2,554.5 1751.3,554.6 1752.5,554.7 1753.7,554.8 1754.9,554.8 1756.1,554.9 1757.0,555.0" fill="none" stroke="#111" stroke-width="1.5" stroke-linejoin="round" marker-start="url(#mi)" marker-mid="url(#mi)" marker-end="url(#mi)"/>
<line x1="1517.0" y1="512.0" x2="1517.0" y2="538.4" stroke="#177a17" stroke-width="3"/>
<polygon points="1512.0,538.4 1522.0,538.4 1517.0,556.4" fill="#177a17"/>
<text transform="translate(1509.0,548.0) rotate(-90)" font-size="32" fill="#23862a" textLength="94" lengthAdjust="spacingAndGlyphs">Gas in</text>
<line x1="1622.0" y1="422.0" x2="1622.0" y2="382.7" stroke="#177a17" stroke-width="3"/>
<polygon points="1617.0,382.7 1627.0,382.7 1622.0,364.7" fill="#177a17"/>
<text transform="translate(1609.0,472.0) rotate(-90)" font-size="30" fill="#23862a" textLength="114" lengthAdjust="spacingAndGlyphs">Gas out</text>
<rect x="1843" y="335.5" width="177" height="220.4" fill="#fff" stroke="#555" stroke-width="2.5"/>
<line x1="1849.5" y1="388.7" x2="1904.8" y2="388.7" stroke="#22229a" stroke-width="4.5"/>
<circle cx="1877.3" cy="388.7" r="4" fill="#fff" stroke="#22229a" stroke-width="1.5"/>
<text x="1909.0" y="396.0" font-size="38" fill="#111" textLength="73" lengthAdjust="spacingAndGlyphs">TF0</text>
<line x1="1849.5" y1="438.9" x2="1904.8" y2="438.9" stroke="#c23cc2" stroke-width="4.5"/>
<circle cx="1877.3" cy="438.9" r="4" fill="#fff" stroke="#c23cc2" stroke-width="1.5"/>
<text x="1913.5" y="446.2" font-size="38" fill="#111" textLength="106" lengthAdjust="spacingAndGlyphs">TF1.5</text>
<line x1="1849.5" y1="488.4" x2="1904.8" y2="488.4" stroke="#111" stroke-width="4.5"/>
<circle cx="1877.3" cy="488.4" r="4" fill="#fff" stroke="#111" stroke-width="1.5"/>
<text x="1913.5" y="495.8" font-size="38" fill="#111" textLength="72.5" lengthAdjust="spacingAndGlyphs">TF2</text>
<line x1="1849.5" y1="538.9" x2="1904.8" y2="538.9" stroke="#b0302e" stroke-width="4.5"/>
<circle cx="1877.3" cy="538.9" r="4" fill="#fff" stroke="#b0302e" stroke-width="1.5"/>
<text x="1913.5" y="545.3" font-size="38" fill="#111" textLength="73" lengthAdjust="spacingAndGlyphs">TF3</text>
</svg>
</body></html>
